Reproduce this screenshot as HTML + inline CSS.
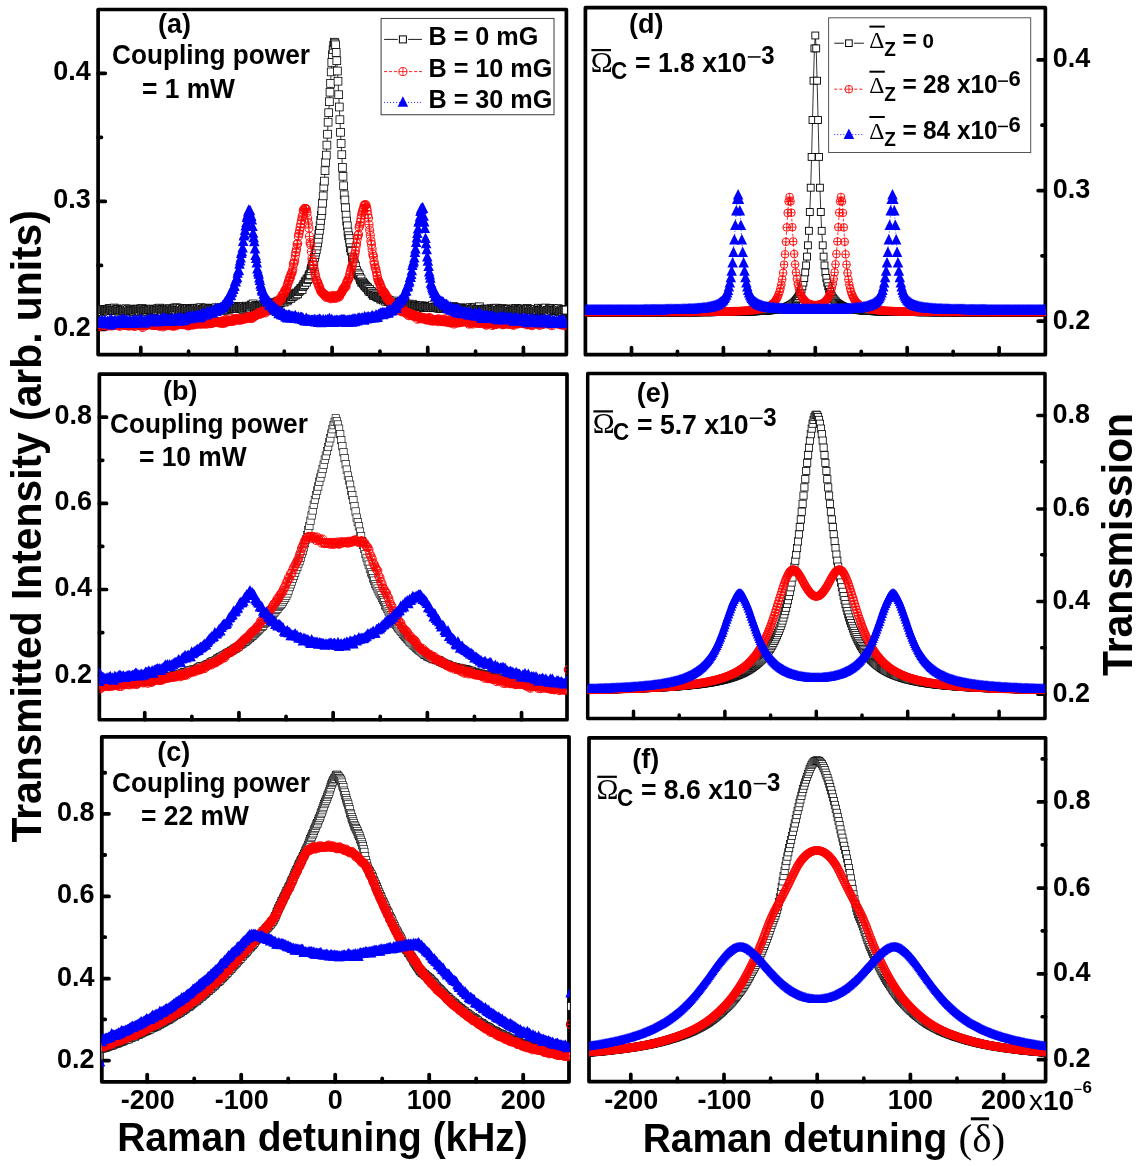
<!DOCTYPE html>
<html><head><meta charset="utf-8"><title>EIT figure</title>
<style>html,body{margin:0;padding:0;background:#fff}svg{display:block;will-change:transform}text{font-family:"Liberation Sans", sans-serif;font-weight:bold;fill:#000}.s{font-family:"Liberation Serif", serif;font-weight:normal}.n{font-weight:normal}</style></head><body>
<svg width="1136" height="1166" viewBox="0 0 1136 1166">
<rect width="1136" height="1166" fill="#fff"/>
<defs>
<marker id="ka" markerUnits="userSpaceOnUse" markerWidth="9.8" markerHeight="9.8" refX="4.40" refY="4.40" overflow="visible"><rect x="0.5" y="0.5" width="7.80" height="7.80" fill="#fff" stroke="#000" stroke-width="0.80"/></marker>
<marker id="ra" markerUnits="userSpaceOnUse" markerWidth="10.0" markerHeight="10.0" refX="4.50" refY="4.50" overflow="visible"><circle cx="4.50" cy="4.50" r="4.05" fill="none" stroke="#f00" stroke-width="0.9"/><path d="M0.45 4.50H8.55M4.50 0.45V8.55" stroke="#f00" stroke-width="0.8" fill="none"/></marker>
<marker id="ba" markerUnits="userSpaceOnUse" markerWidth="11.5" markerHeight="11.5" refX="5.25" refY="6.09" overflow="visible"><path d="M0 10.50L5.25 0L10.50 10.50Z" fill="#00f"/></marker>
<marker id="kb" markerUnits="userSpaceOnUse" markerWidth="9.4" markerHeight="9.4" refX="4.20" refY="4.20" overflow="visible"><rect x="0.5" y="0.5" width="7.40" height="7.40" fill="#fff" stroke="#000" stroke-width="0.65"/></marker>
<marker id="rb" markerUnits="userSpaceOnUse" markerWidth="10.4" markerHeight="10.4" refX="4.70" refY="4.70" overflow="visible"><circle cx="4.70" cy="4.70" r="4.25" fill="none" stroke="#f00" stroke-width="0.9"/><path d="M0.45 4.70H8.95M4.70 0.45V8.95" stroke="#f00" stroke-width="0.8" fill="none"/></marker>
<marker id="bb" markerUnits="userSpaceOnUse" markerWidth="11.5" markerHeight="11.5" refX="5.25" refY="6.09" overflow="visible"><path d="M0 10.50L5.25 0L10.50 10.50Z" fill="#00f"/></marker>
<marker id="kc" markerUnits="userSpaceOnUse" markerWidth="9.6" markerHeight="9.6" refX="4.30" refY="4.30" overflow="visible"><rect x="0.5" y="0.5" width="7.60" height="7.60" fill="#fff" stroke="#000" stroke-width="0.65"/></marker>
<marker id="rc" markerUnits="userSpaceOnUse" markerWidth="10.0" markerHeight="10.0" refX="4.50" refY="4.50" overflow="visible"><circle cx="4.50" cy="4.50" r="4.05" fill="none" stroke="#f00" stroke-width="0.9"/><path d="M0.45 4.50H8.55M4.50 0.45V8.55" stroke="#f00" stroke-width="0.8" fill="none"/></marker>
<marker id="bc" markerUnits="userSpaceOnUse" markerWidth="11.0" markerHeight="11.0" refX="5.00" refY="5.80" overflow="visible"><path d="M0 10.00L5.00 0L10.00 10.00Z" fill="#00f"/></marker>
<marker id="kd" markerUnits="userSpaceOnUse" markerWidth="8.9" markerHeight="8.9" refX="3.95" refY="3.95" overflow="visible"><rect x="0.5" y="0.5" width="6.90" height="6.90" fill="#fff" stroke="#000" stroke-width="0.90"/></marker>
<marker id="rd" markerUnits="userSpaceOnUse" markerWidth="9.6" markerHeight="9.6" refX="4.30" refY="4.30" overflow="visible"><circle cx="4.30" cy="4.30" r="3.85" fill="none" stroke="#f00" stroke-width="0.9"/><path d="M0.45 4.30H8.15M4.30 0.45V8.15" stroke="#f00" stroke-width="0.8" fill="none"/></marker>
<marker id="bd" markerUnits="userSpaceOnUse" markerWidth="11.5" markerHeight="11.5" refX="5.25" refY="6.09" overflow="visible"><path d="M0 10.50L5.25 0L10.50 10.50Z" fill="#00f"/></marker>
<marker id="ke" markerUnits="userSpaceOnUse" markerWidth="9.2" markerHeight="9.2" refX="4.10" refY="4.10" overflow="visible"><rect x="0.5" y="0.5" width="7.20" height="7.20" fill="#fff" stroke="#000" stroke-width="0.80"/></marker>
<marker id="re" markerUnits="userSpaceOnUse" markerWidth="9.8" markerHeight="9.8" refX="4.40" refY="4.40" overflow="visible"><circle cx="4.40" cy="4.40" r="3.95" fill="none" stroke="#f00" stroke-width="0.9"/><path d="M0.45 4.40H8.35M4.40 0.45V8.35" stroke="#f00" stroke-width="0.8" fill="none"/></marker>
<marker id="be" markerUnits="userSpaceOnUse" markerWidth="10.6" markerHeight="10.6" refX="4.80" refY="5.57" overflow="visible"><path d="M0 9.60L4.80 0L9.60 9.60Z" fill="#00f"/></marker>
<marker id="kf" markerUnits="userSpaceOnUse" markerWidth="9.2" markerHeight="9.2" refX="4.10" refY="4.10" overflow="visible"><rect x="0.5" y="0.5" width="7.20" height="7.20" fill="#fff" stroke="#000" stroke-width="0.75"/></marker>
<marker id="rf" markerUnits="userSpaceOnUse" markerWidth="9.8" markerHeight="9.8" refX="4.40" refY="4.40" overflow="visible"><circle cx="4.40" cy="4.40" r="3.95" fill="none" stroke="#f00" stroke-width="0.9"/><path d="M0.45 4.40H8.35M4.40 0.45V8.35" stroke="#f00" stroke-width="0.8" fill="none"/></marker>
<marker id="bf" markerUnits="userSpaceOnUse" markerWidth="10.2" markerHeight="10.0" refX="4.60" refY="5.22" overflow="visible"><path d="M0 9.00L4.60 0L9.20 9.00Z" fill="#00f"/></marker>
</defs>
<path d="M140.80 354.60v-7.20M236.45 354.60v-7.20M332.10 354.60v-7.20M427.75 354.60v-7.20M523.40 354.60v-7.20M188.63 354.60v-3.40M284.28 354.60v-3.40M379.93 354.60v-3.40M475.58 354.60v-3.40M98.10 73.30h7.20M98.10 201.40h7.20M98.10 329.50h7.20M98.10 137.35h3.40M98.10 265.45h3.40" stroke="#000" stroke-width="3.70" stroke-linecap="round" fill="none"/>
<rect x="98.10" y="9.50" width="468.30" height="345.10" fill="none" stroke="#000" stroke-width="3.70" stroke-linejoin="round"/>
<path d="M144.75 719.75v-7.20M238.95 719.75v-7.20M333.15 719.75v-7.20M427.35 719.75v-7.20M521.55 719.75v-7.20M191.85 719.75v-3.40M286.05 719.75v-3.40M380.25 719.75v-3.40M474.45 719.75v-3.40M99.35 417.20h7.20M99.35 503.40h7.20M99.35 589.50h7.20M99.35 675.70h7.20M99.35 460.28h3.40M99.35 546.45h3.40M99.35 632.62h3.40" stroke="#000" stroke-width="3.70" stroke-linecap="round" fill="none"/>
<rect x="99.35" y="374.20" width="467.65" height="345.55" fill="none" stroke="#000" stroke-width="3.70" stroke-linejoin="round"/>
<path d="M147.20 1081.80v-7.20M241.20 1081.80v-7.20M335.20 1081.80v-7.20M429.20 1081.80v-7.20M523.20 1081.80v-7.20M194.20 1081.80v-3.40M288.20 1081.80v-3.40M382.20 1081.80v-3.40M476.20 1081.80v-3.40M101.80 813.85h7.20M101.80 896.40h7.20M101.80 978.70h7.20M101.80 1060.60h7.20M101.80 772.73h3.40M101.80 854.98h3.40M101.80 937.22h3.40M101.80 1019.47h3.40" stroke="#000" stroke-width="3.80" stroke-linecap="round" fill="none"/>
<rect x="101.80" y="736.90" width="467.20" height="344.90" fill="none" stroke="#000" stroke-width="3.80" stroke-linejoin="round"/>
<path d="M631.50 354.70v-7.20M723.40 354.70v-7.20M815.30 354.70v-7.20M907.20 354.70v-7.20M999.10 354.70v-7.20M677.45 354.70v-3.40M769.35 354.70v-3.40M861.25 354.70v-3.40M953.15 354.70v-3.40M1045.35 59.90h-7.20M1045.35 190.60h-7.20M1045.35 321.10h-7.20M1045.35 125.20h-3.40M1045.35 255.80h-3.40" stroke="#000" stroke-width="3.70" stroke-linecap="round" fill="none"/>
<rect x="585.40" y="7.70" width="459.95" height="347.00" fill="none" stroke="#000" stroke-width="3.70" stroke-linejoin="round"/>
<path d="M633.50 718.50v-7.20M724.90 718.50v-7.20M816.30 718.50v-7.20M907.70 718.50v-7.20M999.10 718.50v-7.20M679.20 718.50v-3.40M770.60 718.50v-3.40M862.00 718.50v-3.40M953.40 718.50v-3.40M1045.00 415.40h-7.20M1045.00 508.90h-7.20M1045.00 601.60h-7.20M1045.00 694.20h-7.20M1045.00 461.87h-3.40M1045.00 554.80h-3.40M1045.00 647.73h-3.40" stroke="#000" stroke-width="3.50" stroke-linecap="round" fill="none"/>
<rect x="587.70" y="373.50" width="457.30" height="345.00" fill="none" stroke="#000" stroke-width="3.50" stroke-linejoin="round"/>
<path d="M630.80 1081.55v-7.20M724.00 1081.55v-7.20M817.20 1081.55v-7.20M910.40 1081.55v-7.20M1003.60 1081.55v-7.20M677.40 1081.55v-3.40M770.60 1081.55v-3.40M863.80 1081.55v-3.40M957.00 1081.55v-3.40M1045.60 801.90h-7.20M1045.60 888.10h-7.20M1045.60 973.90h-7.20M1045.60 1059.70h-7.20M1045.60 758.93h-3.40M1045.60 844.87h-3.40M1045.60 930.80h-3.40M1045.60 1016.73h-3.40" stroke="#000" stroke-width="3.70" stroke-linecap="round" fill="none"/>
<rect x="589.00" y="737.80" width="456.60" height="343.75" fill="none" stroke="#000" stroke-width="3.70" stroke-linejoin="round"/>
<clipPath id="cpa"><rect x="98.10" y="9.50" width="468.30" height="345.10"/></clipPath>
<g clip-path="url(#cpa)">
<polyline points="98.1,310.3 98.7,310.6 99.3,310.1 100.0,309.5 100.6,309.9 101.2,309.4 101.8,310.4 102.4,311.5 103.1,309.9 103.7,309.7 104.3,310.7 104.9,310.6 105.5,310.4 106.2,309.5 106.8,310.3 107.4,310.9 108.0,309.1 108.6,309.9 109.3,308.6 109.9,309.1 110.5,308.6 111.1,310.1 111.7,309.1 112.4,310.5 113.0,310.4 113.6,310.1 114.2,308.0 114.8,309.8 115.5,310.2 116.1,310.3 116.7,308.9 117.3,309.8 117.9,309.4 118.6,309.5 119.2,311.2 119.8,309.5 120.4,310.2 121.0,311.0 121.7,309.7 122.3,310.1 122.9,310.3 123.5,310.3 124.1,309.1 124.8,310.3 125.4,311.4 126.0,308.8 126.6,311.0 127.2,310.3 127.9,309.6 128.5,312.0 129.1,310.9 129.7,309.1 130.3,310.2 131.0,310.7 131.6,310.0 132.2,310.8 132.8,310.1 133.4,310.7 134.1,311.4 134.7,309.5 135.3,310.3 135.9,309.7 136.5,310.2 137.2,309.0 137.8,309.6 138.4,309.9 139.0,310.9 139.6,311.1 140.3,308.9 140.9,309.4 141.5,310.7 142.1,308.3 142.7,309.7 143.4,310.0 144.0,311.2 144.6,310.7 145.2,309.8 145.8,309.7 146.5,309.8 147.1,311.4 147.7,309.7 148.3,309.8 148.9,310.3 149.6,309.9 150.2,309.8 150.8,309.0 151.4,310.0 152.0,309.6 152.7,311.0 153.3,310.6 153.9,310.0 154.5,310.6 155.1,309.7 155.8,310.9 156.4,310.0 157.0,310.5 157.6,308.8 158.2,310.3 158.9,308.4 159.5,308.1 160.1,309.6 160.7,309.1 161.3,310.1 162.0,311.9 162.6,309.1 163.2,309.3 163.8,310.1 164.4,310.3 165.1,309.7 165.7,309.7 166.3,310.5 166.9,310.3 167.5,308.9 168.2,309.8 168.8,309.9 169.4,308.9 170.0,310.0 170.6,309.0 171.3,310.7 171.9,310.0 172.5,309.9 173.1,309.2 173.7,309.7 174.4,308.0 175.0,308.7 175.6,310.1 176.2,307.8 176.8,310.5 177.5,308.1 178.1,310.4 178.7,308.9 179.3,310.4 179.9,309.8 180.6,308.3 181.2,310.8 181.8,311.0 182.4,309.6 183.0,309.4 183.7,309.5 184.3,308.7 184.9,310.6 185.5,309.1 186.1,309.5 186.8,308.9 187.4,309.0 188.0,308.4 188.6,310.7 189.2,309.4 189.9,310.4 190.5,309.5 191.1,308.9 191.7,309.2 192.3,309.0 193.0,309.5 193.6,309.1 194.2,309.2 194.8,308.2 195.4,308.7 196.1,310.9 196.7,308.8 197.3,308.4 197.9,309.7 198.5,310.6 199.2,308.0 199.8,309.1 200.4,308.8 201.0,307.7 201.6,310.0 202.3,309.3 202.9,309.3 203.5,308.6 204.1,309.6 204.7,308.7 205.4,309.1 206.0,308.2 206.6,308.1 207.2,310.4 207.8,308.7 208.5,309.4 209.1,309.1 209.7,308.7 210.3,308.6 210.9,309.6 211.6,308.8 212.2,308.9 212.8,309.0 213.4,310.0 214.0,309.6 214.7,309.3 215.3,308.4 215.9,307.7 216.5,309.7 217.1,309.7 217.8,308.7 218.4,309.3 219.0,309.5 219.6,309.5 220.2,309.6 220.9,308.3 221.5,310.1 222.1,307.6 222.7,309.5 223.3,309.1 224.0,309.4 224.6,310.3 225.2,309.9 225.8,307.5 226.4,307.0 227.1,309.2 227.7,307.6 228.3,308.4 228.9,309.2 229.5,306.9 230.2,306.5 230.8,308.6 231.4,308.4 232.0,308.1 232.6,308.3 233.3,307.4 233.9,306.8 234.5,308.0 235.1,307.2 235.7,306.6 236.4,308.5 237.0,308.0 237.6,308.4 238.2,307.1 238.8,307.3 239.5,307.0 240.1,307.0 240.7,308.0 241.3,307.1 241.9,308.0 242.6,308.0 243.2,309.5 243.8,306.3 244.4,308.4 245.0,307.4 245.7,307.4 246.3,306.1 246.9,307.0 247.5,308.0 248.1,307.2 248.8,307.3 249.4,306.9 250.0,308.2 250.6,307.0 251.2,305.0 251.9,306.3 252.5,305.1 253.1,303.9 253.7,306.3 254.3,307.9 255.0,306.7 255.6,305.5 256.2,305.7 256.8,307.5 257.4,306.5 258.1,306.4 258.7,306.2 259.3,306.2 259.9,306.8 260.5,306.5 261.2,306.1 261.8,304.9 262.4,306.2 263.0,305.1 263.6,306.6 264.3,304.4 264.9,305.3 265.5,305.3 266.1,304.0 266.7,306.7 267.4,306.3 268.0,304.5 268.6,305.5 269.2,305.0 269.8,302.2 270.5,304.7 271.1,304.3 271.7,304.3 272.3,303.1 272.9,303.7 273.6,303.7 274.2,304.7 274.8,303.8 275.4,303.4 276.0,304.6 276.7,302.6 277.3,302.6 277.9,301.1 278.5,304.0 279.1,303.3 279.8,303.0 280.4,302.6 281.0,301.9 281.6,301.8 282.2,301.2 282.9,301.0 283.5,301.0 284.1,302.1 284.7,301.0 285.3,300.2 286.0,299.5 286.6,299.1 287.2,300.9 287.8,299.6 288.4,298.9 289.1,298.2 289.7,297.2 290.3,297.8 290.9,298.3 291.5,296.8 292.2,296.6 292.8,296.2 293.4,296.1 294.0,294.1 294.6,294.9 295.3,293.8 295.9,294.9 296.5,292.9 297.1,293.6 297.7,293.9 298.4,291.7 299.0,290.8 299.6,290.9 300.2,290.0 300.8,288.4 301.5,289.0 302.1,289.6 302.7,286.7 303.3,285.9 303.9,284.2 304.6,284.5 305.2,282.1 305.8,281.1 306.4,282.2 307.0,279.0 307.7,279.5 308.3,278.6 308.9,276.0 309.5,274.8 310.1,274.4 310.8,270.8 311.4,268.6 312.0,266.0 312.6,265.2 313.2,264.3 313.9,261.5 314.5,257.3 315.1,254.7 315.7,252.1 316.3,249.7 317.0,246.0 317.6,242.8 318.2,239.1 318.8,234.4 319.4,230.3 320.1,225.7 320.7,220.4 321.3,215.4 321.9,210.7 322.5,203.2 323.2,195.9 323.8,187.0 324.4,181.1 325.0,170.7 325.6,162.3 326.3,155.1 326.9,145.1 327.5,134.2 328.1,122.2 328.7,112.7 329.4,101.7 330.0,92.2 330.6,83.4 331.2,71.9 331.8,62.4 332.5,54.6 333.1,49.6 333.7,45.3 334.3,42.2 334.9,43.1 335.6,44.8 336.2,52.5 336.8,60.7 337.4,71.0 338.0,81.2 338.7,94.7 339.3,107.0 339.9,119.7 340.5,132.3 341.1,143.5 341.8,154.7 342.4,167.4 343.0,176.3 343.6,185.8 344.2,194.8 344.9,200.0 345.5,207.8 346.1,215.1 346.7,221.1 347.3,225.8 348.0,232.0 348.6,235.7 349.2,238.6 349.8,242.6 350.4,247.7 351.1,250.6 351.7,251.5 352.3,257.1 352.9,259.0 353.5,262.1 354.2,262.8 354.8,264.9 355.4,266.1 356.0,271.2 356.6,270.5 357.3,273.6 357.9,273.1 358.5,275.3 359.1,274.9 359.7,277.4 360.4,279.8 361.0,278.9 361.6,282.0 362.2,282.4 362.8,282.1 363.5,283.5 364.1,284.4 364.7,285.6 365.3,285.9 365.9,286.4 366.6,287.6 367.2,287.6 367.8,288.1 368.4,289.8 369.0,291.2 369.7,289.6 370.3,291.6 370.9,291.5 371.5,291.7 372.1,293.9 372.8,293.1 373.4,295.4 374.0,293.7 374.6,295.2 375.2,295.1 375.9,295.0 376.5,296.6 377.1,296.2 377.7,297.3 378.3,297.0 379.0,296.4 379.6,297.6 380.2,298.0 380.8,299.2 381.4,297.8 382.1,298.8 382.7,297.6 383.3,300.0 383.9,298.6 384.5,298.2 385.2,300.0 385.8,301.3 386.4,299.2 387.0,299.8 387.6,300.3 388.3,300.1 388.9,301.7 389.5,300.8 390.1,301.1 390.7,302.4 391.4,301.4 392.0,302.6 392.6,301.5 393.2,301.5 393.8,301.0 394.5,304.5 395.1,302.7 395.7,303.4 396.3,303.2 396.9,303.6 397.6,303.6 398.2,305.4 398.8,302.9 399.4,302.5 400.0,303.1 400.7,302.9 401.3,304.9 401.9,305.1 402.5,303.6 403.1,303.3 403.8,304.4 404.4,306.0 405.0,302.3 405.6,305.4 406.2,304.1 406.9,306.1 407.5,304.3 408.1,305.1 408.7,304.1 409.3,304.6 410.0,306.8 410.6,306.4 411.2,305.4 411.8,305.0 412.4,304.2 413.1,305.6 413.7,306.0 414.3,306.0 414.9,306.1 415.5,305.2 416.2,306.2 416.8,306.3 417.4,307.6 418.0,308.2 418.6,306.4 419.3,305.9 419.9,306.6 420.5,306.2 421.1,306.1 421.7,306.8 422.4,305.9 423.0,307.5 423.6,306.9 424.2,307.3 424.8,306.9 425.5,306.5 426.1,306.3 426.7,307.0 427.3,306.8 427.9,307.5 428.6,307.3 429.2,306.2 429.8,307.5 430.4,306.3 431.0,307.0 431.7,307.3 432.3,305.7 432.9,307.7 433.5,307.8 434.1,307.6 434.8,307.4 435.4,307.4 436.0,306.9 436.6,307.6 437.2,307.4 437.9,308.0 438.5,306.9 439.1,308.2 439.7,308.1 440.3,307.9 441.0,307.7 441.6,308.6 442.2,306.6 442.8,308.6 443.4,308.4 444.1,308.5 444.7,308.6 445.3,307.7 445.9,308.1 446.5,308.9 447.2,308.7 447.8,308.6 448.4,307.0 449.0,308.9 449.6,309.5 450.3,309.4 450.9,308.7 451.5,307.1 452.1,309.4 452.7,308.4 453.4,306.3 454.0,309.0 454.6,307.3 455.2,307.5 455.8,308.1 456.5,309.9 457.1,308.4 457.7,309.0 458.3,310.3 458.9,310.2 459.6,308.7 460.2,308.6 460.8,307.7 461.4,308.2 462.0,309.3 462.7,309.3 463.3,309.0 463.9,309.8 464.5,308.3 465.1,308.9 465.8,309.6 466.4,309.5 467.0,310.0 467.6,309.4 468.2,308.8 468.9,309.4 469.5,308.2 470.1,307.6 470.7,309.6 471.3,309.1 472.0,309.4 472.6,307.6 473.2,308.8 473.8,308.6 474.4,308.4 475.1,307.2 475.7,308.9 476.3,310.0 476.9,309.6 477.5,308.7 478.2,309.3 478.8,310.0 479.4,306.8 480.0,309.2 480.6,309.8 481.3,310.0 481.9,310.9 482.5,310.4 483.1,309.7 483.7,309.7 484.4,310.1 485.0,308.9 485.6,309.4 486.2,310.2 486.8,311.2 487.5,309.3 488.1,309.4 488.7,309.7 489.3,310.7 489.9,309.5 490.6,310.8 491.2,308.6 491.8,309.4 492.4,309.4 493.0,310.3 493.7,310.5 494.3,308.2 494.9,308.8 495.5,309.9 496.1,309.0 496.8,308.2 497.4,310.5 498.0,310.1 498.6,310.1 499.2,309.2 499.9,310.6 500.5,309.4 501.1,310.6 501.7,308.9 502.3,308.9 503.0,309.9 503.6,309.1 504.2,310.3 504.8,309.9 505.4,308.9 506.1,309.8 506.7,309.4 507.3,310.6 507.9,309.2 508.5,309.4 509.2,310.9 509.8,311.8 510.4,311.6 511.0,309.8 511.6,310.0 512.3,311.2 512.9,309.7 513.5,308.9 514.1,309.9 514.7,310.2 515.4,309.1 516.0,308.4 516.6,308.6 517.2,310.5 517.8,309.2 518.5,309.7 519.1,310.1 519.7,310.4 520.3,309.6 520.9,310.3 521.6,309.1 522.2,309.6 522.8,309.0 523.4,310.9 524.0,309.9 524.7,309.3 525.3,309.6 525.9,309.7 526.5,310.6 527.1,308.5 527.8,309.0 528.4,309.6 529.0,312.2 529.6,310.8 530.2,309.9 530.9,310.6 531.5,311.8 532.1,309.8 532.7,309.7 533.3,311.1 534.0,310.4 534.6,310.6 535.2,309.6 535.8,311.7 536.4,311.6 537.1,310.5 537.7,310.6 538.3,308.2 538.9,310.6 539.5,309.9 540.2,310.4 540.8,310.7 541.4,309.8 542.0,308.5 542.6,310.4 543.3,309.4 543.9,309.8 544.5,309.5 545.1,309.8 545.7,308.0 546.4,311.2 547.0,310.3 547.6,311.1 548.2,311.9 548.8,310.1 549.5,308.5 550.1,309.3 550.7,309.0 551.3,309.7 551.9,310.2 552.6,308.3 553.2,310.4 553.8,308.8 554.4,310.4 555.0,310.0 555.7,309.9 556.3,310.1 556.9,309.7 557.5,309.6 558.1,308.6 558.8,310.1 559.4,311.8 560.0,312.0 560.6,311.4 561.2,310.8 561.9,309.6 562.5,311.5 563.1,310.1 563.7,310.1 564.3,309.9 565.0,310.3 565.6,309.8 566.2,310.1" fill="none" stroke="#000" stroke-width="0.8" style="marker:url(#ka)"/>
<polyline points="98.1,323.5 98.7,324.2 99.3,326.6 100.0,324.5 100.6,324.3 101.2,325.0 101.8,325.2 102.4,323.6 103.1,324.4 103.7,325.4 104.3,324.8 104.9,324.7 105.5,326.0 106.2,324.0 106.8,324.7 107.4,324.2 108.0,326.0 108.6,322.9 109.3,324.1 109.9,324.2 110.5,325.3 111.1,325.2 111.7,326.0 112.4,323.3 113.0,325.4 113.6,324.5 114.2,324.1 114.8,325.2 115.5,323.9 116.1,322.9 116.7,324.5 117.3,323.5 117.9,324.2 118.6,325.2 119.2,325.1 119.8,326.3 120.4,324.7 121.0,323.5 121.7,324.2 122.3,324.1 122.9,323.8 123.5,325.3 124.1,324.3 124.8,323.2 125.4,325.6 126.0,324.9 126.6,325.3 127.2,325.1 127.9,325.6 128.5,325.0 129.1,326.1 129.7,325.4 130.3,325.4 131.0,325.4 131.6,323.7 132.2,324.9 132.8,324.8 133.4,325.2 134.1,323.8 134.7,326.5 135.3,325.2 135.9,324.0 136.5,323.5 137.2,324.8 137.8,325.0 138.4,324.4 139.0,325.2 139.6,324.5 140.3,325.6 140.9,324.4 141.5,325.0 142.1,326.0 142.7,327.4 143.4,324.2 144.0,324.7 144.6,324.3 145.2,325.8 145.8,324.0 146.5,324.6 147.1,325.0 147.7,324.1 148.3,324.2 148.9,324.6 149.6,323.1 150.2,323.7 150.8,324.6 151.4,325.1 152.0,324.8 152.7,323.3 153.3,324.5 153.9,325.6 154.5,325.4 155.1,324.8 155.8,324.1 156.4,325.4 157.0,324.3 157.6,323.8 158.2,324.1 158.9,326.1 159.5,325.0 160.1,325.8 160.7,324.3 161.3,325.6 162.0,324.2 162.6,324.6 163.2,326.9 163.8,325.4 164.4,324.2 165.1,324.6 165.7,324.9 166.3,325.7 166.9,324.1 167.5,323.0 168.2,324.3 168.8,324.5 169.4,324.6 170.0,325.7 170.6,324.8 171.3,325.2 171.9,323.4 172.5,325.2 173.1,326.3 173.7,325.1 174.4,324.6 175.0,324.5 175.6,325.9 176.2,323.5 176.8,324.2 177.5,324.7 178.1,324.9 178.7,323.8 179.3,324.5 179.9,323.9 180.6,324.2 181.2,324.0 181.8,323.1 182.4,324.0 183.0,324.8 183.7,323.1 184.3,323.8 184.9,324.6 185.5,323.0 186.1,324.1 186.8,322.9 187.4,324.9 188.0,325.9 188.6,325.6 189.2,323.6 189.9,324.4 190.5,323.8 191.1,323.8 191.7,325.1 192.3,322.5 193.0,324.6 193.6,323.5 194.2,324.8 194.8,323.7 195.4,322.9 196.1,323.7 196.7,324.1 197.3,323.4 197.9,323.8 198.5,322.9 199.2,321.4 199.8,324.1 200.4,323.8 201.0,323.3 201.6,323.2 202.3,324.0 202.9,322.7 203.5,322.4 204.1,322.8 204.7,324.0 205.4,321.7 206.0,323.9 206.6,322.3 207.2,321.8 207.8,323.9 208.5,322.6 209.1,321.5 209.7,322.3 210.3,323.4 210.9,323.6 211.6,322.1 212.2,322.8 212.8,323.0 213.4,321.8 214.0,322.6 214.7,322.2 215.3,321.7 215.9,321.7 216.5,322.1 217.1,322.1 217.8,321.5 218.4,321.5 219.0,322.9 219.6,322.0 220.2,322.5 220.9,322.8 221.5,322.2 222.1,323.6 222.7,320.8 223.3,322.2 224.0,321.1 224.6,323.0 225.2,322.8 225.8,319.4 226.4,320.2 227.1,321.6 227.7,321.7 228.3,321.5 228.9,320.7 229.5,321.1 230.2,321.2 230.8,320.5 231.4,321.4 232.0,318.4 232.6,320.9 233.3,319.3 233.9,321.0 234.5,319.8 235.1,319.2 235.7,320.2 236.4,319.0 237.0,318.9 237.6,318.2 238.2,319.5 238.8,319.8 239.5,320.2 240.1,319.0 240.7,320.0 241.3,319.0 241.9,318.7 242.6,319.2 243.2,319.5 243.8,318.2 244.4,318.1 245.0,318.1 245.7,318.2 246.3,317.1 246.9,318.7 247.5,317.3 248.1,317.9 248.8,316.6 249.4,317.5 250.0,317.4 250.6,316.5 251.2,318.6 251.9,316.9 252.5,318.0 253.1,317.1 253.7,315.5 254.3,315.5 255.0,316.1 255.6,315.5 256.2,315.3 256.8,314.8 257.4,313.2 258.1,314.4 258.7,312.4 259.3,314.5 259.9,313.3 260.5,313.1 261.2,313.3 261.8,313.4 262.4,311.6 263.0,311.1 263.6,311.4 264.3,310.2 264.9,310.9 265.5,312.9 266.1,310.2 266.7,311.4 267.4,309.2 268.0,310.4 268.6,309.5 269.2,309.3 269.8,309.5 270.5,310.1 271.1,308.3 271.7,307.8 272.3,306.3 272.9,307.2 273.6,306.0 274.2,306.4 274.8,305.1 275.4,306.1 276.0,302.2 276.7,303.1 277.3,303.5 277.9,301.7 278.5,300.6 279.1,300.3 279.8,298.5 280.4,299.1 281.0,300.3 281.6,298.2 282.2,295.2 282.9,294.4 283.5,293.7 284.1,293.9 284.7,291.0 285.3,289.9 286.0,290.0 286.6,288.5 287.2,285.9 287.8,283.7 288.4,281.6 289.1,280.6 289.7,277.3 290.3,277.9 290.9,274.5 291.5,273.3 292.2,272.1 292.8,268.9 293.4,264.1 294.0,263.1 294.6,260.3 295.3,255.5 295.9,252.0 296.5,249.3 297.1,244.4 297.7,243.5 298.4,236.3 299.0,233.7 299.6,230.7 300.2,227.1 300.8,223.9 301.5,220.6 302.1,217.1 302.7,215.6 303.3,210.3 303.9,210.4 304.6,208.4 305.2,208.5 305.8,208.6 306.4,209.2 307.0,212.6 307.7,218.3 308.3,223.2 308.9,228.1 309.5,236.5 310.1,242.6 310.8,244.8 311.4,251.6 312.0,258.5 312.6,261.3 313.2,264.8 313.9,268.0 314.5,270.9 315.1,274.1 315.7,276.4 316.3,279.9 317.0,280.9 317.6,282.7 318.2,283.7 318.8,286.3 319.4,286.9 320.1,288.8 320.7,291.0 321.3,291.4 321.9,292.4 322.5,293.1 323.2,293.5 323.8,294.0 324.4,294.5 325.0,296.0 325.6,294.8 326.3,297.4 326.9,296.6 327.5,296.2 328.1,296.7 328.7,296.7 329.4,297.6 330.0,297.0 330.6,298.8 331.2,297.1 331.8,295.7 332.5,297.1 333.1,295.9 333.7,297.5 334.3,298.4 334.9,297.8 335.6,295.8 336.2,296.0 336.8,298.0 337.4,296.3 338.0,295.6 338.7,296.0 339.3,296.8 339.9,295.1 340.5,293.5 341.1,293.0 341.8,292.4 342.4,290.5 343.0,289.2 343.6,289.2 344.2,287.3 344.9,287.0 345.5,285.9 346.1,286.6 346.7,282.4 347.3,281.5 348.0,279.9 348.6,278.7 349.2,277.4 349.8,274.1 350.4,271.7 351.1,268.7 351.7,267.0 352.3,265.8 352.9,262.7 353.5,258.9 354.2,256.6 354.8,253.8 355.4,251.0 356.0,246.7 356.6,243.5 357.3,238.6 357.9,235.5 358.5,234.4 359.1,227.3 359.7,225.3 360.4,222.3 361.0,218.5 361.6,215.0 362.2,212.8 362.8,210.4 363.5,208.3 364.1,205.2 364.7,205.7 365.3,204.6 365.9,205.1 366.6,207.4 367.2,210.6 367.8,214.7 368.4,218.1 369.0,224.5 369.7,230.1 370.3,235.4 370.9,240.9 371.5,244.5 372.1,249.2 372.8,254.4 373.4,256.5 374.0,261.6 374.6,264.3 375.2,267.6 375.9,269.2 376.5,272.6 377.1,275.7 377.7,278.7 378.3,280.9 379.0,281.8 379.6,283.4 380.2,284.5 380.8,287.1 381.4,287.9 382.1,290.0 382.7,292.3 383.3,291.8 383.9,291.6 384.5,293.3 385.2,293.7 385.8,294.9 386.4,298.0 387.0,297.9 387.6,297.2 388.3,299.9 388.9,301.2 389.5,300.5 390.1,300.9 390.7,301.8 391.4,303.0 392.0,303.9 392.6,305.0 393.2,305.6 393.8,306.1 394.5,306.8 395.1,306.7 395.7,305.2 396.3,306.9 396.9,307.8 397.6,307.6 398.2,309.2 398.8,308.5 399.4,308.3 400.0,310.9 400.7,310.5 401.3,310.5 401.9,311.5 402.5,311.9 403.1,311.6 403.8,309.4 404.4,311.3 405.0,311.8 405.6,311.6 406.2,313.0 406.9,314.2 407.5,312.9 408.1,312.6 408.7,315.7 409.3,313.7 410.0,313.2 410.6,314.8 411.2,315.2 411.8,314.3 412.4,315.9 413.1,315.0 413.7,314.8 414.3,315.9 414.9,316.7 415.5,315.6 416.2,316.6 416.8,316.4 417.4,319.2 418.0,316.2 418.6,318.2 419.3,317.1 419.9,317.2 420.5,318.1 421.1,318.4 421.7,318.8 422.4,318.1 423.0,317.4 423.6,317.6 424.2,318.7 424.8,318.9 425.5,319.7 426.1,318.9 426.7,319.6 427.3,320.1 427.9,319.0 428.6,317.7 429.2,318.0 429.8,317.9 430.4,320.7 431.0,318.6 431.7,320.6 432.3,320.1 432.9,321.2 433.5,320.6 434.1,319.7 434.8,319.7 435.4,320.0 436.0,320.2 436.6,319.6 437.2,320.2 437.9,321.7 438.5,318.8 439.1,320.6 439.7,319.6 440.3,320.7 441.0,321.3 441.6,320.6 442.2,321.4 442.8,319.3 443.4,321.8 444.1,320.3 444.7,321.5 445.3,321.1 445.9,318.7 446.5,320.4 447.2,321.3 447.8,322.6 448.4,321.5 449.0,321.5 449.6,320.0 450.3,322.6 450.9,323.0 451.5,321.5 452.1,321.3 452.7,320.1 453.4,322.4 454.0,324.0 454.6,322.3 455.2,322.8 455.8,322.2 456.5,320.9 457.1,323.0 457.7,320.7 458.3,321.7 458.9,322.1 459.6,322.7 460.2,322.3 460.8,322.3 461.4,321.3 462.0,320.9 462.7,322.1 463.3,321.5 463.9,320.9 464.5,321.0 465.1,321.7 465.8,320.5 466.4,321.0 467.0,320.8 467.6,322.4 468.2,322.7 468.9,324.1 469.5,321.0 470.1,321.8 470.7,323.2 471.3,322.2 472.0,322.2 472.6,324.0 473.2,322.2 473.8,321.5 474.4,321.3 475.1,322.9 475.7,322.8 476.3,321.4 476.9,321.7 477.5,323.1 478.2,323.2 478.8,322.1 479.4,323.2 480.0,323.2 480.6,321.1 481.3,322.4 481.9,323.1 482.5,322.2 483.1,320.9 483.7,322.5 484.4,323.5 485.0,324.2 485.6,320.9 486.2,325.2 486.8,321.8 487.5,323.7 488.1,324.0 488.7,323.8 489.3,323.0 489.9,321.9 490.6,323.5 491.2,322.3 491.8,320.7 492.4,325.5 493.0,323.6 493.7,324.6 494.3,322.2 494.9,324.3 495.5,324.4 496.1,324.4 496.8,323.0 497.4,322.0 498.0,322.9 498.6,321.1 499.2,321.5 499.9,323.2 500.5,322.2 501.1,322.9 501.7,323.0 502.3,324.8 503.0,324.3 503.6,323.1 504.2,324.2 504.8,322.4 505.4,322.8 506.1,324.0 506.7,322.0 507.3,322.9 507.9,322.0 508.5,323.3 509.2,324.6 509.8,322.5 510.4,323.4 511.0,322.4 511.6,322.2 512.3,322.1 512.9,324.5 513.5,325.3 514.1,323.6 514.7,322.6 515.4,323.8 516.0,322.9 516.6,323.9 517.2,323.5 517.8,323.5 518.5,323.8 519.1,322.7 519.7,322.9 520.3,321.7 520.9,322.8 521.6,322.0 522.2,323.1 522.8,322.4 523.4,323.3 524.0,323.7 524.7,322.0 525.3,322.5 525.9,322.4 526.5,323.9 527.1,324.8 527.8,324.0 528.4,323.0 529.0,324.6 529.6,321.9 530.2,324.6 530.9,322.7 531.5,320.8 532.1,325.7 532.7,324.7 533.3,322.3 534.0,323.4 534.6,323.1 535.2,323.4 535.8,321.9 536.4,322.7 537.1,323.7 537.7,323.5 538.3,324.4 538.9,323.3 539.5,325.4 540.2,322.6 540.8,323.5 541.4,321.6 542.0,322.1 542.6,324.5 543.3,322.4 543.9,323.8 544.5,323.2 545.1,322.3 545.7,323.0 546.4,322.8 547.0,322.8 547.6,323.9 548.2,323.9 548.8,322.8 549.5,322.5 550.1,323.5 550.7,323.2 551.3,324.2 551.9,325.7 552.6,324.0 553.2,323.2 553.8,323.1 554.4,322.5 555.0,322.4 555.7,322.4 556.3,322.9 556.9,322.9 557.5,323.9 558.1,322.9 558.8,323.1 559.4,322.2 560.0,324.7 560.6,323.7 561.2,324.9 561.9,324.0 562.5,324.6 563.1,323.0 563.7,323.9 564.3,325.7 565.0,322.1 565.6,324.3 566.2,324.8" fill="none" stroke="#f00" stroke-width="0.8" stroke-dasharray="3 2" style="marker:url(#ra)"/>
<polyline points="98.1,322.6 98.7,323.0 99.3,323.5 100.0,321.5 100.6,322.6 101.2,321.3 101.8,321.5 102.4,321.5 103.1,322.0 103.7,322.3 104.3,322.6 104.9,320.7 105.5,324.1 106.2,323.3 106.8,322.8 107.4,321.7 108.0,322.0 108.6,322.6 109.3,322.5 109.9,320.3 110.5,322.8 111.1,325.0 111.7,320.1 112.4,323.0 113.0,322.4 113.6,321.9 114.2,323.4 114.8,320.7 115.5,322.1 116.1,323.4 116.7,321.7 117.3,321.5 117.9,322.0 118.6,321.4 119.2,323.5 119.8,320.9 120.4,322.7 121.0,320.5 121.7,322.5 122.3,321.7 122.9,319.1 123.5,321.8 124.1,320.7 124.8,321.3 125.4,323.3 126.0,320.6 126.6,320.6 127.2,323.2 127.9,321.8 128.5,323.3 129.1,322.0 129.7,320.7 130.3,321.6 131.0,322.9 131.6,322.6 132.2,321.6 132.8,321.6 133.4,321.4 134.1,320.9 134.7,323.5 135.3,321.5 135.9,320.3 136.5,321.0 137.2,322.2 137.8,322.1 138.4,321.3 139.0,320.7 139.6,321.4 140.3,319.6 140.9,320.0 141.5,322.1 142.1,320.8 142.7,321.7 143.4,322.5 144.0,321.9 144.6,321.2 145.2,323.4 145.8,321.9 146.5,320.8 147.1,321.9 147.7,321.5 148.3,320.2 148.9,321.1 149.6,320.9 150.2,319.0 150.8,320.8 151.4,320.7 152.0,320.5 152.7,319.2 153.3,320.5 153.9,320.8 154.5,320.9 155.1,319.6 155.8,321.4 156.4,319.5 157.0,320.5 157.6,322.0 158.2,320.0 158.9,320.1 159.5,321.7 160.1,320.2 160.7,320.2 161.3,320.7 162.0,321.6 162.6,318.2 163.2,319.6 163.8,319.3 164.4,319.2 165.1,319.4 165.7,319.4 166.3,320.5 166.9,319.3 167.5,320.3 168.2,320.5 168.8,319.3 169.4,320.2 170.0,321.7 170.6,320.3 171.3,319.3 171.9,319.8 172.5,318.9 173.1,320.0 173.7,320.6 174.4,318.8 175.0,319.4 175.6,320.7 176.2,319.0 176.8,319.7 177.5,318.4 178.1,318.5 178.7,318.8 179.3,321.4 179.9,318.8 180.6,318.6 181.2,318.5 181.8,318.8 182.4,319.6 183.0,319.1 183.7,320.9 184.3,319.0 184.9,320.1 185.5,318.9 186.1,319.1 186.8,317.0 187.4,318.2 188.0,318.2 188.6,318.0 189.2,316.0 189.9,318.9 190.5,317.6 191.1,317.4 191.7,317.5 192.3,317.5 193.0,318.0 193.6,316.2 194.2,316.4 194.8,317.6 195.4,317.3 196.1,316.7 196.7,316.4 197.3,316.0 197.9,316.6 198.5,317.8 199.2,315.4 199.8,317.8 200.4,317.0 201.0,315.6 201.6,316.7 202.3,314.3 202.9,313.9 203.5,314.2 204.1,314.9 204.7,314.8 205.4,314.4 206.0,314.9 206.6,312.4 207.2,314.9 207.8,312.8 208.5,313.3 209.1,313.3 209.7,312.4 210.3,311.9 210.9,312.1 211.6,312.8 212.2,313.1 212.8,312.8 213.4,311.0 214.0,310.9 214.7,310.5 215.3,311.5 215.9,308.7 216.5,311.7 217.1,309.6 217.8,308.9 218.4,309.6 219.0,309.9 219.6,308.8 220.2,309.0 220.9,307.6 221.5,308.2 222.1,307.7 222.7,305.8 223.3,306.8 224.0,304.9 224.6,304.1 225.2,302.4 225.8,302.3 226.4,302.6 227.1,299.7 227.7,300.8 228.3,299.5 228.9,298.5 229.5,294.9 230.2,295.9 230.8,295.5 231.4,292.8 232.0,292.2 232.6,288.3 233.3,289.7 233.9,286.7 234.5,286.4 235.1,281.7 235.7,282.2 236.4,279.0 237.0,277.6 237.6,273.3 238.2,270.8 238.8,270.7 239.5,264.4 240.1,261.2 240.7,258.0 241.3,253.5 241.9,251.8 242.6,248.2 243.2,241.5 243.8,236.2 244.4,234.8 245.0,230.6 245.7,226.2 246.3,222.8 246.9,217.5 247.5,215.4 248.1,212.0 248.8,210.4 249.4,212.2 250.0,210.8 250.6,215.5 251.2,216.5 251.9,220.1 252.5,226.6 253.1,233.3 253.7,237.8 254.3,241.9 255.0,249.1 255.6,255.5 256.2,258.6 256.8,263.0 257.4,269.0 258.1,272.0 258.7,274.3 259.3,278.2 259.9,280.7 260.5,284.4 261.2,286.5 261.8,289.8 262.4,291.3 263.0,290.8 263.6,294.4 264.3,296.4 264.9,297.4 265.5,299.2 266.1,298.8 266.7,299.5 267.4,302.4 268.0,301.3 268.6,301.1 269.2,305.1 269.8,304.1 270.5,305.3 271.1,304.9 271.7,305.6 272.3,306.4 272.9,307.7 273.6,309.0 274.2,306.8 274.8,310.4 275.4,308.9 276.0,309.4 276.7,311.6 277.3,311.2 277.9,310.2 278.5,313.9 279.1,311.5 279.8,313.0 280.4,313.2 281.0,314.8 281.6,313.2 282.2,314.9 282.9,313.4 283.5,315.6 284.1,313.9 284.7,314.6 285.3,317.1 286.0,315.7 286.6,315.7 287.2,318.0 287.8,316.4 288.4,315.4 289.1,317.1 289.7,315.4 290.3,317.9 290.9,318.1 291.5,316.5 292.2,316.6 292.8,317.5 293.4,317.5 294.0,316.7 294.6,318.3 295.3,315.9 295.9,317.6 296.5,317.7 297.1,318.0 297.7,318.7 298.4,317.3 299.0,319.2 299.6,318.5 300.2,318.2 300.8,317.5 301.5,317.8 302.1,319.5 302.7,318.2 303.3,319.3 303.9,320.4 304.6,320.5 305.2,321.1 305.8,319.3 306.4,318.6 307.0,320.8 307.7,320.1 308.3,321.0 308.9,319.9 309.5,321.2 310.1,320.9 310.8,320.8 311.4,320.7 312.0,320.6 312.6,320.5 313.2,320.5 313.9,321.4 314.5,319.9 315.1,322.2 315.7,320.4 316.3,321.5 317.0,320.5 317.6,320.4 318.2,322.7 318.8,320.4 319.4,319.4 320.1,320.0 320.7,320.4 321.3,322.9 321.9,321.0 322.5,321.8 323.2,319.9 323.8,321.2 324.4,321.6 325.0,322.7 325.6,320.2 326.3,321.5 326.9,321.3 327.5,319.9 328.1,321.0 328.7,320.7 329.4,318.7 330.0,321.6 330.6,321.5 331.2,320.6 331.8,319.7 332.5,322.5 333.1,321.3 333.7,322.0 334.3,322.4 334.9,320.5 335.6,321.8 336.2,320.7 336.8,320.9 337.4,320.9 338.0,320.9 338.7,322.0 339.3,321.0 339.9,320.7 340.5,320.6 341.1,321.2 341.8,319.9 342.4,320.3 343.0,320.7 343.6,320.2 344.2,320.6 344.9,320.1 345.5,322.7 346.1,322.0 346.7,321.1 347.3,320.5 348.0,322.7 348.6,320.8 349.2,320.4 349.8,320.7 350.4,320.7 351.1,321.7 351.7,320.2 352.3,322.3 352.9,319.3 353.5,320.8 354.2,319.1 354.8,321.8 355.4,319.6 356.0,319.8 356.6,320.7 357.3,321.0 357.9,318.6 358.5,319.3 359.1,318.1 359.7,319.6 360.4,319.3 361.0,319.0 361.6,318.5 362.2,318.8 362.8,318.3 363.5,319.5 364.1,320.4 364.7,316.8 365.3,318.6 365.9,318.2 366.6,319.0 367.2,317.4 367.8,318.1 368.4,317.1 369.0,318.7 369.7,318.0 370.3,317.6 370.9,318.0 371.5,317.3 372.1,315.8 372.8,317.8 373.4,317.4 374.0,316.8 374.6,317.8 375.2,317.8 375.9,315.4 376.5,315.5 377.1,317.7 377.7,317.3 378.3,315.0 379.0,314.4 379.6,314.7 380.2,314.6 380.8,313.3 381.4,314.7 382.1,313.2 382.7,313.0 383.3,314.9 383.9,313.1 384.5,313.4 385.2,313.8 385.8,313.7 386.4,312.3 387.0,312.4 387.6,311.2 388.3,313.4 388.9,312.0 389.5,309.9 390.1,310.6 390.7,310.9 391.4,310.3 392.0,311.2 392.6,310.3 393.2,307.9 393.8,307.9 394.5,306.2 395.1,307.2 395.7,306.6 396.3,308.5 396.9,305.3 397.6,302.5 398.2,303.2 398.8,303.3 399.4,301.2 400.0,300.8 400.7,300.5 401.3,300.3 401.9,298.8 402.5,297.1 403.1,297.7 403.8,295.3 404.4,294.1 405.0,291.9 405.6,291.1 406.2,291.1 406.9,287.2 407.5,287.0 408.1,286.0 408.7,282.9 409.3,281.4 410.0,277.7 410.6,277.6 411.2,274.6 411.8,270.8 412.4,265.7 413.1,263.0 413.7,261.3 414.3,258.1 414.9,252.5 415.5,249.0 416.2,242.5 416.8,238.1 417.4,233.5 418.0,229.1 418.6,222.4 419.3,220.6 419.9,217.1 420.5,211.5 421.1,209.0 421.7,209.4 422.4,208.2 423.0,208.7 423.6,216.4 424.2,222.0 424.8,228.5 425.5,238.6 426.1,243.9 426.7,249.9 427.3,257.0 427.9,261.4 428.6,266.6 429.2,272.1 429.8,275.0 430.4,278.4 431.0,283.4 431.7,285.2 432.3,287.4 432.9,289.1 433.5,290.8 434.1,293.4 434.8,293.3 435.4,296.5 436.0,294.9 436.6,296.6 437.2,296.4 437.9,298.4 438.5,300.0 439.1,301.7 439.7,300.3 440.3,301.6 441.0,301.9 441.6,302.1 442.2,302.1 442.8,303.9 443.4,302.6 444.1,304.8 444.7,305.2 445.3,304.9 445.9,304.9 446.5,304.9 447.2,308.5 447.8,305.6 448.4,308.9 449.0,308.2 449.6,307.5 450.3,307.0 450.9,309.5 451.5,310.4 452.1,308.0 452.7,308.9 453.4,310.5 454.0,310.0 454.6,311.9 455.2,309.6 455.8,310.9 456.5,309.3 457.1,312.8 457.7,310.2 458.3,308.9 458.9,311.2 459.6,311.4 460.2,313.6 460.8,311.5 461.4,312.0 462.0,312.8 462.7,313.9 463.3,312.4 463.9,313.7 464.5,313.3 465.1,312.7 465.8,313.2 466.4,313.3 467.0,312.5 467.6,314.7 468.2,312.3 468.9,315.0 469.5,314.9 470.1,313.9 470.7,313.4 471.3,314.1 472.0,314.9 472.6,315.3 473.2,314.9 473.8,315.8 474.4,314.3 475.1,315.2 475.7,313.5 476.3,316.0 476.9,315.5 477.5,315.0 478.2,316.7 478.8,316.3 479.4,312.9 480.0,315.8 480.6,314.4 481.3,317.1 481.9,318.6 482.5,315.7 483.1,316.4 483.7,316.1 484.4,316.8 485.0,317.2 485.6,317.9 486.2,315.7 486.8,318.4 487.5,315.9 488.1,317.2 488.7,318.2 489.3,317.8 489.9,316.3 490.6,316.6 491.2,316.9 491.8,317.4 492.4,318.6 493.0,316.3 493.7,318.1 494.3,318.3 494.9,318.3 495.5,318.3 496.1,319.4 496.8,318.5 497.4,318.9 498.0,318.7 498.6,320.0 499.2,316.3 499.9,319.6 500.5,318.1 501.1,318.1 501.7,317.5 502.3,316.7 503.0,318.2 503.6,318.0 504.2,319.2 504.8,317.3 505.4,320.2 506.1,319.1 506.7,318.7 507.3,318.3 507.9,318.2 508.5,317.9 509.2,318.6 509.8,319.2 510.4,319.1 511.0,317.9 511.6,319.1 512.3,318.5 512.9,319.6 513.5,321.3 514.1,320.1 514.7,319.2 515.4,318.0 516.0,318.2 516.6,318.0 517.2,320.5 517.8,319.0 518.5,319.9 519.1,319.2 519.7,320.0 520.3,321.3 520.9,319.3 521.6,319.7 522.2,319.3 522.8,321.0 523.4,319.1 524.0,319.0 524.7,318.8 525.3,318.8 525.9,320.8 526.5,322.9 527.1,319.4 527.8,321.3 528.4,320.7 529.0,319.4 529.6,320.2 530.2,320.3 530.9,319.9 531.5,322.5 532.1,318.7 532.7,321.0 533.3,321.0 534.0,320.1 534.6,320.9 535.2,321.6 535.8,321.0 536.4,321.2 537.1,321.5 537.7,318.9 538.3,322.4 538.9,323.2 539.5,321.9 540.2,322.0 540.8,319.6 541.4,320.9 542.0,320.3 542.6,320.5 543.3,322.1 543.9,320.3 544.5,321.0 545.1,319.3 545.7,321.1 546.4,321.3 547.0,320.6 547.6,320.6 548.2,323.2 548.8,320.1 549.5,320.3 550.1,320.6 550.7,322.6 551.3,323.5 551.9,321.8 552.6,320.8 553.2,321.1 553.8,322.6 554.4,320.6 555.0,323.0 555.7,323.0 556.3,321.7 556.9,322.3 557.5,322.4 558.1,323.2 558.8,320.6 559.4,322.9 560.0,321.3 560.6,321.0 561.2,321.8 561.9,321.5 562.5,320.8 563.1,320.2 563.7,320.9 564.3,323.3 565.0,323.8 565.6,322.5 566.2,323.1" fill="none" stroke="#00f" stroke-width="0.8" stroke-dasharray="1 2" style="marker:url(#ba)"/>
</g>
<clipPath id="cpb"><rect x="99.35" y="374.20" width="467.65" height="345.55"/></clipPath>
<g clip-path="url(#cpb)">
<polyline points="99.3,685.1 100.4,685.1 101.5,685.1 102.6,684.6 103.7,684.5 104.8,684.7 105.9,684.5 107.0,684.2 108.1,684.5 109.2,684.2 110.3,684.5 111.4,684.1 112.5,683.9 113.6,683.9 114.7,683.7 115.8,683.4 116.9,683.4 118.0,683.6 119.1,683.5 120.2,683.6 121.3,682.6 122.4,682.8 123.5,682.7 124.6,682.8 125.7,682.5 126.8,682.4 127.9,682.7 129.0,682.4 130.1,681.9 131.2,682.5 132.3,682.3 133.4,681.8 134.5,682.1 135.6,681.5 136.7,682.0 137.8,681.4 138.9,681.1 140.0,681.1 141.1,680.9 142.2,681.1 143.3,680.9 144.4,680.7 145.5,680.4 146.6,679.4 147.7,680.3 148.8,679.6 149.9,680.1 151.0,680.2 152.1,679.8 153.2,679.4 154.3,679.3 155.4,679.1 156.5,678.8 157.6,678.6 158.7,678.4 159.8,678.8 160.9,678.2 162.0,678.3 163.1,677.8 164.2,677.7 165.3,677.4 166.4,677.3 167.5,677.2 168.6,676.8 169.7,676.3 170.8,676.0 171.9,676.4 173.0,675.6 174.1,675.3 175.2,675.5 176.3,675.1 177.4,674.7 178.5,674.1 179.6,674.6 180.7,673.7 181.8,673.4 182.9,672.9 184.0,672.2 185.1,671.9 186.2,672.1 187.3,671.8 188.4,671.2 189.5,670.6 190.6,670.2 191.7,670.2 192.8,669.5 193.9,669.8 195.0,669.5 196.1,669.6 197.2,668.6 198.3,667.8 199.4,667.3 200.5,666.1 201.6,666.5 202.7,666.2 203.8,666.1 204.9,665.6 206.0,665.1 207.1,664.5 208.2,664.1 209.3,663.8 210.4,662.5 211.5,662.1 212.6,661.2 213.7,661.5 214.8,660.8 215.9,660.1 217.0,658.8 218.1,658.6 219.2,657.8 220.3,657.3 221.4,656.6 222.5,656.1 223.6,655.2 224.7,654.9 225.8,654.1 226.9,653.3 228.0,652.8 229.1,652.0 230.2,651.8 231.3,650.8 232.4,650.4 233.5,649.5 234.6,648.5 235.7,648.6 236.8,647.3 237.9,647.1 239.0,646.3 240.1,644.9 241.2,644.4 242.3,643.7 243.4,642.8 244.5,641.9 245.6,641.6 246.7,640.5 247.8,639.8 248.9,638.7 250.0,638.0 251.1,636.7 252.2,636.0 253.3,635.2 254.4,634.0 255.5,632.8 256.6,631.6 257.7,630.9 258.8,629.8 259.9,628.5 261.0,627.2 262.1,626.5 263.2,625.9 264.3,623.9 265.4,622.9 266.5,621.7 267.6,619.6 268.7,619.2 269.8,617.7 270.9,617.0 272.0,615.2 273.1,613.7 274.2,612.6 275.3,611.3 276.4,609.7 277.5,608.6 278.6,606.8 279.7,605.8 280.8,604.6 281.9,603.5 283.0,601.5 284.1,599.6 285.2,598.0 286.3,595.8 287.4,593.4 288.5,590.5 289.6,587.1 290.7,584.3 291.8,581.5 292.9,578.8 294.0,575.9 295.1,572.8 296.2,569.5 297.3,567.0 298.4,563.5 299.5,561.1 300.6,557.8 301.7,553.9 302.8,551.0 303.9,547.3 305.0,543.1 306.1,539.5 307.2,535.3 308.3,530.0 309.4,526.0 310.5,520.8 311.6,515.4 312.7,510.4 313.8,504.8 314.9,499.9 316.0,495.1 317.1,490.6 318.2,486.5 319.3,481.7 320.4,477.5 321.5,473.6 322.6,469.0 323.7,464.7 324.8,459.6 325.9,455.6 327.0,451.2 328.1,447.0 329.2,442.4 330.3,438.3 331.4,433.5 332.5,429.2 333.6,425.2 334.7,421.8 335.8,418.4 336.9,421.3 338.0,424.5 339.1,428.7 340.2,434.1 341.3,440.1 342.4,446.2 343.5,452.2 344.6,458.2 345.7,464.2 346.8,469.6 347.9,475.5 349.0,480.4 350.1,484.7 351.2,490.6 352.3,495.2 353.4,500.1 354.5,506.1 355.6,511.5 356.7,517.6 357.8,522.1 358.9,526.3 360.0,531.6 361.1,536.0 362.2,541.3 363.3,545.0 364.4,549.0 365.5,554.0 366.6,557.9 367.7,561.6 368.8,564.6 369.9,568.8 371.0,572.4 372.1,574.4 373.2,578.3 374.3,580.6 375.4,584.2 376.5,586.2 377.6,588.6 378.7,591.3 379.8,593.5 380.9,595.4 382.0,598.1 383.1,600.0 384.2,601.9 385.3,605.3 386.4,606.8 387.5,609.0 388.6,611.4 389.7,612.9 390.8,615.1 391.9,617.4 393.0,619.4 394.1,621.5 395.2,623.5 396.3,624.7 397.4,626.6 398.5,628.2 399.6,629.1 400.7,631.0 401.8,632.0 402.9,634.0 404.0,635.2 405.1,636.4 406.2,637.2 407.3,638.9 408.4,639.9 409.5,641.5 410.6,642.3 411.7,643.2 412.8,644.8 413.9,645.8 415.0,646.4 416.1,647.9 417.2,648.4 418.3,649.4 419.4,650.4 420.5,651.1 421.6,652.1 422.7,653.0 423.8,654.3 424.9,655.0 426.0,655.1 427.1,656.3 428.2,656.4 429.3,657.1 430.4,657.8 431.5,658.1 432.6,659.2 433.7,659.0 434.8,659.0 435.9,660.1 437.0,660.0 438.1,660.4 439.2,660.0 440.3,661.6 441.4,662.0 442.5,662.5 443.6,663.1 444.7,663.9 445.8,663.9 446.9,664.7 448.0,664.6 449.1,665.2 450.2,666.0 451.3,666.2 452.4,666.1 453.5,667.0 454.6,667.1 455.7,667.3 456.8,667.9 457.9,668.0 459.0,667.8 460.1,668.2 461.2,669.3 462.3,668.5 463.4,669.2 464.5,669.5 465.6,669.7 466.7,669.4 467.8,669.9 468.9,670.4 470.0,670.9 471.1,670.8 472.2,671.0 473.3,672.0 474.4,672.4 475.5,672.5 476.6,672.6 477.7,673.2 478.8,673.4 479.9,673.9 481.0,673.6 482.1,674.3 483.2,674.4 484.3,674.4 485.4,675.1 486.5,675.3 487.6,675.5 488.7,676.0 489.8,675.7 490.9,676.4 492.0,676.8 493.1,677.1 494.2,677.6 495.3,677.2 496.4,677.4 497.5,678.1 498.6,678.5 499.7,679.2 500.8,679.0 501.9,678.8 503.0,679.5 504.1,679.2 505.2,679.2 506.3,680.6 507.4,680.2 508.5,680.5 509.6,680.7 510.7,681.3 511.8,681.1 512.9,681.6 514.0,681.1 515.1,681.3 516.2,682.3 517.3,682.6 518.4,682.5 519.5,682.6 520.6,682.8 521.7,682.8 522.8,683.6 523.9,683.6 525.0,683.7 526.1,683.8 527.2,684.2 528.3,684.2 529.4,684.5 530.5,684.1 531.6,684.7 532.7,685.4 533.8,684.8 534.9,685.0 536.0,685.5 537.1,685.7 538.2,685.8 539.3,685.2 540.4,686.0 541.5,685.7 542.6,685.9 543.7,686.5 544.8,686.4 545.9,686.9 547.0,687.7 548.1,687.2 549.2,687.3 550.3,687.0 551.4,687.2 552.5,687.2 553.6,687.5 554.7,687.5 555.8,687.8 556.9,688.0 558.0,687.9 559.1,687.9 560.2,688.1 561.3,688.8 562.4,688.8 563.5,689.2 564.6,689.3 565.7,689.0 566.8,689.5" fill="none" stroke="#000" stroke-width="0.8" style="marker:url(#kb)"/>
<polyline points="99.3,685.6 100.4,688.5 101.5,687.5 102.6,686.3 103.7,685.4 104.8,686.5 105.9,684.6 107.0,685.4 108.1,686.5 109.2,685.8 110.3,685.3 111.4,686.3 112.5,684.6 113.6,685.6 114.7,684.8 115.8,684.4 116.9,685.4 118.0,684.1 119.1,686.3 120.2,684.2 121.3,686.2 122.4,683.6 123.5,684.8 124.6,683.3 125.7,683.1 126.8,684.2 127.9,684.5 129.0,682.8 130.1,684.7 131.2,683.0 132.3,683.6 133.4,683.7 134.5,683.8 135.6,681.8 136.7,684.4 137.8,683.4 138.9,682.5 140.0,681.9 141.1,681.3 142.2,681.4 143.3,682.8 144.4,682.0 145.5,681.2 146.6,681.5 147.7,683.1 148.8,681.4 149.9,681.0 151.0,682.4 152.1,681.6 153.2,681.1 154.3,680.4 155.4,679.4 156.5,679.6 157.6,679.9 158.7,680.0 159.8,680.2 160.9,680.2 162.0,679.7 163.1,679.5 164.2,678.3 165.3,677.2 166.4,678.3 167.5,677.7 168.6,677.7 169.7,677.7 170.8,676.7 171.9,676.5 173.0,677.1 174.1,677.0 175.2,676.1 176.3,676.7 177.4,675.8 178.5,674.9 179.6,675.4 180.7,676.6 181.8,674.2 182.9,675.4 184.0,675.2 185.1,675.0 186.2,672.8 187.3,674.8 188.4,672.9 189.5,672.3 190.6,671.9 191.7,672.2 192.8,671.4 193.9,670.9 195.0,671.7 196.1,669.7 197.2,669.0 198.3,670.1 199.4,669.6 200.5,669.5 201.6,667.4 202.7,668.6 203.8,667.7 204.9,668.3 206.0,665.4 207.1,666.1 208.2,665.2 209.3,663.6 210.4,663.8 211.5,664.8 212.6,662.9 213.7,662.2 214.8,662.9 215.9,662.4 217.0,661.7 218.1,659.7 219.2,659.7 220.3,659.9 221.4,657.9 222.5,657.1 223.6,657.7 224.7,657.6 225.8,654.7 226.9,652.8 228.0,653.0 229.1,652.5 230.2,652.4 231.3,652.1 232.4,650.6 233.5,649.2 234.6,649.0 235.7,647.2 236.8,646.9 237.9,645.5 239.0,647.2 240.1,644.8 241.2,642.5 242.3,641.4 243.4,640.9 244.5,638.9 245.6,638.6 246.7,637.5 247.8,637.8 248.9,635.6 250.0,634.2 251.1,632.6 252.2,631.6 253.3,631.2 254.4,629.9 255.5,629.7 256.6,627.1 257.7,627.1 258.8,625.2 259.9,623.6 261.0,620.7 262.1,619.9 263.2,620.1 264.3,619.1 265.4,616.7 266.5,615.7 267.6,613.2 268.7,611.8 269.8,610.0 270.9,609.7 272.0,607.6 273.1,605.5 274.2,603.8 275.3,602.9 276.4,601.0 277.5,598.4 278.6,598.7 279.7,595.8 280.8,593.8 281.9,593.1 283.0,590.9 284.1,588.1 285.2,586.5 286.3,583.1 287.4,581.3 288.5,577.8 289.6,578.3 290.7,573.5 291.8,573.3 292.9,569.7 294.0,567.1 295.1,565.3 296.2,563.1 297.3,560.8 298.4,559.0 299.5,555.0 300.6,552.3 301.7,548.0 302.8,546.2 303.9,543.3 305.0,540.5 306.1,538.9 307.2,537.5 308.3,536.6 309.4,536.8 310.5,536.5 311.6,536.8 312.7,538.4 313.8,536.8 314.9,538.0 316.0,540.2 317.1,537.2 318.2,539.1 319.3,540.6 320.4,539.1 321.5,542.9 322.6,539.2 323.7,542.8 324.8,543.3 325.9,543.2 327.0,542.6 328.1,543.4 329.2,542.6 330.3,544.1 331.4,542.6 332.5,543.3 333.6,544.3 334.7,542.5 335.8,543.1 336.9,543.5 338.0,542.2 339.1,544.1 340.2,543.4 341.3,541.8 342.4,542.9 343.5,542.2 344.6,542.2 345.7,542.6 346.8,541.9 347.9,543.0 349.0,541.4 350.1,542.5 351.2,541.5 352.3,541.9 353.4,540.6 354.5,540.5 355.6,539.9 356.7,541.3 357.8,541.6 358.9,542.5 360.0,541.8 361.1,541.0 362.2,541.0 363.3,542.1 364.4,542.7 365.5,545.2 366.6,546.6 367.7,547.3 368.8,549.8 369.9,554.2 371.0,556.4 372.1,559.1 373.2,563.2 374.3,564.7 375.4,567.2 376.5,569.5 377.6,570.7 378.7,575.8 379.8,577.8 380.9,581.8 382.0,584.4 383.1,588.0 384.2,589.6 385.3,591.9 386.4,592.9 387.5,596.7 388.6,598.1 389.7,602.1 390.8,604.7 391.9,606.8 393.0,610.9 394.1,612.0 395.2,614.4 396.3,616.2 397.4,618.1 398.5,621.0 399.6,622.9 400.7,622.8 401.8,626.4 402.9,627.6 404.0,629.5 405.1,630.7 406.2,630.8 407.3,632.3 408.4,636.1 409.5,636.3 410.6,636.3 411.7,639.0 412.8,639.7 413.9,639.8 415.0,640.7 416.1,642.5 417.2,645.2 418.3,646.1 419.4,647.1 420.5,648.5 421.6,649.8 422.7,648.6 423.8,651.0 424.9,651.5 426.0,652.0 427.1,653.3 428.2,654.4 429.3,655.0 430.4,654.7 431.5,656.1 432.6,658.8 433.7,656.9 434.8,657.1 435.9,659.3 437.0,660.1 438.1,660.6 439.2,660.0 440.3,662.3 441.4,661.4 442.5,661.7 443.6,662.7 444.7,663.7 445.8,664.9 446.9,665.4 448.0,665.4 449.1,666.7 450.2,666.6 451.3,667.8 452.4,666.4 453.5,666.8 454.6,669.1 455.7,667.8 456.8,669.1 457.9,669.6 459.0,669.6 460.1,669.9 461.2,671.6 462.3,668.7 463.4,671.7 464.5,673.1 465.6,671.5 466.7,671.7 467.8,672.6 468.9,673.8 470.0,671.7 471.1,673.1 472.2,673.2 473.3,674.2 474.4,674.2 475.5,674.9 476.6,674.4 477.7,675.1 478.8,674.8 479.9,675.1 481.0,675.8 482.1,676.1 483.2,675.6 484.3,678.0 485.4,676.9 486.5,676.2 487.6,678.5 488.7,677.3 489.8,678.5 490.9,678.4 492.0,678.9 493.1,679.1 494.2,678.8 495.3,679.6 496.4,681.4 497.5,678.3 498.6,680.4 499.7,680.9 500.8,680.0 501.9,679.9 503.0,683.0 504.1,681.2 505.2,683.4 506.3,682.3 507.4,682.2 508.5,682.7 509.6,683.0 510.7,683.6 511.8,683.2 512.9,683.2 514.0,683.4 515.1,684.5 516.2,684.3 517.3,683.0 518.4,683.4 519.5,684.4 520.6,683.8 521.7,684.1 522.8,683.8 523.9,684.5 525.0,685.2 526.1,685.8 527.2,685.2 528.3,686.9 529.4,685.4 530.5,688.1 531.6,686.5 532.7,686.3 533.8,685.6 534.9,683.9 536.0,686.2 537.1,686.7 538.2,688.2 539.3,685.7 540.4,688.5 541.5,686.9 542.6,687.9 543.7,685.4 544.8,687.7 545.9,687.4 547.0,688.4 548.1,688.0 549.2,687.2 550.3,689.0 551.4,688.9 552.5,689.0 553.6,689.4 554.7,689.6 555.8,688.9 556.9,687.9 558.0,688.0 559.1,690.4 560.2,690.0 561.3,689.6 562.4,689.3 563.5,689.8 564.6,689.9 565.7,689.8 566.8,689.6" fill="none" stroke="#f00" stroke-width="0.8" stroke-dasharray="3 2" style="marker:url(#rb)"/>
<polyline points="99.3,681.7 100.4,679.5 101.5,678.5 102.6,677.6 103.7,678.1 104.8,679.6 105.9,679.5 107.0,678.3 108.1,678.4 109.2,677.9 110.3,676.9 111.4,679.4 112.5,678.3 113.6,680.4 114.7,676.8 115.8,677.3 116.9,678.3 118.0,676.9 119.1,675.5 120.2,675.9 121.3,676.9 122.4,677.0 123.5,676.4 124.6,677.5 125.7,677.3 126.8,676.5 127.9,676.0 129.0,675.6 130.1,676.3 131.2,676.6 132.3,675.5 133.4,675.8 134.5,674.8 135.6,673.5 136.7,673.8 137.8,675.6 138.9,675.1 140.0,676.1 141.1,674.3 142.2,675.0 143.3,675.3 144.4,674.7 145.5,672.7 146.6,672.9 147.7,672.9 148.8,671.4 149.9,672.7 151.0,673.0 152.1,671.0 153.2,673.4 154.3,670.5 155.4,670.3 156.5,669.9 157.6,669.0 158.7,669.8 159.8,669.0 160.9,670.4 162.0,668.9 163.1,668.4 164.2,667.1 165.3,665.4 166.4,666.4 167.5,665.2 168.6,666.7 169.7,665.1 170.8,666.5 171.9,665.0 173.0,664.6 174.1,663.4 175.2,662.9 176.3,662.8 177.4,662.6 178.5,660.2 179.6,661.0 180.7,662.7 181.8,659.2 182.9,658.4 184.0,657.3 185.1,655.8 186.2,658.1 187.3,656.2 188.4,655.8 189.5,656.8 190.6,656.9 191.7,652.4 192.8,653.9 193.9,652.6 195.0,651.6 196.1,651.0 197.2,649.6 198.3,650.6 199.4,648.8 200.5,647.6 201.6,647.8 202.7,646.6 203.8,645.3 204.9,644.3 206.0,645.0 207.1,642.7 208.2,641.1 209.3,639.3 210.4,638.9 211.5,637.2 212.6,637.4 213.7,636.6 214.8,633.0 215.9,634.2 217.0,633.8 218.1,632.1 219.2,629.7 220.3,631.0 221.4,627.7 222.5,625.9 223.6,624.8 224.7,624.7 225.8,624.5 226.9,623.4 228.0,621.0 229.1,618.1 230.2,617.3 231.3,615.5 232.4,614.9 233.5,611.6 234.6,612.2 235.7,611.3 236.8,608.9 237.9,608.1 239.0,605.1 240.1,603.1 241.2,602.5 242.3,602.9 243.4,601.3 244.5,598.1 245.6,598.4 246.7,595.2 247.8,595.6 248.9,593.1 250.0,591.1 251.1,593.6 252.2,593.2 253.3,594.6 254.4,595.7 255.5,599.2 256.6,600.5 257.7,602.1 258.8,603.4 259.9,607.1 261.0,606.5 262.1,607.7 263.2,611.4 264.3,613.0 265.4,613.2 266.5,612.3 267.6,614.9 268.7,617.4 269.8,617.9 270.9,620.7 272.0,618.5 273.1,621.8 274.2,621.4 275.3,624.5 276.4,623.9 277.5,626.0 278.6,625.0 279.7,625.1 280.8,626.3 281.9,627.7 283.0,628.1 284.1,631.3 285.2,632.3 286.3,631.9 287.4,631.2 288.5,632.9 289.6,632.9 290.7,635.8 291.8,635.2 292.9,635.9 294.0,635.4 295.1,634.2 296.2,636.0 297.3,636.1 298.4,638.1 299.5,638.2 300.6,637.7 301.7,638.5 302.8,641.0 303.9,638.6 305.0,639.0 306.1,640.2 307.2,640.0 308.3,640.6 309.4,642.0 310.5,643.6 311.6,640.0 312.7,642.2 313.8,642.5 314.9,642.6 316.0,642.7 317.1,642.7 318.2,644.4 319.3,643.0 320.4,643.5 321.5,643.9 322.6,644.1 323.7,644.0 324.8,645.4 325.9,644.4 327.0,644.7 328.1,644.5 329.2,643.6 330.3,643.8 331.4,643.6 332.5,645.1 333.6,644.1 334.7,643.7 335.8,645.2 336.9,645.4 338.0,642.9 339.1,646.6 340.2,644.6 341.3,644.4 342.4,645.6 343.5,644.3 344.6,643.4 345.7,646.2 346.8,642.4 347.9,643.1 349.0,643.8 350.1,641.4 351.2,642.1 352.3,642.2 353.4,644.1 354.5,640.0 355.6,640.6 356.7,641.0 357.8,639.9 358.9,638.1 360.0,639.4 361.1,638.7 362.2,638.6 363.3,638.8 364.4,638.2 365.5,637.0 366.6,636.4 367.7,634.3 368.8,634.8 369.9,634.6 371.0,633.3 372.1,633.2 373.2,631.5 374.3,633.4 375.4,633.4 376.5,629.8 377.6,629.9 378.7,628.4 379.8,629.2 380.9,627.5 382.0,626.2 383.1,625.0 384.2,624.5 385.3,622.4 386.4,623.3 387.5,620.8 388.6,621.2 389.7,619.7 390.8,619.7 391.9,617.5 393.0,617.5 394.1,614.3 395.2,614.8 396.3,612.8 397.4,612.1 398.5,610.9 399.6,610.8 400.7,606.6 401.8,608.1 402.9,605.2 404.0,607.2 405.1,602.7 406.2,602.8 407.3,601.2 408.4,603.9 409.5,599.8 410.6,600.5 411.7,599.0 412.8,596.8 413.9,597.7 415.0,598.0 416.1,596.5 417.2,597.2 418.3,595.3 419.4,595.4 420.5,595.3 421.6,596.9 422.7,599.6 423.8,599.2 424.9,600.7 426.0,601.8 427.1,603.5 428.2,607.8 429.3,606.8 430.4,608.9 431.5,611.5 432.6,612.9 433.7,617.2 434.8,614.0 435.9,618.6 437.0,620.4 438.1,619.9 439.2,621.9 440.3,624.5 441.4,627.2 442.5,625.9 443.6,626.5 444.7,630.7 445.8,632.7 446.9,632.0 448.0,631.2 449.1,636.6 450.2,636.1 451.3,638.8 452.4,638.8 453.5,639.7 454.6,640.8 455.7,644.0 456.8,645.0 457.9,642.1 459.0,644.4 460.1,648.3 461.2,646.9 462.3,646.6 463.4,649.0 464.5,649.7 465.6,650.5 466.7,650.9 467.8,651.8 468.9,652.5 470.0,654.1 471.1,653.5 472.2,654.8 473.3,655.7 474.4,658.0 475.5,657.6 476.6,657.8 477.7,659.1 478.8,659.6 479.9,661.0 481.0,660.9 482.1,662.9 483.2,663.0 484.3,662.1 485.4,662.2 486.5,664.2 487.6,664.3 488.7,664.1 489.8,663.1 490.9,663.2 492.0,666.0 493.1,666.9 494.2,667.4 495.3,665.5 496.4,668.5 497.5,667.2 498.6,668.6 499.7,669.0 500.8,668.1 501.9,668.7 503.0,667.5 504.1,669.1 505.2,668.5 506.3,671.3 507.4,671.3 508.5,672.6 509.6,672.3 510.7,671.6 511.8,673.0 512.9,672.5 514.0,674.0 515.1,674.0 516.2,672.9 517.3,674.3 518.4,674.7 519.5,674.6 520.6,676.2 521.7,677.4 522.8,675.4 523.9,675.7 525.0,673.8 526.1,676.4 527.2,676.4 528.3,674.7 529.4,677.6 530.5,678.2 531.6,677.0 532.7,677.6 533.8,677.2 534.9,679.3 536.0,677.0 537.1,678.6 538.2,681.3 539.3,679.4 540.4,680.1 541.5,679.6 542.6,678.6 543.7,680.1 544.8,680.7 545.9,679.3 547.0,681.0 548.1,682.2 549.2,682.2 550.3,679.4 551.4,680.3 552.5,679.7 553.6,682.9 554.7,682.6 555.8,682.9 556.9,681.3 558.0,681.2 559.1,682.7 560.2,682.9 561.3,682.1 562.4,683.3 563.5,684.1 564.6,683.8 565.7,682.5 566.8,681.5" fill="none" stroke="#00f" stroke-width="0.8" stroke-dasharray="1 2" style="marker:url(#bb)"/>
<path d="M99.4 673.0h0.01" fill="none" stroke="none" style="marker:url(#bb)"/>
<path d="M568.5 669.8h0.01" fill="none" stroke="none" style="marker:url(#rb)"/>
</g>
<clipPath id="cpc"><rect x="101.80" y="736.90" width="467.80" height="344.90"/></clipPath>
<g clip-path="url(#cpc)">
<polyline points="101.8,1048.4 102.5,1048.3 103.2,1048.0 103.9,1047.7 104.6,1047.4 105.3,1047.5 106.0,1047.1 106.7,1046.9 107.4,1046.3 108.1,1046.2 108.8,1046.2 109.5,1045.6 110.2,1045.2 110.9,1045.3 111.6,1045.5 112.3,1044.9 113.0,1045.0 113.7,1044.3 114.4,1044.0 115.1,1043.4 115.8,1043.4 116.5,1043.7 117.2,1043.1 117.9,1043.0 118.6,1042.7 119.3,1042.2 120.0,1041.9 120.7,1041.7 121.4,1041.6 122.1,1041.3 122.8,1041.0 123.5,1040.6 124.2,1040.1 124.9,1039.9 125.6,1039.4 126.3,1039.7 127.0,1038.5 127.7,1038.8 128.4,1039.3 129.1,1038.2 129.8,1037.7 130.5,1037.7 131.2,1037.8 131.9,1037.1 132.6,1037.0 133.3,1036.5 134.0,1036.1 134.7,1036.9 135.4,1035.6 136.1,1035.1 136.8,1034.9 137.5,1034.8 138.2,1034.5 138.9,1034.3 139.6,1033.8 140.3,1033.0 141.0,1033.3 141.7,1032.7 142.4,1032.4 143.1,1031.7 143.8,1031.7 144.5,1031.3 145.2,1031.2 145.9,1030.4 146.6,1030.6 147.3,1030.3 148.0,1029.6 148.7,1029.4 149.4,1029.0 150.1,1029.2 150.8,1027.8 151.5,1028.1 152.2,1027.4 152.9,1027.4 153.6,1027.4 154.3,1026.6 155.0,1026.5 155.7,1025.9 156.4,1026.3 157.1,1025.7 157.8,1025.4 158.5,1024.3 159.2,1024.0 159.9,1024.3 160.6,1023.5 161.3,1023.1 162.0,1022.9 162.7,1022.1 163.4,1022.3 164.1,1021.7 164.8,1021.5 165.5,1020.7 166.2,1020.7 166.9,1019.9 167.6,1020.0 168.3,1019.7 169.0,1019.2 169.7,1018.7 170.4,1018.3 171.1,1016.9 171.8,1017.5 172.5,1016.7 173.2,1016.4 173.9,1015.9 174.6,1015.1 175.3,1014.9 176.0,1014.8 176.7,1014.6 177.4,1013.6 178.1,1013.0 178.8,1013.3 179.5,1012.1 180.2,1012.6 180.9,1011.5 181.6,1010.8 182.3,1010.9 183.0,1010.6 183.7,1009.2 184.4,1009.6 185.1,1008.6 185.8,1008.7 186.5,1007.6 187.2,1006.8 187.9,1006.9 188.6,1006.6 189.3,1006.4 190.0,1005.8 190.7,1005.0 191.4,1004.2 192.1,1003.6 192.8,1003.1 193.5,1002.5 194.2,1002.1 194.9,1000.9 195.6,1001.2 196.3,1000.6 197.0,1000.8 197.7,999.7 198.4,998.8 199.1,998.5 199.8,997.4 200.5,997.0 201.2,996.0 201.9,996.4 202.6,995.6 203.3,994.4 204.0,994.2 204.7,993.9 205.4,993.1 206.1,992.5 206.8,991.5 207.5,990.9 208.2,990.5 208.9,990.2 209.6,989.0 210.3,988.3 211.0,988.4 211.7,987.1 212.4,987.1 213.1,986.2 213.8,985.7 214.5,985.4 215.2,984.4 215.9,983.8 216.6,982.6 217.3,982.0 218.0,981.8 218.7,981.4 219.4,980.7 220.1,980.3 220.8,979.0 221.5,978.3 222.2,977.9 222.9,976.9 223.6,976.2 224.3,975.2 225.0,975.1 225.7,973.8 226.4,973.6 227.1,972.3 227.8,972.3 228.5,970.9 229.2,970.8 229.9,969.3 230.6,968.9 231.3,968.6 232.0,967.2 232.7,966.7 233.4,965.8 234.1,964.4 234.8,964.4 235.5,963.7 236.2,962.4 236.9,962.2 237.6,961.0 238.3,960.1 239.0,959.6 239.7,958.6 240.4,958.7 241.1,956.8 241.8,956.7 242.5,956.0 243.2,954.3 243.9,953.7 244.6,953.6 245.3,952.5 246.0,952.0 246.7,951.5 247.4,950.3 248.1,949.3 248.8,948.0 249.5,948.1 250.2,947.0 250.9,946.5 251.6,945.7 252.3,944.4 253.0,944.5 253.7,943.4 254.4,942.5 255.1,941.0 255.8,940.4 256.5,939.5 257.2,938.7 257.9,937.7 258.6,937.3 259.3,936.5 260.0,935.7 260.7,934.7 261.4,934.5 262.1,933.4 262.8,931.7 263.5,931.6 264.2,931.0 264.9,930.6 265.6,929.4 266.3,928.6 267.0,927.7 267.7,927.4 268.4,926.3 269.1,925.5 269.8,924.7 270.5,924.3 271.2,923.1 271.9,921.9 272.6,921.6 273.3,920.1 274.0,919.2 274.7,917.7 275.4,916.3 276.1,914.6 276.8,912.4 277.5,910.8 278.2,908.8 278.9,908.1 279.6,906.3 280.3,905.1 281.0,903.1 281.7,901.2 282.4,900.8 283.1,899.0 283.8,897.5 284.5,896.1 285.2,894.8 285.9,893.4 286.6,891.4 287.3,890.7 288.0,888.8 288.7,887.4 289.4,886.5 290.1,884.8 290.8,882.9 291.5,880.9 292.2,880.0 292.9,878.5 293.6,876.8 294.3,874.9 295.0,873.4 295.7,871.7 296.4,870.5 297.1,869.1 297.8,867.5 298.5,865.5 299.2,864.3 299.9,862.9 300.6,861.2 301.3,860.0 302.0,859.4 302.7,857.4 303.4,856.3 304.1,854.4 304.8,853.0 305.5,850.9 306.2,849.7 306.9,848.4 307.6,846.9 308.3,845.0 309.0,843.1 309.7,841.3 310.4,839.4 311.1,837.8 311.8,836.4 312.5,834.3 313.2,833.1 313.9,830.9 314.6,829.1 315.3,827.7 316.0,825.8 316.7,824.2 317.4,823.3 318.1,821.1 318.8,819.4 319.5,817.9 320.2,816.0 320.9,813.6 321.6,812.3 322.3,810.1 323.0,808.1 323.7,806.4 324.4,804.0 325.1,802.3 325.8,800.7 326.5,799.0 327.2,796.9 327.9,795.0 328.6,793.5 329.3,791.5 330.0,789.2 330.7,787.3 331.4,784.8 332.1,783.0 332.8,781.6 333.5,780.1 334.2,778.8 334.9,778.4 335.6,776.7 336.3,775.4 337.0,774.8 337.7,775.8 338.4,776.5 339.1,777.9 339.8,778.4 340.5,779.6 341.2,780.8 341.9,782.7 342.6,785.5 343.3,787.2 344.0,790.7 344.7,792.6 345.4,795.3 346.1,798.1 346.8,800.4 347.5,802.7 348.2,804.5 348.9,807.5 349.6,809.5 350.3,813.1 351.0,814.7 351.7,817.3 352.4,819.2 353.1,821.5 353.8,823.1 354.5,825.5 355.2,826.7 355.9,828.4 356.6,829.5 357.3,831.2 358.0,833.4 358.7,834.5 359.4,836.0 360.1,838.5 360.8,839.9 361.5,842.1 362.2,844.6 362.9,846.4 363.6,849.3 364.3,852.0 365.0,856.4 365.7,860.2 366.4,863.2 367.1,866.0 367.8,867.8 368.5,869.7 369.2,871.4 369.9,871.9 370.6,873.8 371.3,874.5 372.0,876.1 372.7,877.4 373.4,880.1 374.1,881.1 374.8,882.8 375.5,884.2 376.2,886.4 376.9,887.1 377.6,889.4 378.3,891.7 379.0,892.6 379.7,894.4 380.4,896.2 381.1,897.4 381.8,899.2 382.5,901.0 383.2,902.3 383.9,903.8 384.6,905.1 385.3,906.8 386.0,908.2 386.7,910.1 387.4,911.5 388.1,912.7 388.8,913.6 389.5,916.1 390.2,917.6 390.9,918.6 391.6,919.8 392.3,921.7 393.0,923.8 393.7,924.7 394.4,926.4 395.1,928.1 395.8,929.8 396.5,930.7 397.2,931.9 397.9,933.0 398.6,934.9 399.3,935.9 400.0,936.9 400.7,937.9 401.4,939.7 402.1,941.7 402.8,943.0 403.5,945.0 404.2,946.2 404.9,947.3 405.6,948.4 406.3,949.4 407.0,949.9 407.7,951.0 408.4,952.8 409.1,952.9 409.8,954.2 410.5,955.8 411.2,956.6 411.9,957.6 412.6,958.6 413.3,960.3 414.0,961.5 414.7,962.8 415.4,963.5 416.1,965.0 416.8,965.5 417.5,967.0 418.2,967.8 418.9,969.0 419.6,970.2 420.3,971.1 421.0,971.2 421.7,972.6 422.4,972.7 423.1,973.2 423.8,974.0 424.5,974.2 425.2,975.2 425.9,975.8 426.6,976.2 427.3,977.0 428.0,977.3 428.7,978.0 429.4,978.2 430.1,979.4 430.8,979.8 431.5,980.7 432.2,981.5 432.9,982.3 433.6,982.5 434.3,983.3 435.0,984.5 435.7,985.5 436.4,986.2 437.1,987.1 437.8,988.0 438.5,988.5 439.2,989.1 439.9,989.5 440.6,990.2 441.3,991.1 442.0,992.0 442.7,992.7 443.4,993.4 444.1,994.1 444.8,995.0 445.5,995.6 446.2,996.3 446.9,996.9 447.6,997.3 448.3,997.8 449.0,998.9 449.7,999.5 450.4,1000.0 451.1,1000.6 451.8,1002.0 452.5,1001.7 453.2,1002.5 453.9,1003.2 454.6,1003.4 455.3,1004.4 456.0,1005.5 456.7,1005.8 457.4,1006.3 458.1,1006.9 458.8,1007.3 459.5,1008.1 460.2,1008.3 460.9,1008.8 461.6,1009.5 462.3,1010.3 463.0,1010.7 463.7,1011.3 464.4,1011.1 465.1,1012.6 465.8,1013.4 466.5,1013.6 467.2,1013.7 467.9,1014.0 468.6,1014.9 469.3,1015.0 470.0,1016.0 470.7,1016.1 471.4,1017.1 472.1,1017.7 472.8,1017.1 473.5,1018.3 474.2,1018.5 474.9,1018.7 475.6,1019.4 476.3,1020.0 477.0,1020.9 477.7,1020.6 478.4,1021.8 479.1,1022.5 479.8,1022.6 480.5,1023.0 481.2,1023.3 481.9,1023.4 482.6,1024.3 483.3,1024.7 484.0,1025.3 484.7,1026.3 485.4,1026.1 486.1,1026.5 486.8,1027.3 487.5,1026.8 488.2,1027.3 488.9,1027.9 489.6,1028.3 490.3,1029.1 491.0,1029.2 491.7,1030.2 492.4,1030.5 493.1,1030.7 493.8,1030.7 494.5,1031.4 495.2,1031.8 495.9,1031.6 496.6,1032.4 497.3,1032.8 498.0,1033.0 498.7,1033.8 499.4,1034.0 500.1,1033.7 500.8,1034.3 501.5,1034.4 502.2,1035.1 502.9,1035.0 503.6,1035.9 504.3,1036.0 505.0,1036.5 505.7,1036.5 506.4,1036.4 507.1,1037.7 507.8,1037.4 508.5,1038.2 509.2,1038.2 509.9,1038.6 510.6,1039.2 511.3,1039.1 512.0,1039.7 512.7,1039.2 513.4,1040.2 514.1,1040.2 514.8,1040.5 515.5,1040.9 516.2,1041.3 516.9,1042.0 517.6,1041.2 518.3,1042.1 519.0,1042.2 519.7,1043.1 520.4,1042.9 521.1,1043.5 521.8,1043.5 522.5,1044.1 523.2,1044.5 523.9,1044.3 524.6,1044.7 525.3,1044.5 526.0,1045.3 526.7,1045.7 527.4,1045.5 528.1,1046.3 528.8,1045.5 529.5,1045.8 530.2,1046.2 530.9,1046.7 531.6,1047.0 532.3,1047.2 533.0,1047.4 533.7,1047.8 534.4,1047.7 535.1,1047.6 535.8,1047.8 536.5,1049.0 537.2,1047.9 537.9,1048.7 538.6,1049.4 539.3,1049.3 540.0,1049.1 540.7,1049.5 541.4,1049.9 542.1,1050.2 542.8,1049.8 543.5,1050.5 544.2,1050.5 544.9,1050.9 545.6,1051.2 546.3,1050.9 547.0,1050.7 547.7,1051.5 548.4,1052.1 549.1,1051.9 549.8,1052.0 550.5,1052.8 551.2,1051.9 551.9,1052.7 552.6,1052.4 553.3,1052.8 554.0,1053.0 554.7,1053.6 555.4,1053.0 556.1,1053.3 556.8,1053.1 557.5,1053.9 558.2,1053.8 558.9,1054.2 559.6,1053.9 560.3,1054.3 561.0,1054.9 561.7,1054.7 562.4,1055.1 563.1,1055.2 563.8,1055.1 564.5,1054.9 565.2,1055.8 565.9,1055.7 566.6,1056.0 567.3,1055.3 568.0,1055.5 568.7,1055.5" fill="none" stroke="#000" stroke-width="0.8" style="marker:url(#kc)"/>
<polyline points="101.8,1046.5 102.5,1047.4 103.2,1046.9 103.9,1046.3 104.6,1046.1 105.3,1046.3 106.0,1045.4 106.7,1045.6 107.4,1045.2 108.1,1043.5 108.8,1044.4 109.5,1045.2 110.2,1043.9 110.9,1043.8 111.6,1043.2 112.3,1043.1 113.0,1043.8 113.7,1042.7 114.4,1042.0 115.1,1040.4 115.8,1041.7 116.5,1040.6 117.2,1040.4 117.9,1041.7 118.6,1041.4 119.3,1039.6 120.0,1041.0 120.7,1040.4 121.4,1039.4 122.1,1040.1 122.8,1038.4 123.5,1038.3 124.2,1037.9 124.9,1037.8 125.6,1038.8 126.3,1037.1 127.0,1037.0 127.7,1036.8 128.4,1037.2 129.1,1036.6 129.8,1037.0 130.5,1035.8 131.2,1035.1 131.9,1035.3 132.6,1035.3 133.3,1034.5 134.0,1034.9 134.7,1035.5 135.4,1033.8 136.1,1033.8 136.8,1034.3 137.5,1032.8 138.2,1032.4 138.9,1031.9 139.6,1032.5 140.3,1032.3 141.0,1031.5 141.7,1031.3 142.4,1031.8 143.1,1031.2 143.8,1029.5 144.5,1030.0 145.2,1029.8 145.9,1029.8 146.6,1028.9 147.3,1028.3 148.0,1028.1 148.7,1027.0 149.4,1027.7 150.1,1027.0 150.8,1027.3 151.5,1026.1 152.2,1026.1 152.9,1025.4 153.6,1025.0 154.3,1025.7 155.0,1024.7 155.7,1024.9 156.4,1023.6 157.1,1023.9 157.8,1022.5 158.5,1022.9 159.2,1022.5 159.9,1022.8 160.6,1022.2 161.3,1021.6 162.0,1021.8 162.7,1021.1 163.4,1020.9 164.1,1020.7 164.8,1019.8 165.5,1019.2 166.2,1019.2 166.9,1018.4 167.6,1018.5 168.3,1018.5 169.0,1017.9 169.7,1016.8 170.4,1015.8 171.1,1016.1 171.8,1015.7 172.5,1016.0 173.2,1014.6 173.9,1014.3 174.6,1014.4 175.3,1013.3 176.0,1013.0 176.7,1013.7 177.4,1013.1 178.1,1012.2 178.8,1011.5 179.5,1010.3 180.2,1010.8 180.9,1010.0 181.6,1009.6 182.3,1008.7 183.0,1008.6 183.7,1008.0 184.4,1007.8 185.1,1008.0 185.8,1006.9 186.5,1005.2 187.2,1005.1 187.9,1004.3 188.6,1004.3 189.3,1004.6 190.0,1004.0 190.7,1002.9 191.4,1002.9 192.1,1001.8 192.8,1000.9 193.5,1000.3 194.2,1000.1 194.9,1001.0 195.6,998.8 196.3,999.8 197.0,999.3 197.7,997.8 198.4,997.3 199.1,996.4 199.8,996.2 200.5,996.0 201.2,995.1 201.9,995.1 202.6,994.6 203.3,993.5 204.0,992.9 204.7,992.0 205.4,991.7 206.1,990.2 206.8,990.5 207.5,989.7 208.2,988.5 208.9,989.6 209.6,987.1 210.3,986.6 211.0,986.6 211.7,984.7 212.4,984.7 213.1,983.7 213.8,983.4 214.5,983.2 215.2,982.9 215.9,982.7 216.6,981.9 217.3,981.4 218.0,980.4 218.7,979.1 219.4,979.4 220.1,977.8 220.8,977.0 221.5,977.6 222.2,976.5 222.9,975.5 223.6,975.1 224.3,974.5 225.0,972.5 225.7,972.5 226.4,971.2 227.1,971.2 227.8,970.0 228.5,970.5 229.2,969.3 229.9,967.7 230.6,967.4 231.3,966.0 232.0,966.0 232.7,965.5 233.4,964.5 234.1,962.4 234.8,962.6 235.5,962.3 236.2,961.4 236.9,961.1 237.6,958.9 238.3,959.2 239.0,957.7 239.7,957.4 240.4,956.8 241.1,956.1 241.8,954.6 242.5,954.3 243.2,952.7 243.9,951.8 244.6,952.2 245.3,951.1 246.0,949.4 246.7,949.1 247.4,948.8 248.1,949.0 248.8,947.9 249.5,947.0 250.2,944.6 250.9,944.8 251.6,944.4 252.3,943.5 253.0,942.6 253.7,941.4 254.4,941.7 255.1,940.7 255.8,938.9 256.5,937.5 257.2,938.5 257.9,936.1 258.6,936.4 259.3,936.0 260.0,933.5 260.7,933.5 261.4,932.3 262.1,932.1 262.8,931.2 263.5,931.4 264.2,929.8 264.9,928.7 265.6,928.6 266.3,927.0 267.0,926.2 267.7,927.0 268.4,924.5 269.1,924.0 269.8,923.6 270.5,922.1 271.2,920.7 271.9,921.8 272.6,919.8 273.3,919.0 274.0,918.0 274.7,916.4 275.4,915.1 276.1,914.4 276.8,914.4 277.5,911.9 278.2,910.5 278.9,907.8 279.6,907.3 280.3,905.2 281.0,905.0 281.7,903.0 282.4,901.7 283.1,900.2 283.8,898.5 284.5,896.6 285.2,896.4 285.9,893.9 286.6,892.6 287.3,891.7 288.0,890.1 288.7,889.3 289.4,888.3 290.1,886.4 290.8,884.9 291.5,883.3 292.2,882.3 292.9,879.1 293.6,878.9 294.3,876.6 295.0,874.9 295.7,874.1 296.4,872.3 297.1,871.3 297.8,870.0 298.5,866.4 299.2,866.2 299.9,866.0 300.6,863.8 301.3,862.7 302.0,860.4 302.7,858.0 303.4,856.7 304.1,856.5 304.8,855.4 305.5,853.3 306.2,852.5 306.9,851.9 307.6,849.8 308.3,849.9 309.0,850.5 309.7,850.4 310.4,848.6 311.1,849.6 311.8,848.0 312.5,847.6 313.2,846.6 313.9,848.4 314.6,847.5 315.3,849.1 316.0,847.8 316.7,847.6 317.4,846.3 318.1,848.2 318.8,847.0 319.5,847.1 320.2,845.8 320.9,847.5 321.6,847.5 322.3,846.4 323.0,846.8 323.7,846.9 324.4,847.1 325.1,846.6 325.8,847.5 326.5,846.3 327.2,846.1 327.9,846.2 328.6,845.0 329.3,846.1 330.0,847.3 330.7,846.9 331.4,846.3 332.1,847.1 332.8,845.8 333.5,846.9 334.2,847.5 334.9,847.7 335.6,847.0 336.3,848.1 337.0,848.8 337.7,847.5 338.4,848.3 339.1,847.1 339.8,847.0 340.5,848.7 341.2,848.6 341.9,848.9 342.6,848.6 343.3,849.0 344.0,849.9 344.7,850.6 345.4,849.7 346.1,849.1 346.8,851.1 347.5,851.0 348.2,851.3 348.9,851.3 349.6,852.9 350.3,851.9 351.0,852.5 351.7,851.5 352.4,852.7 353.1,853.1 353.8,854.0 354.5,854.8 355.2,854.7 355.9,856.9 356.6,855.8 357.3,856.8 358.0,857.9 358.7,857.7 359.4,859.4 360.1,860.1 360.8,860.3 361.5,862.3 362.2,861.9 362.9,862.8 363.6,862.9 364.3,863.3 365.0,864.9 365.7,866.0 366.4,867.0 367.1,869.0 367.8,868.5 368.5,870.7 369.2,871.7 369.9,875.2 370.6,875.5 371.3,877.1 372.0,878.3 372.7,881.1 373.4,882.0 374.1,884.0 374.8,884.3 375.5,887.9 376.2,889.1 376.9,890.9 377.6,893.0 378.3,893.8 379.0,895.4 379.7,897.6 380.4,899.0 381.1,900.1 381.8,901.8 382.5,903.0 383.2,905.2 383.9,906.8 384.6,907.7 385.3,910.4 386.0,909.8 386.7,912.2 387.4,914.9 388.1,915.1 388.8,916.0 389.5,919.3 390.2,920.3 390.9,920.8 391.6,923.5 392.3,924.0 393.0,925.3 393.7,927.5 394.4,928.7 395.1,929.7 395.8,931.5 396.5,932.4 397.2,934.3 397.9,935.5 398.6,937.2 399.3,937.7 400.0,938.5 400.7,939.7 401.4,941.5 402.1,943.8 402.8,944.5 403.5,944.7 404.2,946.7 404.9,946.4 405.6,948.6 406.3,948.6 407.0,950.2 407.7,950.9 408.4,951.3 409.1,952.6 409.8,952.8 410.5,954.4 411.2,956.1 411.9,959.0 412.6,958.0 413.3,958.7 414.0,959.1 414.7,961.4 415.4,960.8 416.1,962.4 416.8,964.2 417.5,964.3 418.2,967.0 418.9,967.8 419.6,967.9 420.3,968.9 421.0,969.5 421.7,970.4 422.4,972.5 423.1,973.5 423.8,974.2 424.5,975.1 425.2,975.4 425.9,976.8 426.6,976.6 427.3,978.3 428.0,980.0 428.7,980.7 429.4,980.5 430.1,981.3 430.8,983.1 431.5,984.1 432.2,982.9 432.9,984.3 433.6,985.4 434.3,986.8 435.0,986.3 435.7,987.9 436.4,988.0 437.1,990.3 437.8,989.9 438.5,990.3 439.2,990.9 439.9,992.4 440.6,992.9 441.3,992.6 442.0,994.1 442.7,993.9 443.4,994.9 444.1,995.3 444.8,996.0 445.5,997.1 446.2,997.6 446.9,999.1 447.6,999.9 448.3,1000.0 449.0,1000.1 449.7,1001.9 450.4,1000.8 451.1,1001.5 451.8,1003.7 452.5,1004.3 453.2,1005.1 453.9,1005.0 454.6,1005.0 455.3,1006.0 456.0,1007.2 456.7,1007.0 457.4,1007.7 458.1,1007.8 458.8,1008.5 459.5,1010.3 460.2,1010.6 460.9,1010.2 461.6,1010.8 462.3,1011.7 463.0,1012.9 463.7,1012.4 464.4,1013.5 465.1,1012.9 465.8,1013.9 466.5,1015.5 467.2,1016.3 467.9,1015.5 468.6,1016.3 469.3,1017.7 470.0,1017.5 470.7,1017.9 471.4,1019.0 472.1,1019.3 472.8,1020.4 473.5,1020.7 474.2,1020.3 474.9,1021.1 475.6,1021.6 476.3,1021.3 477.0,1022.0 477.7,1023.6 478.4,1022.5 479.1,1024.5 479.8,1024.5 480.5,1024.7 481.2,1025.6 481.9,1026.0 482.6,1026.9 483.3,1026.4 484.0,1026.9 484.7,1027.3 485.4,1029.0 486.1,1028.9 486.8,1028.2 487.5,1029.0 488.2,1029.2 488.9,1030.0 489.6,1030.6 490.3,1032.2 491.0,1030.2 491.7,1032.3 492.4,1032.3 493.1,1032.0 493.8,1032.7 494.5,1032.9 495.2,1033.6 495.9,1034.5 496.6,1033.3 497.3,1035.4 498.0,1034.7 498.7,1036.2 499.4,1035.8 500.1,1036.6 500.8,1036.6 501.5,1037.2 502.2,1036.9 502.9,1036.7 503.6,1037.9 504.3,1038.2 505.0,1039.3 505.7,1037.2 506.4,1038.6 507.1,1039.6 507.8,1038.5 508.5,1039.4 509.2,1041.1 509.9,1041.0 510.6,1039.9 511.3,1041.6 512.0,1041.8 512.7,1041.8 513.4,1041.9 514.1,1042.1 514.8,1041.7 515.5,1042.3 516.2,1043.3 516.9,1043.3 517.6,1044.6 518.3,1043.6 519.0,1042.6 519.7,1044.2 520.4,1044.8 521.1,1045.2 521.8,1045.3 522.5,1045.0 523.2,1046.7 523.9,1045.6 524.6,1046.7 525.3,1046.3 526.0,1046.0 526.7,1047.8 527.4,1045.7 528.1,1046.9 528.8,1047.8 529.5,1047.6 530.2,1048.4 530.9,1048.1 531.6,1048.0 532.3,1049.8 533.0,1048.5 533.7,1048.7 534.4,1048.4 535.1,1048.7 535.8,1049.7 536.5,1049.8 537.2,1049.7 537.9,1049.4 538.6,1050.4 539.3,1049.1 540.0,1050.1 540.7,1050.3 541.4,1050.1 542.1,1050.9 542.8,1050.5 543.5,1050.6 544.2,1052.3 544.9,1051.9 545.6,1052.3 546.3,1051.8 547.0,1052.5 547.7,1052.5 548.4,1053.0 549.1,1053.8 549.8,1052.4 550.5,1052.9 551.2,1052.8 551.9,1050.9 552.6,1052.3 553.3,1053.3 554.0,1053.9 554.7,1053.3 555.4,1054.4 556.1,1054.7 556.8,1053.8 557.5,1055.1 558.2,1055.4 558.9,1054.8 559.6,1054.0 560.3,1055.6 561.0,1054.8 561.7,1054.8 562.4,1055.2 563.1,1054.9 563.8,1056.0 564.5,1056.0 565.2,1056.3 565.9,1056.1 566.6,1055.4 567.3,1055.9 568.0,1056.6 568.7,1056.0" fill="none" stroke="#f00" stroke-width="0.8" stroke-dasharray="3 2" style="marker:url(#rc)"/>
<polyline points="101.8,1042.1 102.5,1039.4 103.2,1038.9 103.9,1040.0 104.6,1039.4 105.3,1038.6 106.0,1038.2 106.7,1038.4 107.4,1038.5 108.1,1038.1 108.8,1037.1 109.5,1037.4 110.2,1037.4 110.9,1037.1 111.6,1033.9 112.3,1035.3 113.0,1035.1 113.7,1035.2 114.4,1035.2 115.1,1035.5 115.8,1035.0 116.5,1034.2 117.2,1034.0 117.9,1035.0 118.6,1032.9 119.3,1033.3 120.0,1034.0 120.7,1032.8 121.4,1030.7 122.1,1032.2 122.8,1031.4 123.5,1031.3 124.2,1031.8 124.9,1031.1 125.6,1030.2 126.3,1030.8 127.0,1030.1 127.7,1029.6 128.4,1029.4 129.1,1029.1 129.8,1028.3 130.5,1027.9 131.2,1027.9 131.9,1026.9 132.6,1026.3 133.3,1027.9 134.0,1026.5 134.7,1026.3 135.4,1025.9 136.1,1025.7 136.8,1025.3 137.5,1025.0 138.2,1024.0 138.9,1025.0 139.6,1023.4 140.3,1024.4 141.0,1021.8 141.7,1022.1 142.4,1023.3 143.1,1022.1 143.8,1021.3 144.5,1021.8 145.2,1020.3 145.9,1020.8 146.6,1018.7 147.3,1019.7 148.0,1019.2 148.7,1019.7 149.4,1019.6 150.1,1017.9 150.8,1019.4 151.5,1017.4 152.2,1015.9 152.9,1015.3 153.6,1017.8 154.3,1016.2 155.0,1015.4 155.7,1014.9 156.4,1014.3 157.1,1015.7 157.8,1014.3 158.5,1015.3 159.2,1013.4 159.9,1011.4 160.6,1013.4 161.3,1012.0 162.0,1011.7 162.7,1012.7 163.4,1010.9 164.1,1011.6 164.8,1010.3 165.5,1009.3 166.2,1009.8 166.9,1008.5 167.6,1009.5 168.3,1008.8 169.0,1007.7 169.7,1007.7 170.4,1007.2 171.1,1006.1 171.8,1006.5 172.5,1005.2 173.2,1005.4 173.9,1003.7 174.6,1004.0 175.3,1003.8 176.0,1002.4 176.7,1002.2 177.4,1001.7 178.1,1002.1 178.8,1000.5 179.5,1000.9 180.2,1001.2 180.9,999.9 181.6,997.9 182.3,998.7 183.0,998.9 183.7,997.4 184.4,997.9 185.1,997.1 185.8,996.4 186.5,995.4 187.2,994.7 187.9,994.3 188.6,994.1 189.3,993.9 190.0,993.3 190.7,992.2 191.4,991.9 192.1,991.6 192.8,989.5 193.5,989.6 194.2,989.0 194.9,988.9 195.6,988.3 196.3,987.7 197.0,986.7 197.7,987.2 198.4,986.3 199.1,984.3 199.8,984.9 200.5,983.5 201.2,985.0 201.9,982.7 202.6,982.1 203.3,981.9 204.0,981.0 204.7,980.5 205.4,981.0 206.1,979.4 206.8,979.2 207.5,978.8 208.2,976.5 208.9,977.9 209.6,976.5 210.3,976.0 211.0,974.0 211.7,974.6 212.4,973.6 213.1,972.2 213.8,973.6 214.5,971.7 215.2,970.4 215.9,970.0 216.6,969.8 217.3,969.3 218.0,968.2 218.7,967.9 219.4,967.4 220.1,964.7 220.8,964.5 221.5,963.5 222.2,963.5 222.9,963.8 223.6,962.5 224.3,960.5 225.0,960.4 225.7,960.7 226.4,958.8 227.1,958.4 227.8,958.0 228.5,955.7 229.2,957.0 229.9,955.9 230.6,955.4 231.3,953.5 232.0,953.0 232.7,952.4 233.4,952.3 234.1,951.5 234.8,950.8 235.5,951.3 236.2,950.3 236.9,948.1 237.6,947.4 238.3,948.5 239.0,946.3 239.7,946.9 240.4,946.3 241.1,944.0 241.8,943.6 242.5,943.2 243.2,941.8 243.9,941.0 244.6,940.7 245.3,940.9 246.0,939.2 246.7,938.7 247.4,937.9 248.1,936.6 248.8,938.1 249.5,934.7 250.2,935.5 250.9,936.0 251.6,934.2 252.3,935.4 253.0,935.8 253.7,934.2 254.4,935.1 255.1,934.3 255.8,935.7 256.5,935.5 257.2,935.7 257.9,936.7 258.6,936.2 259.3,937.1 260.0,936.7 260.7,935.6 261.4,937.0 262.1,937.5 262.8,936.3 263.5,938.7 264.2,938.1 264.9,938.6 265.6,938.0 266.3,939.0 267.0,939.5 267.7,939.3 268.4,939.9 269.1,938.5 269.8,941.4 270.5,939.9 271.2,939.4 271.9,940.6 272.6,940.9 273.3,942.2 274.0,941.4 274.7,942.6 275.4,941.9 276.1,944.5 276.8,943.5 277.5,944.8 278.2,942.8 278.9,944.2 279.6,943.3 280.3,944.6 281.0,945.0 281.7,943.5 282.4,944.1 283.1,944.3 283.8,944.3 284.5,945.1 285.2,945.2 285.9,945.1 286.6,946.5 287.3,947.0 288.0,945.9 288.7,946.7 289.4,947.3 290.1,947.3 290.8,947.2 291.5,948.5 292.2,948.8 292.9,948.8 293.6,948.4 294.3,950.2 295.0,950.2 295.7,948.8 296.4,949.2 297.1,950.4 297.8,949.1 298.5,950.2 299.2,950.1 299.9,949.7 300.6,950.2 301.3,949.4 302.0,950.3 302.7,949.4 303.4,952.7 304.1,952.3 304.8,952.2 305.5,951.7 306.2,952.4 306.9,952.7 307.6,952.7 308.3,952.7 309.0,951.5 309.7,952.6 310.4,952.0 311.1,951.7 311.8,951.8 312.5,953.1 313.2,953.7 313.9,952.0 314.6,954.5 315.3,954.4 316.0,953.1 316.7,953.2 317.4,953.6 318.1,954.5 318.8,953.6 319.5,953.2 320.2,954.3 320.9,952.6 321.6,954.4 322.3,955.2 323.0,954.7 323.7,955.1 324.4,955.0 325.1,955.2 325.8,954.9 326.5,954.2 327.2,954.8 327.9,955.0 328.6,956.0 329.3,956.4 330.0,955.5 330.7,954.7 331.4,954.8 332.1,955.2 332.8,956.5 333.5,955.7 334.2,955.5 334.9,955.0 335.6,956.3 336.3,955.9 337.0,955.7 337.7,955.8 338.4,957.0 339.1,955.7 339.8,957.1 340.5,956.7 341.2,955.8 341.9,956.5 342.6,955.7 343.3,955.2 344.0,955.6 344.7,955.1 345.4,956.2 346.1,955.8 346.8,956.2 347.5,956.4 348.2,953.5 348.9,956.0 349.6,954.4 350.3,955.9 351.0,955.1 351.7,955.8 352.4,956.7 353.1,954.3 353.8,955.6 354.5,955.3 355.2,953.8 355.9,955.6 356.6,955.0 357.3,954.4 358.0,954.1 358.7,956.9 359.4,954.0 360.1,952.8 360.8,953.3 361.5,953.5 362.2,953.3 362.9,953.4 363.6,952.5 364.3,953.5 365.0,952.6 365.7,951.8 366.4,952.1 367.1,952.3 367.8,953.0 368.5,952.6 369.2,951.9 369.9,952.0 370.6,952.0 371.3,953.2 372.0,951.1 372.7,951.7 373.4,951.8 374.1,950.4 374.8,951.1 375.5,950.9 376.2,950.3 376.9,951.0 377.6,951.2 378.3,951.1 379.0,950.0 379.7,950.1 380.4,951.6 381.1,948.9 381.8,949.7 382.5,950.1 383.2,949.4 383.9,949.7 384.6,949.2 385.3,949.5 386.0,949.8 386.7,948.5 387.4,948.7 388.1,948.4 388.8,948.0 389.5,948.2 390.2,947.2 390.9,948.5 391.6,949.1 392.3,949.0 393.0,948.6 393.7,946.8 394.4,948.5 395.1,946.7 395.8,947.1 396.5,948.4 397.2,946.1 397.9,947.5 398.6,946.9 399.3,946.5 400.0,945.9 400.7,946.7 401.4,946.0 402.1,947.0 402.8,947.0 403.5,945.0 404.2,945.5 404.9,945.6 405.6,944.8 406.3,944.8 407.0,945.6 407.7,945.3 408.4,944.1 409.1,944.9 409.8,945.6 410.5,944.2 411.2,944.4 411.9,946.2 412.6,945.9 413.3,943.6 414.0,943.7 414.7,945.0 415.4,943.7 416.1,944.4 416.8,944.3 417.5,945.1 418.2,942.9 418.9,943.3 419.6,944.4 420.3,946.6 421.0,946.1 421.7,945.4 422.4,947.5 423.1,948.2 423.8,948.1 424.5,948.6 425.2,949.9 425.9,951.2 426.6,951.1 427.3,952.1 428.0,952.5 428.7,953.1 429.4,953.5 430.1,955.2 430.8,955.7 431.5,956.5 432.2,958.2 432.9,958.7 433.6,959.8 434.3,958.8 435.0,961.2 435.7,961.1 436.4,961.8 437.1,962.5 437.8,964.9 438.5,965.4 439.2,965.0 439.9,965.4 440.6,967.0 441.3,967.4 442.0,969.8 442.7,968.2 443.4,968.6 444.1,970.5 444.8,971.5 445.5,972.3 446.2,973.5 446.9,975.2 447.6,974.0 448.3,974.5 449.0,974.3 449.7,976.4 450.4,977.6 451.1,977.4 451.8,979.2 452.5,979.0 453.2,980.8 453.9,980.7 454.6,980.5 455.3,981.6 456.0,981.7 456.7,982.4 457.4,984.8 458.1,986.1 458.8,987.8 459.5,987.1 460.2,987.8 460.9,988.0 461.6,990.3 462.3,990.7 463.0,990.7 463.7,992.3 464.4,992.9 465.1,991.8 465.8,994.4 466.5,994.6 467.2,994.8 467.9,995.4 468.6,997.7 469.3,998.1 470.0,999.0 470.7,997.3 471.4,998.3 472.1,1000.0 472.8,999.0 473.5,1000.0 474.2,999.7 474.9,1003.0 475.6,1003.0 476.3,1003.1 477.0,1003.5 477.7,1003.5 478.4,1004.1 479.1,1005.4 479.8,1004.9 480.5,1006.9 481.2,1006.1 481.9,1006.4 482.6,1008.5 483.3,1008.0 484.0,1009.0 484.7,1008.8 485.4,1007.9 486.1,1010.5 486.8,1009.5 487.5,1011.8 488.2,1010.4 488.9,1010.6 489.6,1012.7 490.3,1013.3 491.0,1013.5 491.7,1013.0 492.4,1015.0 493.1,1013.7 493.8,1014.9 494.5,1015.1 495.2,1015.9 495.9,1017.3 496.6,1016.6 497.3,1017.9 498.0,1018.5 498.7,1017.1 499.4,1018.0 500.1,1019.0 500.8,1019.3 501.5,1020.4 502.2,1019.1 502.9,1021.5 503.6,1022.0 504.3,1021.7 505.0,1021.2 505.7,1022.7 506.4,1022.7 507.1,1023.9 507.8,1023.8 508.5,1024.8 509.2,1024.3 509.9,1026.1 510.6,1023.7 511.3,1025.1 512.0,1026.6 512.7,1025.4 513.4,1027.5 514.1,1026.4 514.8,1027.8 515.5,1027.4 516.2,1028.1 516.9,1028.9 517.6,1029.0 518.3,1029.2 519.0,1031.4 519.7,1030.2 520.4,1029.8 521.1,1031.6 521.8,1031.8 522.5,1032.4 523.2,1033.2 523.9,1031.5 524.6,1033.3 525.3,1033.7 526.0,1033.1 526.7,1033.6 527.4,1031.5 528.1,1033.6 528.8,1035.7 529.5,1033.3 530.2,1034.6 530.9,1035.5 531.6,1036.0 532.3,1037.1 533.0,1034.8 533.7,1036.5 534.4,1037.4 535.1,1036.0 535.8,1037.3 536.5,1039.0 537.2,1038.8 537.9,1038.5 538.6,1036.4 539.3,1038.5 540.0,1039.2 540.7,1038.9 541.4,1039.3 542.1,1041.9 542.8,1039.7 543.5,1039.4 544.2,1040.5 544.9,1040.3 545.6,1040.6 546.3,1041.0 547.0,1041.8 547.7,1041.6 548.4,1040.8 549.1,1041.8 549.8,1042.5 550.5,1042.0 551.2,1043.4 551.9,1043.3 552.6,1042.2 553.3,1043.4 554.0,1044.8 554.7,1044.7 555.4,1043.7 556.1,1044.6 556.8,1043.6 557.5,1043.2 558.2,1044.9 558.9,1044.9 559.6,1045.3 560.3,1045.1 561.0,1045.5 561.7,1045.1 562.4,1046.0 563.1,1046.4 563.8,1045.9 564.5,1046.7 565.2,1045.0 565.9,1045.9 566.6,1047.7 567.3,1048.1 568.0,1047.2 568.7,1047.1" fill="none" stroke="#00f" stroke-width="0.8" stroke-dasharray="1 2" style="marker:url(#bc)"/>
<path d="M570.4 1024.4h0.01" fill="none" stroke="none" style="marker:url(#rc)"/>
<path d="M571.4 1006.4h0.01" fill="none" stroke="none" style="marker:url(#kc)"/>
<path d="M570.5 993.0h0.01" fill="none" stroke="none" style="marker:url(#bc)"/>
<path d="M99.0 1056.0h0.01" fill="none" stroke="none" style="marker:url(#kc)"/>
<path d="M100.0 1062.0h0.01" fill="none" stroke="none" style="marker:url(#bc)"/>
</g>
<clipPath id="cpd"><rect x="585.40" y="7.70" width="459.95" height="347.00"/></clipPath>
<g clip-path="url(#cpd)">
<polyline points="585.5,312.5 586.5,312.5 587.4,312.5 588.3,312.5 589.2,312.5 590.1,312.5 591.1,312.5 592.0,312.5 592.9,312.5 593.8,312.5 594.7,312.5 595.7,312.5 596.6,312.5 597.5,312.5 598.4,312.5 599.3,312.5 600.3,312.5 601.2,312.5 602.1,312.5 603.0,312.5 603.9,312.5 604.8,312.5 605.8,312.5 606.7,312.5 607.6,312.5 608.5,312.5 609.4,312.5 610.4,312.5 611.3,312.5 612.2,312.5 613.1,312.5 614.0,312.5 615.0,312.5 615.9,312.5 616.8,312.5 617.7,312.5 618.6,312.5 619.6,312.5 620.5,312.5 621.4,312.5 622.3,312.5 623.2,312.5 624.1,312.5 625.1,312.5 626.0,312.5 626.9,312.5 627.8,312.5 628.7,312.5 629.7,312.5 630.6,312.5 631.5,312.5 632.4,312.5 633.3,312.5 634.3,312.5 635.2,312.5 636.1,312.5 637.0,312.5 637.9,312.5 638.9,312.5 639.8,312.5 640.7,312.5 641.6,312.5 642.5,312.5 643.4,312.4 644.4,312.4 645.3,312.4 646.2,312.4 647.1,312.4 648.0,312.4 649.0,312.4 649.9,312.4 650.8,312.4 651.7,312.4 652.6,312.4 653.6,312.4 654.5,312.4 655.4,312.4 656.3,312.4 657.2,312.4 658.2,312.4 659.1,312.4 660.0,312.4 660.9,312.4 661.8,312.4 662.7,312.4 663.7,312.4 664.6,312.4 665.5,312.4 666.4,312.4 667.3,312.4 668.3,312.4 669.2,312.4 670.1,312.4 671.0,312.4 671.9,312.4 672.9,312.4 673.8,312.4 674.7,312.4 675.6,312.4 676.5,312.4 677.4,312.4 678.4,312.4 679.3,312.4 680.2,312.3 681.1,312.3 682.0,312.3 683.0,312.3 683.9,312.3 684.8,312.3 685.7,312.3 686.6,312.3 687.6,312.3 688.5,312.3 689.4,312.3 690.3,312.3 691.2,312.3 692.2,312.3 693.1,312.3 694.0,312.3 694.9,312.3 695.8,312.3 696.7,312.3 697.7,312.3 698.6,312.3 699.5,312.3 700.4,312.2 701.3,312.2 702.3,312.2 703.2,312.2 704.1,312.2 705.0,312.2 705.9,312.2 706.9,312.2 707.8,312.2 708.7,312.2 709.6,312.2 710.5,312.2 711.5,312.2 712.4,312.2 713.3,312.2 714.2,312.1 715.1,312.1 716.0,312.1 717.0,312.1 717.9,312.1 718.8,312.1 719.7,312.1 720.6,312.1 721.6,312.1 722.5,312.1 723.4,312.0 724.3,312.0 725.2,312.0 726.2,312.0 727.1,312.0 728.0,312.0 728.9,312.0 729.8,312.0 730.8,311.9 731.7,311.9 732.6,311.9 733.5,311.9 734.4,311.9 735.3,311.9 736.3,311.8 737.2,311.8 738.1,311.8 739.0,311.8 739.9,311.8 740.9,311.7 741.8,311.7 742.7,311.7 743.6,311.7 744.5,311.7 745.5,311.6 746.4,311.6 747.3,311.6 748.2,311.5 749.1,311.5 750.1,311.5 751.0,311.5 751.9,311.4 752.8,311.4 753.7,311.3 754.6,311.3 755.6,311.3 756.5,311.2 757.4,311.2 758.3,311.1 759.2,311.1 760.2,311.0 761.1,311.0 762.0,310.9 762.9,310.9 763.8,310.8 764.8,310.7 765.7,310.7 766.6,310.6 767.5,310.5 768.4,310.4 769.3,310.4 770.3,310.3 771.2,310.2 772.1,310.1 773.0,309.9 773.9,309.8 774.9,309.7 775.8,309.6 776.7,309.4 777.6,309.3 778.5,309.1 779.5,308.9 780.4,308.7 781.3,308.5 782.2,308.3 783.1,308.0 784.1,307.8 785.0,307.5 785.9,307.2 786.8,306.8 787.7,306.4 788.6,306.0 789.6,305.5 790.5,305.0 791.4,304.4 792.3,303.8 793.2,303.1 794.2,302.3 795.1,301.3 796.0,300.3 796.9,299.1 797.8,297.7 798.8,296.1 799.7,294.2 800.6,292.0 801.5,289.4 802.4,286.3 803.4,282.6 804.3,278.0 805.2,272.4 806.1,265.4 807.0,256.6 807.9,245.3 808.9,230.8 809.8,212.0 810.7,187.7 811.6,156.9 812.5,120.0 813.5,80.7 814.4,48.4 815.3,35.5 816.2,48.4 817.1,80.7 818.1,120.0 819.0,156.9 819.9,187.7 820.8,212.0 821.7,230.8 822.7,245.3 823.6,256.6 824.5,265.4 825.4,272.4 826.3,278.0 827.2,282.6 828.2,286.3 829.1,289.4 830.0,292.0 830.9,294.2 831.8,296.1 832.8,297.7 833.7,299.1 834.6,300.3 835.5,301.3 836.4,302.3 837.4,303.1 838.3,303.8 839.2,304.4 840.1,305.0 841.0,305.5 842.0,306.0 842.9,306.4 843.8,306.8 844.7,307.2 845.6,307.5 846.5,307.8 847.5,308.0 848.4,308.3 849.3,308.5 850.2,308.7 851.1,308.9 852.1,309.1 853.0,309.3 853.9,309.4 854.8,309.6 855.7,309.7 856.7,309.8 857.6,309.9 858.5,310.1 859.4,310.2 860.3,310.3 861.2,310.4 862.2,310.4 863.1,310.5 864.0,310.6 864.9,310.7 865.8,310.7 866.8,310.8 867.7,310.9 868.6,310.9 869.5,311.0 870.4,311.0 871.4,311.1 872.3,311.1 873.2,311.2 874.1,311.2 875.0,311.3 876.0,311.3 876.9,311.3 877.8,311.4 878.7,311.4 879.6,311.5 880.5,311.5 881.5,311.5 882.4,311.5 883.3,311.6 884.2,311.6 885.1,311.6 886.1,311.7 887.0,311.7 887.9,311.7 888.8,311.7 889.7,311.7 890.7,311.8 891.6,311.8 892.5,311.8 893.4,311.8 894.3,311.8 895.3,311.9 896.2,311.9 897.1,311.9 898.0,311.9 898.9,311.9 899.8,311.9 900.8,312.0 901.7,312.0 902.6,312.0 903.5,312.0 904.4,312.0 905.4,312.0 906.3,312.0 907.2,312.0 908.1,312.1 909.0,312.1 910.0,312.1 910.9,312.1 911.8,312.1 912.7,312.1 913.6,312.1 914.6,312.1 915.5,312.1 916.4,312.1 917.3,312.2 918.2,312.2 919.1,312.2 920.1,312.2 921.0,312.2 921.9,312.2 922.8,312.2 923.7,312.2 924.7,312.2 925.6,312.2 926.5,312.2 927.4,312.2 928.3,312.2 929.3,312.2 930.2,312.2 931.1,312.3 932.0,312.3 932.9,312.3 933.9,312.3 934.8,312.3 935.7,312.3 936.6,312.3 937.5,312.3 938.4,312.3 939.4,312.3 940.3,312.3 941.2,312.3 942.1,312.3 943.0,312.3 944.0,312.3 944.9,312.3 945.8,312.3 946.7,312.3 947.6,312.3 948.6,312.3 949.5,312.3 950.4,312.3 951.3,312.4 952.2,312.4 953.1,312.4 954.1,312.4 955.0,312.4 955.9,312.4 956.8,312.4 957.7,312.4 958.7,312.4 959.6,312.4 960.5,312.4 961.4,312.4 962.3,312.4 963.3,312.4 964.2,312.4 965.1,312.4 966.0,312.4 966.9,312.4 967.9,312.4 968.8,312.4 969.7,312.4 970.6,312.4 971.5,312.4 972.4,312.4 973.4,312.4 974.3,312.4 975.2,312.4 976.1,312.4 977.0,312.4 978.0,312.4 978.9,312.4 979.8,312.4 980.7,312.4 981.6,312.4 982.6,312.4 983.5,312.4 984.4,312.4 985.3,312.4 986.2,312.4 987.2,312.4 988.1,312.5 989.0,312.5 989.9,312.5 990.8,312.5 991.7,312.5 992.7,312.5 993.6,312.5 994.5,312.5 995.4,312.5 996.3,312.5 997.3,312.5 998.2,312.5 999.1,312.5 1000.0,312.5 1000.9,312.5 1001.9,312.5 1002.8,312.5 1003.7,312.5 1004.6,312.5 1005.5,312.5 1006.5,312.5 1007.4,312.5 1008.3,312.5 1009.2,312.5 1010.1,312.5 1011.0,312.5 1012.0,312.5 1012.9,312.5 1013.8,312.5 1014.7,312.5 1015.6,312.5 1016.6,312.5 1017.5,312.5 1018.4,312.5 1019.3,312.5 1020.2,312.5 1021.2,312.5 1022.1,312.5 1023.0,312.5 1023.9,312.5 1024.8,312.5 1025.8,312.5 1026.7,312.5 1027.6,312.5 1028.5,312.5 1029.4,312.5 1030.3,312.5 1031.3,312.5 1032.2,312.5 1033.1,312.5 1034.0,312.5 1034.9,312.5 1035.9,312.5 1036.8,312.5 1037.7,312.5 1038.6,312.5 1039.5,312.5 1040.5,312.5 1041.4,312.5 1042.3,312.5 1043.2,312.5 1044.1,312.5 1045.0,312.5" fill="none" stroke="#000" stroke-width="0.8" style="marker:url(#kd)"/>
<polyline points="585.5,312.1 586.5,312.1 587.4,312.1 588.3,312.1 589.2,312.1 590.1,312.1 591.1,312.1 592.0,312.1 592.9,312.1 593.8,312.1 594.7,312.1 595.7,312.1 596.6,312.1 597.5,312.1 598.4,312.1 599.3,312.1 600.3,312.1 601.2,312.1 602.1,312.1 603.0,312.1 603.9,312.1 604.8,312.1 605.8,312.1 606.7,312.1 607.6,312.1 608.5,312.1 609.4,312.1 610.4,312.1 611.3,312.1 612.2,312.1 613.1,312.1 614.0,312.1 615.0,312.1 615.9,312.1 616.8,312.1 617.7,312.1 618.6,312.1 619.6,312.1 620.5,312.1 621.4,312.1 622.3,312.1 623.2,312.1 624.1,312.1 625.1,312.1 626.0,312.1 626.9,312.1 627.8,312.1 628.7,312.1 629.7,312.1 630.6,312.1 631.5,312.1 632.4,312.1 633.3,312.1 634.3,312.1 635.2,312.1 636.1,312.1 637.0,312.1 637.9,312.1 638.9,312.1 639.8,312.1 640.7,312.1 641.6,312.0 642.5,312.0 643.4,312.0 644.4,312.0 645.3,312.0 646.2,312.0 647.1,312.0 648.0,312.0 649.0,312.0 649.9,312.0 650.8,312.0 651.7,312.0 652.6,312.0 653.6,312.0 654.5,312.0 655.4,312.0 656.3,312.0 657.2,312.0 658.2,312.0 659.1,312.0 660.0,312.0 660.9,312.0 661.8,312.0 662.7,312.0 663.7,312.0 664.6,312.0 665.5,312.0 666.4,312.0 667.3,312.0 668.3,312.0 669.2,312.0 670.1,312.0 671.0,312.0 671.9,312.0 672.9,312.0 673.8,312.0 674.7,311.9 675.6,311.9 676.5,311.9 677.4,311.9 678.4,311.9 679.3,311.9 680.2,311.9 681.1,311.9 682.0,311.9 683.0,311.9 683.9,311.9 684.8,311.9 685.7,311.9 686.6,311.9 687.6,311.9 688.5,311.9 689.4,311.9 690.3,311.9 691.2,311.9 692.2,311.9 693.1,311.9 694.0,311.8 694.9,311.8 695.8,311.8 696.7,311.8 697.7,311.8 698.6,311.8 699.5,311.8 700.4,311.8 701.3,311.8 702.3,311.8 703.2,311.8 704.1,311.8 705.0,311.8 705.9,311.7 706.9,311.7 707.8,311.7 708.7,311.7 709.6,311.7 710.5,311.7 711.5,311.7 712.4,311.7 713.3,311.7 714.2,311.6 715.1,311.6 716.0,311.6 717.0,311.6 717.9,311.6 718.8,311.6 719.7,311.6 720.6,311.5 721.6,311.5 722.5,311.5 723.4,311.5 724.3,311.5 725.2,311.5 726.2,311.4 727.1,311.4 728.0,311.4 728.9,311.4 729.8,311.4 730.8,311.3 731.7,311.3 732.6,311.3 733.5,311.2 734.4,311.2 735.3,311.2 736.3,311.2 737.2,311.1 738.1,311.1 739.0,311.1 739.9,311.0 740.9,311.0 741.8,310.9 742.7,310.9 743.6,310.8 744.5,310.8 745.5,310.7 746.4,310.7 747.3,310.6 748.2,310.5 749.1,310.5 750.1,310.4 751.0,310.3 751.9,310.2 752.8,310.2 753.7,310.1 754.6,310.0 755.6,309.8 756.5,309.7 757.4,309.6 758.3,309.4 759.2,309.3 760.2,309.1 761.1,308.9 762.0,308.7 762.9,308.5 763.8,308.3 764.8,308.0 765.7,307.7 766.6,307.4 767.5,307.0 768.4,306.6 769.3,306.1 770.3,305.6 771.2,305.0 772.1,304.3 773.0,303.5 773.9,302.6 774.9,301.5 775.8,300.2 776.7,298.7 777.6,296.9 778.5,294.7 779.5,292.0 780.4,288.7 781.3,284.6 782.2,279.4 783.1,272.9 784.1,264.6 785.0,254.3 785.9,241.8 786.8,227.4 787.7,212.9 788.6,201.5 789.6,197.0 790.5,201.4 791.4,212.7 792.3,227.2 793.2,241.5 794.2,254.0 795.1,264.3 796.0,272.4 796.9,278.9 797.8,284.0 798.8,288.0 799.7,291.3 800.6,293.9 801.5,296.0 802.4,297.7 803.4,299.1 804.3,300.3 805.2,301.3 806.1,302.1 807.0,302.8 807.9,303.3 808.9,303.8 809.8,304.2 810.7,304.5 811.6,304.7 812.5,304.9 813.5,305.1 814.4,305.1 815.3,305.2 816.2,305.1 817.1,305.1 818.1,304.9 819.0,304.7 819.9,304.5 820.8,304.2 821.7,303.8 822.7,303.3 823.6,302.8 824.5,302.1 825.4,301.3 826.3,300.3 827.2,299.1 828.2,297.7 829.1,296.0 830.0,293.9 830.9,291.3 831.8,288.0 832.8,284.0 833.7,278.9 834.6,272.4 835.5,264.3 836.4,254.0 837.4,241.5 838.3,227.2 839.2,212.7 840.1,201.4 841.0,197.0 842.0,201.5 842.9,212.9 843.8,227.4 844.7,241.8 845.6,254.3 846.5,264.6 847.5,272.9 848.4,279.4 849.3,284.6 850.2,288.7 851.1,292.0 852.1,294.7 853.0,296.9 853.9,298.7 854.8,300.2 855.7,301.5 856.7,302.6 857.6,303.5 858.5,304.3 859.4,305.0 860.3,305.6 861.2,306.1 862.2,306.6 863.1,307.0 864.0,307.4 864.9,307.7 865.8,308.0 866.8,308.3 867.7,308.5 868.6,308.7 869.5,308.9 870.4,309.1 871.4,309.3 872.3,309.4 873.2,309.6 874.1,309.7 875.0,309.8 876.0,310.0 876.9,310.1 877.8,310.2 878.7,310.2 879.6,310.3 880.5,310.4 881.5,310.5 882.4,310.5 883.3,310.6 884.2,310.7 885.1,310.7 886.1,310.8 887.0,310.8 887.9,310.9 888.8,310.9 889.7,311.0 890.7,311.0 891.6,311.1 892.5,311.1 893.4,311.1 894.3,311.2 895.3,311.2 896.2,311.2 897.1,311.2 898.0,311.3 898.9,311.3 899.8,311.3 900.8,311.4 901.7,311.4 902.6,311.4 903.5,311.4 904.4,311.4 905.4,311.5 906.3,311.5 907.2,311.5 908.1,311.5 909.0,311.5 910.0,311.5 910.9,311.6 911.8,311.6 912.7,311.6 913.6,311.6 914.6,311.6 915.5,311.6 916.4,311.6 917.3,311.7 918.2,311.7 919.1,311.7 920.1,311.7 921.0,311.7 921.9,311.7 922.8,311.7 923.7,311.7 924.7,311.7 925.6,311.8 926.5,311.8 927.4,311.8 928.3,311.8 929.3,311.8 930.2,311.8 931.1,311.8 932.0,311.8 932.9,311.8 933.9,311.8 934.8,311.8 935.7,311.8 936.6,311.8 937.5,311.9 938.4,311.9 939.4,311.9 940.3,311.9 941.2,311.9 942.1,311.9 943.0,311.9 944.0,311.9 944.9,311.9 945.8,311.9 946.7,311.9 947.6,311.9 948.6,311.9 949.5,311.9 950.4,311.9 951.3,311.9 952.2,311.9 953.1,311.9 954.1,311.9 955.0,311.9 955.9,311.9 956.8,312.0 957.7,312.0 958.7,312.0 959.6,312.0 960.5,312.0 961.4,312.0 962.3,312.0 963.3,312.0 964.2,312.0 965.1,312.0 966.0,312.0 966.9,312.0 967.9,312.0 968.8,312.0 969.7,312.0 970.6,312.0 971.5,312.0 972.4,312.0 973.4,312.0 974.3,312.0 975.2,312.0 976.1,312.0 977.0,312.0 978.0,312.0 978.9,312.0 979.8,312.0 980.7,312.0 981.6,312.0 982.6,312.0 983.5,312.0 984.4,312.0 985.3,312.0 986.2,312.0 987.2,312.0 988.1,312.0 989.0,312.0 989.9,312.1 990.8,312.1 991.7,312.1 992.7,312.1 993.6,312.1 994.5,312.1 995.4,312.1 996.3,312.1 997.3,312.1 998.2,312.1 999.1,312.1 1000.0,312.1 1000.9,312.1 1001.9,312.1 1002.8,312.1 1003.7,312.1 1004.6,312.1 1005.5,312.1 1006.5,312.1 1007.4,312.1 1008.3,312.1 1009.2,312.1 1010.1,312.1 1011.0,312.1 1012.0,312.1 1012.9,312.1 1013.8,312.1 1014.7,312.1 1015.6,312.1 1016.6,312.1 1017.5,312.1 1018.4,312.1 1019.3,312.1 1020.2,312.1 1021.2,312.1 1022.1,312.1 1023.0,312.1 1023.9,312.1 1024.8,312.1 1025.8,312.1 1026.7,312.1 1027.6,312.1 1028.5,312.1 1029.4,312.1 1030.3,312.1 1031.3,312.1 1032.2,312.1 1033.1,312.1 1034.0,312.1 1034.9,312.1 1035.9,312.1 1036.8,312.1 1037.7,312.1 1038.6,312.1 1039.5,312.1 1040.5,312.1 1041.4,312.1 1042.3,312.1 1043.2,312.1 1044.1,312.1 1045.0,312.1" fill="none" stroke="#f00" stroke-width="0.8" stroke-dasharray="3 2" style="marker:url(#rd)"/>
<polyline points="585.5,310.1 586.5,310.1 587.4,310.1 588.3,310.1 589.2,310.1 590.1,310.1 591.1,310.1 592.0,310.1 592.9,310.1 593.8,310.1 594.7,310.1 595.7,310.1 596.6,310.1 597.5,310.1 598.4,310.1 599.3,310.1 600.3,310.1 601.2,310.1 602.1,310.1 603.0,310.1 603.9,310.1 604.8,310.1 605.8,310.1 606.7,310.1 607.6,310.1 608.5,310.1 609.4,310.1 610.4,310.1 611.3,310.1 612.2,310.1 613.1,310.1 614.0,310.1 615.0,310.1 615.9,310.1 616.8,310.1 617.7,310.1 618.6,310.1 619.6,310.1 620.5,310.1 621.4,310.0 622.3,310.0 623.2,310.0 624.1,310.0 625.1,310.0 626.0,310.0 626.9,310.0 627.8,310.0 628.7,310.0 629.7,310.0 630.6,310.0 631.5,310.0 632.4,310.0 633.3,310.0 634.3,310.0 635.2,310.0 636.1,310.0 637.0,310.0 637.9,310.0 638.9,310.0 639.8,310.0 640.7,310.0 641.6,310.0 642.5,310.0 643.4,310.0 644.4,309.9 645.3,309.9 646.2,309.9 647.1,309.9 648.0,309.9 649.0,309.9 649.9,309.9 650.8,309.9 651.7,309.9 652.6,309.9 653.6,309.9 654.5,309.9 655.4,309.9 656.3,309.9 657.2,309.8 658.2,309.8 659.1,309.8 660.0,309.8 660.9,309.8 661.8,309.8 662.7,309.8 663.7,309.8 664.6,309.8 665.5,309.8 666.4,309.7 667.3,309.7 668.3,309.7 669.2,309.7 670.1,309.7 671.0,309.7 671.9,309.7 672.9,309.6 673.8,309.6 674.7,309.6 675.6,309.6 676.5,309.6 677.4,309.6 678.4,309.5 679.3,309.5 680.2,309.5 681.1,309.5 682.0,309.4 683.0,309.4 683.9,309.4 684.8,309.4 685.7,309.3 686.6,309.3 687.6,309.3 688.5,309.2 689.4,309.2 690.3,309.1 691.2,309.1 692.2,309.1 693.1,309.0 694.0,309.0 694.9,308.9 695.8,308.9 696.7,308.8 697.7,308.7 698.6,308.7 699.5,308.6 700.4,308.5 701.3,308.4 702.3,308.3 703.2,308.2 704.1,308.1 705.0,308.0 705.9,307.9 706.9,307.8 707.8,307.6 708.7,307.4 709.6,307.3 710.5,307.1 711.5,306.9 712.4,306.6 713.3,306.4 714.2,306.1 715.1,305.8 716.0,305.4 717.0,305.0 717.9,304.5 718.8,304.0 719.7,303.4 720.6,302.7 721.6,301.9 722.5,301.0 723.4,300.0 724.3,298.7 725.2,297.2 726.2,295.4 727.1,293.2 728.0,290.5 728.9,287.2 729.8,283.1 730.8,277.9 731.7,271.3 732.6,263.1 733.5,252.7 734.4,240.1 735.3,225.7 736.3,211.1 737.2,199.7 738.1,195.2 739.0,199.6 739.9,211.1 740.9,225.6 741.8,240.1 742.7,252.7 743.6,263.0 744.5,271.3 745.5,277.9 746.4,283.0 747.3,287.2 748.2,290.5 749.1,293.1 750.1,295.3 751.0,297.1 751.9,298.6 752.8,299.9 753.7,301.0 754.6,301.9 755.6,302.7 756.5,303.4 757.4,304.0 758.3,304.5 759.2,304.9 760.2,305.3 761.1,305.7 762.0,306.0 762.9,306.3 763.8,306.6 764.8,306.8 765.7,307.0 766.6,307.2 767.5,307.4 768.4,307.5 769.3,307.7 770.3,307.8 771.2,307.9 772.1,308.0 773.0,308.1 773.9,308.2 774.9,308.3 775.8,308.4 776.7,308.5 777.6,308.5 778.5,308.6 779.5,308.7 780.4,308.7 781.3,308.8 782.2,308.8 783.1,308.9 784.1,308.9 785.0,309.0 785.9,309.0 786.8,309.0 787.7,309.1 788.6,309.1 789.6,309.1 790.5,309.1 791.4,309.2 792.3,309.2 793.2,309.2 794.2,309.2 795.1,309.3 796.0,309.3 796.9,309.3 797.8,309.3 798.8,309.3 799.7,309.3 800.6,309.4 801.5,309.4 802.4,309.4 803.4,309.4 804.3,309.4 805.2,309.4 806.1,309.4 807.0,309.4 807.9,309.4 808.9,309.4 809.8,309.4 810.7,309.4 811.6,309.4 812.5,309.4 813.5,309.4 814.4,309.4 815.3,309.4 816.2,309.4 817.1,309.4 818.1,309.4 819.0,309.4 819.9,309.4 820.8,309.4 821.7,309.4 822.7,309.4 823.6,309.4 824.5,309.4 825.4,309.4 826.3,309.4 827.2,309.4 828.2,309.4 829.1,309.4 830.0,309.4 830.9,309.3 831.8,309.3 832.8,309.3 833.7,309.3 834.6,309.3 835.5,309.3 836.4,309.2 837.4,309.2 838.3,309.2 839.2,309.2 840.1,309.1 841.0,309.1 842.0,309.1 842.9,309.1 843.8,309.0 844.7,309.0 845.6,309.0 846.5,308.9 847.5,308.9 848.4,308.8 849.3,308.8 850.2,308.7 851.1,308.7 852.1,308.6 853.0,308.5 853.9,308.5 854.8,308.4 855.7,308.3 856.7,308.2 857.6,308.1 858.5,308.0 859.4,307.9 860.3,307.8 861.2,307.7 862.2,307.5 863.1,307.4 864.0,307.2 864.9,307.0 865.8,306.8 866.8,306.6 867.7,306.3 868.6,306.0 869.5,305.7 870.4,305.3 871.4,304.9 872.3,304.5 873.2,304.0 874.1,303.4 875.0,302.7 876.0,301.9 876.9,301.0 877.8,299.9 878.7,298.6 879.6,297.1 880.5,295.3 881.5,293.1 882.4,290.5 883.3,287.2 884.2,283.0 885.1,277.9 886.1,271.3 887.0,263.0 887.9,252.7 888.8,240.1 889.7,225.6 890.7,211.1 891.6,199.6 892.5,195.2 893.4,199.7 894.3,211.1 895.3,225.7 896.2,240.1 897.1,252.7 898.0,263.1 898.9,271.3 899.8,277.9 900.8,283.1 901.7,287.2 902.6,290.5 903.5,293.2 904.4,295.4 905.4,297.2 906.3,298.7 907.2,300.0 908.1,301.0 909.0,301.9 910.0,302.7 910.9,303.4 911.8,304.0 912.7,304.5 913.6,305.0 914.6,305.4 915.5,305.8 916.4,306.1 917.3,306.4 918.2,306.6 919.1,306.9 920.1,307.1 921.0,307.3 921.9,307.4 922.8,307.6 923.7,307.8 924.7,307.9 925.6,308.0 926.5,308.1 927.4,308.2 928.3,308.3 929.3,308.4 930.2,308.5 931.1,308.6 932.0,308.7 932.9,308.7 933.9,308.8 934.8,308.9 935.7,308.9 936.6,309.0 937.5,309.0 938.4,309.1 939.4,309.1 940.3,309.1 941.2,309.2 942.1,309.2 943.0,309.3 944.0,309.3 944.9,309.3 945.8,309.4 946.7,309.4 947.6,309.4 948.6,309.4 949.5,309.5 950.4,309.5 951.3,309.5 952.2,309.5 953.1,309.6 954.1,309.6 955.0,309.6 955.9,309.6 956.8,309.6 957.7,309.6 958.7,309.7 959.6,309.7 960.5,309.7 961.4,309.7 962.3,309.7 963.3,309.7 964.2,309.7 965.1,309.8 966.0,309.8 966.9,309.8 967.9,309.8 968.8,309.8 969.7,309.8 970.6,309.8 971.5,309.8 972.4,309.8 973.4,309.8 974.3,309.9 975.2,309.9 976.1,309.9 977.0,309.9 978.0,309.9 978.9,309.9 979.8,309.9 980.7,309.9 981.6,309.9 982.6,309.9 983.5,309.9 984.4,309.9 985.3,309.9 986.2,309.9 987.2,310.0 988.1,310.0 989.0,310.0 989.9,310.0 990.8,310.0 991.7,310.0 992.7,310.0 993.6,310.0 994.5,310.0 995.4,310.0 996.3,310.0 997.3,310.0 998.2,310.0 999.1,310.0 1000.0,310.0 1000.9,310.0 1001.9,310.0 1002.8,310.0 1003.7,310.0 1004.6,310.0 1005.5,310.0 1006.5,310.0 1007.4,310.0 1008.3,310.0 1009.2,310.0 1010.1,310.1 1011.0,310.1 1012.0,310.1 1012.9,310.1 1013.8,310.1 1014.7,310.1 1015.6,310.1 1016.6,310.1 1017.5,310.1 1018.4,310.1 1019.3,310.1 1020.2,310.1 1021.2,310.1 1022.1,310.1 1023.0,310.1 1023.9,310.1 1024.8,310.1 1025.8,310.1 1026.7,310.1 1027.6,310.1 1028.5,310.1 1029.4,310.1 1030.3,310.1 1031.3,310.1 1032.2,310.1 1033.1,310.1 1034.0,310.1 1034.9,310.1 1035.9,310.1 1036.8,310.1 1037.7,310.1 1038.6,310.1 1039.5,310.1 1040.5,310.1 1041.4,310.1 1042.3,310.1 1043.2,310.1 1044.1,310.1 1045.0,310.1" fill="none" stroke="#00f" stroke-width="0.8" stroke-dasharray="1 2" style="marker:url(#bd)"/>
</g>
<clipPath id="cpe"><rect x="587.70" y="373.50" width="457.30" height="345.00"/></clipPath>
<g clip-path="url(#cpe)">
<polyline points="587.8,689.8 588.7,689.8 589.6,689.8 590.5,689.7 591.5,689.7 592.4,689.7 593.3,689.7 594.2,689.7 595.1,689.6 596.0,689.6 596.9,689.6 597.9,689.6 598.8,689.6 599.7,689.6 600.6,689.5 601.5,689.5 602.4,689.5 603.3,689.5 604.3,689.5 605.2,689.4 606.1,689.4 607.0,689.4 607.9,689.4 608.8,689.3 609.7,689.3 610.6,689.3 611.6,689.3 612.5,689.3 613.4,689.2 614.3,689.2 615.2,689.2 616.1,689.2 617.0,689.1 618.0,689.1 618.9,689.1 619.8,689.1 620.7,689.0 621.6,689.0 622.5,689.0 623.4,688.9 624.4,688.9 625.3,688.9 626.2,688.9 627.1,688.8 628.0,688.8 628.9,688.8 629.8,688.7 630.8,688.7 631.7,688.7 632.6,688.7 633.5,688.6 634.4,688.6 635.3,688.6 636.2,688.5 637.2,688.5 638.1,688.5 639.0,688.4 639.9,688.4 640.8,688.3 641.7,688.3 642.6,688.3 643.6,688.2 644.5,688.2 645.4,688.2 646.3,688.1 647.2,688.1 648.1,688.0 649.0,688.0 650.0,688.0 650.9,687.9 651.8,687.9 652.7,687.8 653.6,687.8 654.5,687.7 655.4,687.7 656.3,687.6 657.3,687.6 658.2,687.5 659.1,687.5 660.0,687.4 660.9,687.4 661.8,687.3 662.7,687.3 663.7,687.2 664.6,687.2 665.5,687.1 666.4,687.1 667.3,687.0 668.2,686.9 669.1,686.9 670.1,686.8 671.0,686.8 671.9,686.7 672.8,686.6 673.7,686.6 674.6,686.5 675.5,686.4 676.5,686.4 677.4,686.3 678.3,686.2 679.2,686.1 680.1,686.1 681.0,686.0 681.9,685.9 682.9,685.8 683.8,685.8 684.7,685.7 685.6,685.6 686.5,685.5 687.4,685.4 688.3,685.3 689.3,685.2 690.2,685.1 691.1,685.0 692.0,684.9 692.9,684.8 693.8,684.7 694.7,684.6 695.7,684.5 696.6,684.4 697.5,684.3 698.4,684.2 699.3,684.1 700.2,683.9 701.1,683.8 702.0,683.7 703.0,683.6 703.9,683.4 704.8,683.3 705.7,683.2 706.6,683.0 707.5,682.9 708.4,682.7 709.4,682.6 710.3,682.4 711.2,682.3 712.1,682.1 713.0,681.9 713.9,681.8 714.8,681.6 715.8,681.4 716.7,681.2 717.6,681.0 718.5,680.8 719.4,680.6 720.3,680.4 721.2,680.2 722.2,680.0 723.1,679.8 724.0,679.5 724.9,679.3 725.8,679.1 726.7,678.8 727.6,678.5 728.6,678.3 729.5,678.0 730.4,677.7 731.3,677.4 732.2,677.1 733.1,676.8 734.0,676.5 735.0,676.2 735.9,675.9 736.8,675.5 737.7,675.1 738.6,674.8 739.5,674.4 740.4,674.0 741.4,673.6 742.3,673.2 743.2,672.7 744.1,672.3 745.0,671.8 745.9,671.3 746.8,670.8 747.8,670.3 748.7,669.7 749.6,669.2 750.5,668.6 751.4,668.0 752.3,667.4 753.2,666.7 754.1,666.0 755.1,665.3 756.0,664.6 756.9,663.9 757.8,663.1 758.7,662.2 759.6,661.4 760.5,660.5 761.5,659.6 762.4,658.6 763.3,657.6 764.2,656.5 765.1,655.4 766.0,654.2 766.9,653.0 767.9,651.8 768.8,650.4 769.7,649.1 770.6,647.6 771.5,646.1 772.4,644.5 773.3,642.8 774.3,641.0 775.2,639.2 776.1,637.2 777.0,635.2 777.9,633.1 778.8,630.8 779.7,628.4 780.7,625.9 781.6,623.2 782.5,620.5 783.4,617.5 784.3,614.4 785.2,611.1 786.1,607.7 787.1,604.0 788.0,600.2 788.9,596.1 789.8,591.8 790.7,587.3 791.6,582.5 792.5,577.5 793.4,572.2 794.4,566.6 795.3,560.7 796.2,554.6 797.1,548.1 798.0,541.4 798.9,534.4 799.8,527.1 800.8,519.5 801.7,511.7 802.6,503.8 803.5,495.6 804.4,487.4 805.3,479.2 806.2,471.0 807.2,462.9 808.1,455.1 809.0,447.6 809.9,440.6 810.8,434.2 811.7,428.6 812.6,423.7 813.6,419.9 814.5,417.0 815.4,415.3 816.3,414.7 817.2,415.3 818.1,417.0 819.0,419.9 820.0,423.7 820.9,428.6 821.8,434.2 822.7,440.6 823.6,447.6 824.5,455.1 825.4,462.9 826.4,471.0 827.3,479.2 828.2,487.4 829.1,495.6 830.0,503.8 830.9,511.7 831.8,519.5 832.8,527.1 833.7,534.4 834.6,541.4 835.5,548.1 836.4,554.6 837.3,560.7 838.2,566.6 839.1,572.2 840.1,577.5 841.0,582.5 841.9,587.3 842.8,591.8 843.7,596.1 844.6,600.2 845.5,604.0 846.5,607.7 847.4,611.1 848.3,614.4 849.2,617.5 850.1,620.5 851.0,623.2 851.9,625.9 852.9,628.4 853.8,630.8 854.7,633.1 855.6,635.2 856.5,637.2 857.4,639.2 858.3,641.0 859.3,642.8 860.2,644.5 861.1,646.1 862.0,647.6 862.9,649.1 863.8,650.4 864.7,651.8 865.7,653.0 866.6,654.2 867.5,655.4 868.4,656.5 869.3,657.6 870.2,658.6 871.1,659.6 872.1,660.5 873.0,661.4 873.9,662.2 874.8,663.1 875.7,663.9 876.6,664.6 877.5,665.3 878.5,666.0 879.4,666.7 880.3,667.4 881.2,668.0 882.1,668.6 883.0,669.2 883.9,669.7 884.8,670.3 885.8,670.8 886.7,671.3 887.6,671.8 888.5,672.3 889.4,672.7 890.3,673.2 891.2,673.6 892.2,674.0 893.1,674.4 894.0,674.8 894.9,675.1 895.8,675.5 896.7,675.9 897.6,676.2 898.6,676.5 899.5,676.8 900.4,677.1 901.3,677.4 902.2,677.7 903.1,678.0 904.0,678.3 905.0,678.5 905.9,678.8 906.8,679.1 907.7,679.3 908.6,679.5 909.5,679.8 910.4,680.0 911.4,680.2 912.3,680.4 913.2,680.6 914.1,680.8 915.0,681.0 915.9,681.2 916.8,681.4 917.8,681.6 918.7,681.8 919.6,681.9 920.5,682.1 921.4,682.3 922.3,682.4 923.2,682.6 924.2,682.7 925.1,682.9 926.0,683.0 926.9,683.2 927.8,683.3 928.7,683.4 929.6,683.6 930.5,683.7 931.5,683.8 932.4,683.9 933.3,684.1 934.2,684.2 935.1,684.3 936.0,684.4 936.9,684.5 937.9,684.6 938.8,684.7 939.7,684.8 940.6,684.9 941.5,685.0 942.4,685.1 943.3,685.2 944.3,685.3 945.2,685.4 946.1,685.5 947.0,685.6 947.9,685.7 948.8,685.8 949.7,685.8 950.7,685.9 951.6,686.0 952.5,686.1 953.4,686.1 954.3,686.2 955.2,686.3 956.1,686.4 957.1,686.4 958.0,686.5 958.9,686.6 959.8,686.6 960.7,686.7 961.6,686.8 962.5,686.8 963.5,686.9 964.4,686.9 965.3,687.0 966.2,687.1 967.1,687.1 968.0,687.2 968.9,687.2 969.9,687.3 970.8,687.3 971.7,687.4 972.6,687.4 973.5,687.5 974.4,687.5 975.3,687.6 976.2,687.6 977.2,687.7 978.1,687.7 979.0,687.8 979.9,687.8 980.8,687.9 981.7,687.9 982.6,688.0 983.6,688.0 984.5,688.0 985.4,688.1 986.3,688.1 987.2,688.2 988.1,688.2 989.0,688.2 990.0,688.3 990.9,688.3 991.8,688.3 992.7,688.4 993.6,688.4 994.5,688.5 995.4,688.5 996.4,688.5 997.3,688.6 998.2,688.6 999.1,688.6 1000.0,688.7 1000.9,688.7 1001.8,688.7 1002.8,688.7 1003.7,688.8 1004.6,688.8 1005.5,688.8 1006.4,688.9 1007.3,688.9 1008.2,688.9 1009.2,688.9 1010.1,689.0 1011.0,689.0 1011.9,689.0 1012.8,689.1 1013.7,689.1 1014.6,689.1 1015.6,689.1 1016.5,689.2 1017.4,689.2 1018.3,689.2 1019.2,689.2 1020.1,689.3 1021.0,689.3 1021.9,689.3 1022.9,689.3 1023.8,689.3 1024.7,689.4 1025.6,689.4 1026.5,689.4 1027.4,689.4 1028.3,689.5 1029.3,689.5 1030.2,689.5 1031.1,689.5 1032.0,689.5 1032.9,689.6 1033.8,689.6 1034.7,689.6 1035.7,689.6 1036.6,689.6 1037.5,689.6 1038.4,689.7 1039.3,689.7 1040.2,689.7 1041.1,689.7 1042.1,689.7 1043.0,689.8 1043.9,689.8 1044.8,689.8" fill="none" stroke="#000" stroke-width="0.8" style="marker:url(#ke)"/>
<polyline points="587.8,689.8 588.7,689.7 589.6,689.7 590.5,689.7 591.5,689.7 592.4,689.7 593.3,689.6 594.2,689.6 595.1,689.6 596.0,689.6 596.9,689.6 597.9,689.6 598.8,689.5 599.7,689.5 600.6,689.5 601.5,689.5 602.4,689.4 603.3,689.4 604.3,689.4 605.2,689.4 606.1,689.4 607.0,689.3 607.9,689.3 608.8,689.3 609.7,689.3 610.6,689.2 611.6,689.2 612.5,689.2 613.4,689.2 614.3,689.1 615.2,689.1 616.1,689.1 617.0,689.1 618.0,689.0 618.9,689.0 619.8,689.0 620.7,689.0 621.6,688.9 622.5,688.9 623.4,688.9 624.4,688.8 625.3,688.8 626.2,688.8 627.1,688.8 628.0,688.7 628.9,688.7 629.8,688.7 630.8,688.6 631.7,688.6 632.6,688.6 633.5,688.5 634.4,688.5 635.3,688.5 636.2,688.4 637.2,688.4 638.1,688.3 639.0,688.3 639.9,688.3 640.8,688.2 641.7,688.2 642.6,688.1 643.6,688.1 644.5,688.1 645.4,688.0 646.3,688.0 647.2,687.9 648.1,687.9 649.0,687.8 650.0,687.8 650.9,687.7 651.8,687.7 652.7,687.7 653.6,687.6 654.5,687.6 655.4,687.5 656.3,687.4 657.3,687.4 658.2,687.3 659.1,687.3 660.0,687.2 660.9,687.2 661.8,687.1 662.7,687.1 663.7,687.0 664.6,686.9 665.5,686.9 666.4,686.8 667.3,686.7 668.2,686.7 669.1,686.6 670.1,686.5 671.0,686.5 671.9,686.4 672.8,686.3 673.7,686.2 674.6,686.2 675.5,686.1 676.5,686.0 677.4,685.9 678.3,685.8 679.2,685.8 680.1,685.7 681.0,685.6 681.9,685.5 682.9,685.4 683.8,685.3 684.7,685.2 685.6,685.1 686.5,685.0 687.4,684.9 688.3,684.8 689.3,684.7 690.2,684.6 691.1,684.4 692.0,684.3 692.9,684.2 693.8,684.1 694.7,684.0 695.7,683.8 696.6,683.7 697.5,683.6 698.4,683.4 699.3,683.3 700.2,683.1 701.1,683.0 702.0,682.8 703.0,682.7 703.9,682.5 704.8,682.3 705.7,682.2 706.6,682.0 707.5,681.8 708.4,681.6 709.4,681.4 710.3,681.2 711.2,681.0 712.1,680.8 713.0,680.6 713.9,680.4 714.8,680.2 715.8,679.9 716.7,679.7 717.6,679.5 718.5,679.2 719.4,678.9 720.3,678.7 721.2,678.4 722.2,678.1 723.1,677.8 724.0,677.5 724.9,677.2 725.8,676.8 726.7,676.5 727.6,676.1 728.6,675.8 729.5,675.4 730.4,675.0 731.3,674.6 732.2,674.2 733.1,673.7 734.0,673.3 735.0,672.8 735.9,672.3 736.8,671.8 737.7,671.3 738.6,670.8 739.5,670.2 740.4,669.6 741.4,669.0 742.3,668.4 743.2,667.7 744.1,667.0 745.0,666.3 745.9,665.5 746.8,664.8 747.8,663.9 748.7,663.1 749.6,662.2 750.5,661.3 751.4,660.3 752.3,659.3 753.2,658.2 754.1,657.1 755.1,656.0 756.0,654.8 756.9,653.5 757.8,652.2 758.7,650.8 759.6,649.4 760.5,647.9 761.5,646.3 762.4,644.6 763.3,642.9 764.2,641.1 765.1,639.2 766.0,637.2 766.9,635.1 767.9,633.0 768.8,630.7 769.7,628.4 770.6,626.0 771.5,623.5 772.4,620.9 773.3,618.2 774.3,615.5 775.2,612.6 776.1,609.7 777.0,606.8 777.9,603.8 778.8,600.8 779.7,597.8 780.7,594.8 781.6,591.9 782.5,589.0 783.4,586.2 784.3,583.6 785.2,581.1 786.1,578.8 787.1,576.7 788.0,574.8 788.9,573.2 789.8,571.9 790.7,570.9 791.6,570.2 792.5,569.8 793.4,569.7 794.4,569.9 795.3,570.3 796.2,571.1 797.1,572.0 798.0,573.2 798.9,574.5 799.8,575.9 800.8,577.5 801.7,579.1 802.6,580.8 803.5,582.4 804.4,584.1 805.3,585.7 806.2,587.3 807.2,588.7 808.1,590.1 809.0,591.4 809.9,592.5 810.8,593.5 811.7,594.4 812.6,595.1 813.6,595.7 814.5,596.1 815.4,596.3 816.3,596.4 817.2,596.3 818.1,596.1 819.0,595.7 820.0,595.1 820.9,594.4 821.8,593.5 822.7,592.5 823.6,591.4 824.5,590.1 825.4,588.7 826.4,587.3 827.3,585.7 828.2,584.1 829.1,582.4 830.0,580.8 830.9,579.1 831.8,577.5 832.8,575.9 833.7,574.5 834.6,573.2 835.5,572.0 836.4,571.1 837.3,570.3 838.2,569.9 839.1,569.7 840.1,569.8 841.0,570.2 841.9,570.9 842.8,571.9 843.7,573.2 844.6,574.8 845.5,576.7 846.5,578.8 847.4,581.1 848.3,583.6 849.2,586.2 850.1,589.0 851.0,591.9 851.9,594.8 852.9,597.8 853.8,600.8 854.7,603.8 855.6,606.8 856.5,609.7 857.4,612.6 858.3,615.5 859.3,618.2 860.2,620.9 861.1,623.5 862.0,626.0 862.9,628.4 863.8,630.7 864.7,633.0 865.7,635.1 866.6,637.2 867.5,639.2 868.4,641.1 869.3,642.9 870.2,644.6 871.1,646.3 872.1,647.9 873.0,649.4 873.9,650.8 874.8,652.2 875.7,653.5 876.6,654.8 877.5,656.0 878.5,657.1 879.4,658.2 880.3,659.3 881.2,660.3 882.1,661.3 883.0,662.2 883.9,663.1 884.8,663.9 885.8,664.8 886.7,665.5 887.6,666.3 888.5,667.0 889.4,667.7 890.3,668.4 891.2,669.0 892.2,669.6 893.1,670.2 894.0,670.8 894.9,671.3 895.8,671.8 896.7,672.3 897.6,672.8 898.6,673.3 899.5,673.7 900.4,674.2 901.3,674.6 902.2,675.0 903.1,675.4 904.0,675.8 905.0,676.1 905.9,676.5 906.8,676.8 907.7,677.2 908.6,677.5 909.5,677.8 910.4,678.1 911.4,678.4 912.3,678.7 913.2,678.9 914.1,679.2 915.0,679.5 915.9,679.7 916.8,679.9 917.8,680.2 918.7,680.4 919.6,680.6 920.5,680.8 921.4,681.0 922.3,681.2 923.2,681.4 924.2,681.6 925.1,681.8 926.0,682.0 926.9,682.2 927.8,682.3 928.7,682.5 929.6,682.7 930.5,682.8 931.5,683.0 932.4,683.1 933.3,683.3 934.2,683.4 935.1,683.6 936.0,683.7 936.9,683.8 937.9,684.0 938.8,684.1 939.7,684.2 940.6,684.3 941.5,684.4 942.4,684.6 943.3,684.7 944.3,684.8 945.2,684.9 946.1,685.0 947.0,685.1 947.9,685.2 948.8,685.3 949.7,685.4 950.7,685.5 951.6,685.6 952.5,685.7 953.4,685.8 954.3,685.8 955.2,685.9 956.1,686.0 957.1,686.1 958.0,686.2 958.9,686.2 959.8,686.3 960.7,686.4 961.6,686.5 962.5,686.5 963.5,686.6 964.4,686.7 965.3,686.7 966.2,686.8 967.1,686.9 968.0,686.9 968.9,687.0 969.9,687.1 970.8,687.1 971.7,687.2 972.6,687.2 973.5,687.3 974.4,687.3 975.3,687.4 976.2,687.4 977.2,687.5 978.1,687.6 979.0,687.6 979.9,687.7 980.8,687.7 981.7,687.7 982.6,687.8 983.6,687.8 984.5,687.9 985.4,687.9 986.3,688.0 987.2,688.0 988.1,688.1 989.0,688.1 990.0,688.1 990.9,688.2 991.8,688.2 992.7,688.3 993.6,688.3 994.5,688.3 995.4,688.4 996.4,688.4 997.3,688.5 998.2,688.5 999.1,688.5 1000.0,688.6 1000.9,688.6 1001.8,688.6 1002.8,688.7 1003.7,688.7 1004.6,688.7 1005.5,688.8 1006.4,688.8 1007.3,688.8 1008.2,688.8 1009.2,688.9 1010.1,688.9 1011.0,688.9 1011.9,689.0 1012.8,689.0 1013.7,689.0 1014.6,689.0 1015.6,689.1 1016.5,689.1 1017.4,689.1 1018.3,689.1 1019.2,689.2 1020.1,689.2 1021.0,689.2 1021.9,689.2 1022.9,689.3 1023.8,689.3 1024.7,689.3 1025.6,689.3 1026.5,689.4 1027.4,689.4 1028.3,689.4 1029.3,689.4 1030.2,689.4 1031.1,689.5 1032.0,689.5 1032.9,689.5 1033.8,689.5 1034.7,689.6 1035.7,689.6 1036.6,689.6 1037.5,689.6 1038.4,689.6 1039.3,689.6 1040.2,689.7 1041.1,689.7 1042.1,689.7 1043.0,689.7 1043.9,689.7 1044.8,689.8" fill="none" stroke="#f00" stroke-width="0.8" stroke-dasharray="3 2" style="marker:url(#re)"/>
<polyline points="587.8,688.9 588.7,688.9 589.6,688.9 590.5,688.9 591.5,688.8 592.4,688.8 593.3,688.8 594.2,688.7 595.1,688.7 596.0,688.7 596.9,688.7 597.9,688.6 598.8,688.6 599.7,688.6 600.6,688.5 601.5,688.5 602.4,688.5 603.3,688.5 604.3,688.4 605.2,688.4 606.1,688.4 607.0,688.3 607.9,688.3 608.8,688.2 609.7,688.2 610.6,688.2 611.6,688.1 612.5,688.1 613.4,688.1 614.3,688.0 615.2,688.0 616.1,687.9 617.0,687.9 618.0,687.8 618.9,687.8 619.8,687.8 620.7,687.7 621.6,687.7 622.5,687.6 623.4,687.6 624.4,687.5 625.3,687.5 626.2,687.4 627.1,687.4 628.0,687.3 628.9,687.2 629.8,687.2 630.8,687.1 631.7,687.1 632.6,687.0 633.5,686.9 634.4,686.9 635.3,686.8 636.2,686.7 637.2,686.7 638.1,686.6 639.0,686.5 639.9,686.4 640.8,686.4 641.7,686.3 642.6,686.2 643.6,686.1 644.5,686.0 645.4,685.9 646.3,685.9 647.2,685.8 648.1,685.7 649.0,685.6 650.0,685.5 650.9,685.4 651.8,685.3 652.7,685.2 653.6,685.0 654.5,684.9 655.4,684.8 656.3,684.7 657.3,684.6 658.2,684.4 659.1,684.3 660.0,684.2 660.9,684.0 661.8,683.9 662.7,683.7 663.7,683.6 664.6,683.4 665.5,683.2 666.4,683.1 667.3,682.9 668.2,682.7 669.1,682.5 670.1,682.3 671.0,682.1 671.9,681.9 672.8,681.7 673.7,681.4 674.6,681.2 675.5,681.0 676.5,680.7 677.4,680.5 678.3,680.2 679.2,679.9 680.1,679.6 681.0,679.3 681.9,679.0 682.9,678.7 683.8,678.3 684.7,678.0 685.6,677.6 686.5,677.2 687.4,676.8 688.3,676.4 689.3,675.9 690.2,675.5 691.1,675.0 692.0,674.5 692.9,674.0 693.8,673.4 694.7,672.8 695.7,672.2 696.6,671.6 697.5,670.9 698.4,670.3 699.3,669.5 700.2,668.8 701.1,668.0 702.0,667.1 703.0,666.2 703.9,665.3 704.8,664.3 705.7,663.3 706.6,662.2 707.5,661.1 708.4,659.9 709.4,658.6 710.3,657.3 711.2,655.9 712.1,654.5 713.0,652.9 713.9,651.3 714.8,649.6 715.8,647.8 716.7,646.0 717.6,644.0 718.5,642.0 719.4,639.8 720.3,637.6 721.2,635.3 722.2,632.9 723.1,630.4 724.0,627.8 724.9,625.2 725.8,622.5 726.7,619.8 727.6,617.1 728.6,614.4 729.5,611.7 730.4,609.1 731.3,606.6 732.2,604.2 733.1,601.9 734.0,599.9 735.0,598.1 735.9,596.6 736.8,595.4 737.7,594.5 738.6,593.9 739.5,593.7 740.4,593.9 741.4,594.4 742.3,595.2 743.2,596.4 744.1,597.9 745.0,599.7 745.9,601.7 746.8,603.9 747.8,606.2 748.7,608.7 749.6,611.3 750.5,613.9 751.4,616.6 752.3,619.2 753.2,621.9 754.1,624.5 755.1,627.1 756.0,629.6 756.9,632.1 757.8,634.4 758.7,636.7 759.6,638.9 760.5,641.0 761.5,643.0 762.4,644.9 763.3,646.7 764.2,648.4 765.1,650.1 766.0,651.7 766.9,653.2 767.9,654.6 768.8,655.9 769.7,657.2 770.6,658.4 771.5,659.5 772.4,660.6 773.3,661.6 774.3,662.6 775.2,663.5 776.1,664.4 777.0,665.2 777.9,666.0 778.8,666.8 779.7,667.5 780.7,668.1 781.6,668.8 782.5,669.3 783.4,669.9 784.3,670.5 785.2,671.0 786.1,671.4 787.1,671.9 788.0,672.3 788.9,672.7 789.8,673.1 790.7,673.5 791.6,673.8 792.5,674.2 793.4,674.5 794.4,674.8 795.3,675.0 796.2,675.3 797.1,675.5 798.0,675.8 798.9,676.0 799.8,676.2 800.8,676.4 801.7,676.5 802.6,676.7 803.5,676.9 804.4,677.0 805.3,677.1 806.2,677.2 807.2,677.3 808.1,677.4 809.0,677.5 809.9,677.6 810.8,677.7 811.7,677.7 812.6,677.8 813.6,677.8 814.5,677.8 815.4,677.8 816.3,677.8 817.2,677.8 818.1,677.8 819.0,677.8 820.0,677.8 820.9,677.7 821.8,677.7 822.7,677.6 823.6,677.5 824.5,677.4 825.4,677.3 826.4,677.2 827.3,677.1 828.2,677.0 829.1,676.9 830.0,676.7 830.9,676.5 831.8,676.4 832.8,676.2 833.7,676.0 834.6,675.8 835.5,675.5 836.4,675.3 837.3,675.0 838.2,674.8 839.1,674.5 840.1,674.2 841.0,673.8 841.9,673.5 842.8,673.1 843.7,672.7 844.6,672.3 845.5,671.9 846.5,671.4 847.4,671.0 848.3,670.5 849.2,669.9 850.1,669.3 851.0,668.8 851.9,668.1 852.9,667.5 853.8,666.8 854.7,666.0 855.6,665.2 856.5,664.4 857.4,663.5 858.3,662.6 859.3,661.6 860.2,660.6 861.1,659.5 862.0,658.4 862.9,657.2 863.8,655.9 864.7,654.6 865.7,653.2 866.6,651.7 867.5,650.1 868.4,648.4 869.3,646.7 870.2,644.9 871.1,643.0 872.1,641.0 873.0,638.9 873.9,636.7 874.8,634.4 875.7,632.1 876.6,629.6 877.5,627.1 878.5,624.5 879.4,621.9 880.3,619.2 881.2,616.6 882.1,613.9 883.0,611.3 883.9,608.7 884.8,606.2 885.8,603.9 886.7,601.7 887.6,599.7 888.5,597.9 889.4,596.4 890.3,595.2 891.2,594.4 892.2,593.9 893.1,593.7 894.0,593.9 894.9,594.5 895.8,595.4 896.7,596.6 897.6,598.1 898.6,599.9 899.5,601.9 900.4,604.2 901.3,606.6 902.2,609.1 903.1,611.7 904.0,614.4 905.0,617.1 905.9,619.8 906.8,622.5 907.7,625.2 908.6,627.8 909.5,630.4 910.4,632.9 911.4,635.3 912.3,637.6 913.2,639.8 914.1,642.0 915.0,644.0 915.9,646.0 916.8,647.8 917.8,649.6 918.7,651.3 919.6,652.9 920.5,654.5 921.4,655.9 922.3,657.3 923.2,658.6 924.2,659.9 925.1,661.1 926.0,662.2 926.9,663.3 927.8,664.3 928.7,665.3 929.6,666.2 930.5,667.1 931.5,668.0 932.4,668.8 933.3,669.5 934.2,670.3 935.1,670.9 936.0,671.6 936.9,672.2 937.9,672.8 938.8,673.4 939.7,674.0 940.6,674.5 941.5,675.0 942.4,675.5 943.3,675.9 944.3,676.4 945.2,676.8 946.1,677.2 947.0,677.6 947.9,678.0 948.8,678.3 949.7,678.7 950.7,679.0 951.6,679.3 952.5,679.6 953.4,679.9 954.3,680.2 955.2,680.5 956.1,680.7 957.1,681.0 958.0,681.2 958.9,681.4 959.8,681.7 960.7,681.9 961.6,682.1 962.5,682.3 963.5,682.5 964.4,682.7 965.3,682.9 966.2,683.1 967.1,683.2 968.0,683.4 968.9,683.6 969.9,683.7 970.8,683.9 971.7,684.0 972.6,684.2 973.5,684.3 974.4,684.4 975.3,684.6 976.2,684.7 977.2,684.8 978.1,684.9 979.0,685.0 979.9,685.2 980.8,685.3 981.7,685.4 982.6,685.5 983.6,685.6 984.5,685.7 985.4,685.8 986.3,685.9 987.2,685.9 988.1,686.0 989.0,686.1 990.0,686.2 990.9,686.3 991.8,686.4 992.7,686.4 993.6,686.5 994.5,686.6 995.4,686.7 996.4,686.7 997.3,686.8 998.2,686.9 999.1,686.9 1000.0,687.0 1000.9,687.1 1001.8,687.1 1002.8,687.2 1003.7,687.2 1004.6,687.3 1005.5,687.4 1006.4,687.4 1007.3,687.5 1008.2,687.5 1009.2,687.6 1010.1,687.6 1011.0,687.7 1011.9,687.7 1012.8,687.8 1013.7,687.8 1014.6,687.8 1015.6,687.9 1016.5,687.9 1017.4,688.0 1018.3,688.0 1019.2,688.1 1020.1,688.1 1021.0,688.1 1021.9,688.2 1022.9,688.2 1023.8,688.2 1024.7,688.3 1025.6,688.3 1026.5,688.4 1027.4,688.4 1028.3,688.4 1029.3,688.5 1030.2,688.5 1031.1,688.5 1032.0,688.5 1032.9,688.6 1033.8,688.6 1034.7,688.6 1035.7,688.7 1036.6,688.7 1037.5,688.7 1038.4,688.7 1039.3,688.8 1040.2,688.8 1041.1,688.8 1042.1,688.9 1043.0,688.9 1043.9,688.9 1044.8,688.9" fill="none" stroke="#00f" stroke-width="0.8" stroke-dasharray="1 2" style="marker:url(#be)"/>
</g>
<clipPath id="cpf"><rect x="589.00" y="737.80" width="456.60" height="343.75"/></clipPath>
<g clip-path="url(#cpf)">
<polyline points="584.2,1052.9 585.1,1052.8 586.1,1052.8 587.0,1052.7 587.9,1052.6 588.9,1052.6 589.8,1052.5 590.7,1052.4 591.7,1052.3 592.6,1052.2 593.5,1052.2 594.5,1052.1 595.4,1052.0 596.3,1051.9 597.2,1051.8 598.2,1051.7 599.1,1051.6 600.0,1051.5 601.0,1051.4 601.9,1051.4 602.8,1051.3 603.8,1051.2 604.7,1051.1 605.6,1051.0 606.6,1050.9 607.5,1050.8 608.4,1050.6 609.4,1050.5 610.3,1050.4 611.2,1050.3 612.2,1050.2 613.1,1050.1 614.0,1050.0 615.0,1049.9 615.9,1049.8 616.8,1049.6 617.8,1049.5 618.7,1049.4 619.6,1049.3 620.5,1049.2 621.5,1049.0 622.4,1048.9 623.3,1048.8 624.3,1048.7 625.2,1048.5 626.1,1048.4 627.1,1048.3 628.0,1048.2 628.9,1048.0 629.9,1047.9 630.8,1047.7 631.7,1047.6 632.7,1047.5 633.6,1047.3 634.5,1047.2 635.5,1047.0 636.4,1046.9 637.3,1046.7 638.3,1046.6 639.2,1046.4 640.1,1046.2 641.1,1046.1 642.0,1045.9 642.9,1045.8 643.8,1045.6 644.8,1045.4 645.7,1045.2 646.6,1045.1 647.6,1044.9 648.5,1044.7 649.4,1044.5 650.4,1044.3 651.3,1044.1 652.2,1043.9 653.2,1043.7 654.1,1043.5 655.0,1043.3 656.0,1043.1 656.9,1042.9 657.8,1042.6 658.8,1042.4 659.7,1042.2 660.6,1041.9 661.6,1041.7 662.5,1041.4 663.4,1041.2 664.4,1040.9 665.3,1040.7 666.2,1040.4 667.1,1040.2 668.1,1039.9 669.0,1039.6 669.9,1039.3 670.9,1039.1 671.8,1038.8 672.7,1038.5 673.7,1038.2 674.6,1037.9 675.5,1037.6 676.5,1037.3 677.4,1037.0 678.3,1036.7 679.3,1036.3 680.2,1036.0 681.1,1035.7 682.1,1035.4 683.0,1035.0 683.9,1034.7 684.9,1034.4 685.8,1034.0 686.7,1033.6 687.7,1033.3 688.6,1032.9 689.5,1032.5 690.4,1032.1 691.4,1031.7 692.3,1031.3 693.2,1030.9 694.2,1030.5 695.1,1030.0 696.0,1029.6 697.0,1029.1 697.9,1028.6 698.8,1028.1 699.8,1027.6 700.7,1027.1 701.6,1026.6 702.6,1026.1 703.5,1025.6 704.4,1025.0 705.4,1024.5 706.3,1023.9 707.2,1023.3 708.2,1022.7 709.1,1022.1 710.0,1021.4 711.0,1020.8 711.9,1020.1 712.8,1019.4 713.7,1018.7 714.7,1018.0 715.6,1017.3 716.5,1016.5 717.5,1015.7 718.4,1014.9 719.3,1014.1 720.3,1013.3 721.2,1012.5 722.1,1011.6 723.1,1010.8 724.0,1009.9 724.9,1009.0 725.9,1008.1 726.8,1007.2 727.7,1006.2 728.7,1005.3 729.6,1004.3 730.5,1003.3 731.5,1002.3 732.4,1001.3 733.3,1000.2 734.3,999.1 735.2,998.0 736.1,996.8 737.0,995.6 738.0,994.4 738.9,993.1 739.8,991.8 740.8,990.5 741.7,989.2 742.6,987.8 743.6,986.4 744.5,985.0 745.4,983.5 746.4,982.0 747.3,980.5 748.2,978.9 749.2,977.3 750.1,975.6 751.0,973.9 752.0,972.1 752.9,970.3 753.8,968.5 754.8,966.6 755.7,964.8 756.6,962.8 757.6,960.9 758.5,958.9 759.4,956.9 760.3,954.8 761.3,952.7 762.2,950.6 763.1,948.4 764.1,946.1 765.0,943.8 765.9,941.3 766.9,938.7 767.8,936.1 768.7,933.3 769.7,930.5 770.6,927.8 771.5,925.1 772.5,922.6 773.4,920.2 774.3,917.9 775.3,915.5 776.2,913.0 777.1,910.0 778.1,906.4 779.0,902.1 779.9,897.3 780.9,892.2 781.8,886.8 782.7,881.4 783.6,876.1 784.6,870.9 785.5,865.9 786.4,861.1 787.4,856.6 788.3,852.3 789.2,848.1 790.2,844.1 791.1,840.0 792.0,835.9 793.0,831.8 793.9,827.6 794.8,823.4 795.8,819.2 796.7,815.1 797.6,811.0 798.6,807.1 799.5,803.2 800.4,799.5 801.4,795.8 802.3,792.3 803.2,788.9 804.2,785.6 805.1,782.5 806.0,779.6 806.9,776.8 807.9,774.1 808.8,771.6 809.7,769.2 810.7,767.0 811.6,765.1 812.5,763.6 813.5,762.4 814.4,761.5 815.3,760.9 816.3,760.6 817.2,760.6 818.1,760.7 819.1,761.2 820.0,761.8 820.9,762.9 821.9,764.2 822.8,765.9 823.7,767.9 824.7,770.2 825.6,772.7 826.5,775.3 827.5,778.0 828.4,780.8 829.3,783.8 830.2,787.0 831.2,790.3 832.1,793.8 833.0,797.4 834.0,801.1 834.9,804.9 835.8,808.8 836.8,812.8 837.7,816.9 838.6,821.0 839.6,825.2 840.5,829.4 841.4,833.6 842.4,837.7 843.3,841.7 844.2,845.8 845.2,849.9 846.1,854.1 847.0,858.5 848.0,863.1 848.9,868.0 849.8,873.1 850.8,878.4 851.7,883.7 852.6,889.1 853.5,894.4 854.5,899.4 855.4,904.0 856.3,908.0 857.3,911.3 858.2,914.1 859.1,916.5 860.1,918.8 861.0,921.2 861.9,923.6 862.9,926.2 863.8,929.0 864.7,931.7 865.7,934.5 866.6,937.2 867.5,939.9 868.5,942.4 869.4,944.8 870.3,947.1 871.3,949.3 872.2,951.5 873.1,953.7 874.1,955.7 875.0,957.8 875.9,959.8 876.8,961.7 877.8,963.7 878.7,965.6 879.6,967.4 880.6,969.3 881.5,971.1 882.4,972.9 883.4,974.6 884.3,976.3 885.2,978.0 886.2,979.6 887.1,981.2 888.0,982.7 889.0,984.1 889.9,985.6 890.8,987.0 891.8,988.4 892.7,989.7 893.6,991.1 894.6,992.4 895.5,993.6 896.4,994.9 897.4,996.1 898.3,997.3 899.2,998.5 900.1,999.6 901.1,1000.7 902.0,1001.7 902.9,1002.8 903.9,1003.8 904.8,1004.7 905.7,1005.7 906.7,1006.6 907.6,1007.6 908.5,1008.5 909.5,1009.4 910.4,1010.3 911.3,1011.1 912.3,1012.0 913.2,1012.8 914.1,1013.7 915.1,1014.5 916.0,1015.3 916.9,1016.1 917.9,1016.8 918.8,1017.6 919.7,1018.3 920.7,1019.0 921.6,1019.7 922.5,1020.4 923.4,1021.1 924.4,1021.7 925.3,1022.3 926.2,1023.0 927.2,1023.6 928.1,1024.1 929.0,1024.7 930.0,1025.3 930.9,1025.8 931.8,1026.3 932.8,1026.9 933.7,1027.4 934.6,1027.9 935.6,1028.3 936.5,1028.8 937.4,1029.3 938.4,1029.8 939.3,1030.2 940.2,1030.6 941.2,1031.1 942.1,1031.5 943.0,1031.9 944.0,1032.3 944.9,1032.7 945.8,1033.1 946.7,1033.4 947.7,1033.8 948.6,1034.2 949.5,1034.5 950.5,1034.8 951.4,1035.2 952.3,1035.5 953.3,1035.8 954.2,1036.2 955.1,1036.5 956.1,1036.8 957.0,1037.1 957.9,1037.4 958.9,1037.7 959.8,1038.0 960.7,1038.3 961.7,1038.6 962.6,1038.9 963.5,1039.2 964.5,1039.5 965.4,1039.7 966.3,1040.0 967.3,1040.3 968.2,1040.5 969.1,1040.8 970.0,1041.0 971.0,1041.3 971.9,1041.5 972.8,1041.8 973.8,1042.0 974.7,1042.3 975.6,1042.5 976.6,1042.7 977.5,1042.9 978.4,1043.2 979.4,1043.4 980.3,1043.6 981.2,1043.8 982.2,1044.0 983.1,1044.2 984.0,1044.4 985.0,1044.6 985.9,1044.8 986.8,1045.0 987.8,1045.1 988.7,1045.3 989.6,1045.5 990.6,1045.7 991.5,1045.8 992.4,1046.0 993.3,1046.2 994.3,1046.3 995.2,1046.5 996.1,1046.6 997.1,1046.8 998.0,1046.9 998.9,1047.1 999.9,1047.2 1000.8,1047.4 1001.7,1047.5 1002.7,1047.7 1003.6,1047.8 1004.5,1047.9 1005.5,1048.1 1006.4,1048.2 1007.3,1048.3 1008.3,1048.5 1009.2,1048.6 1010.1,1048.7 1011.1,1048.9 1012.0,1049.0 1012.9,1049.1 1013.9,1049.2 1014.8,1049.3 1015.7,1049.5 1016.6,1049.6 1017.6,1049.7 1018.5,1049.8 1019.4,1049.9 1020.4,1050.0 1021.3,1050.2 1022.2,1050.3 1023.2,1050.4 1024.1,1050.5 1025.0,1050.6 1026.0,1050.7 1026.9,1050.8 1027.8,1050.9 1028.8,1051.0 1029.7,1051.1 1030.6,1051.2 1031.6,1051.3 1032.5,1051.4 1033.4,1051.5 1034.4,1051.6 1035.3,1051.7 1036.2,1051.8 1037.2,1051.8 1038.1,1051.9 1039.0,1052.0 1039.9,1052.1 1040.9,1052.2 1041.8,1052.3 1042.7,1052.4 1043.7,1052.4 1044.6,1052.5 1045.5,1052.6 1046.5,1052.7 1047.4,1052.7 1048.3,1052.8 1049.3,1052.9 1050.2,1052.9" fill="none" stroke="#000" stroke-width="0.8" style="marker:url(#kf)"/>
<polyline points="584.2,1052.3 585.1,1052.3 586.1,1052.2 587.0,1052.2 587.9,1052.1 588.9,1052.0 589.8,1052.0 590.7,1051.9 591.7,1051.8 592.6,1051.8 593.5,1051.7 594.5,1051.6 595.4,1051.6 596.3,1051.5 597.2,1051.4 598.2,1051.3 599.1,1051.2 600.0,1051.2 601.0,1051.1 601.9,1051.0 602.8,1050.9 603.8,1050.8 604.7,1050.8 605.6,1050.7 606.6,1050.6 607.5,1050.5 608.4,1050.4 609.4,1050.3 610.3,1050.2 611.2,1050.1 612.2,1050.0 613.1,1049.9 614.0,1049.8 615.0,1049.7 615.9,1049.6 616.8,1049.5 617.8,1049.4 618.7,1049.3 619.6,1049.1 620.5,1049.0 621.5,1048.9 622.4,1048.8 623.3,1048.7 624.3,1048.6 625.2,1048.4 626.1,1048.3 627.1,1048.2 628.0,1048.0 628.9,1047.9 629.9,1047.8 630.8,1047.6 631.7,1047.5 632.7,1047.4 633.6,1047.2 634.5,1047.1 635.5,1046.9 636.4,1046.8 637.3,1046.6 638.3,1046.5 639.2,1046.3 640.1,1046.1 641.1,1046.0 642.0,1045.8 642.9,1045.6 643.8,1045.5 644.8,1045.3 645.7,1045.1 646.6,1044.9 647.6,1044.8 648.5,1044.6 649.4,1044.4 650.4,1044.2 651.3,1044.0 652.2,1043.8 653.2,1043.6 654.1,1043.3 655.0,1043.1 656.0,1042.9 656.9,1042.7 657.8,1042.4 658.8,1042.2 659.7,1041.9 660.6,1041.7 661.6,1041.4 662.5,1041.2 663.4,1040.9 664.4,1040.6 665.3,1040.4 666.2,1040.1 667.1,1039.8 668.1,1039.5 669.0,1039.2 669.9,1038.9 670.9,1038.6 671.8,1038.3 672.7,1038.0 673.7,1037.7 674.6,1037.4 675.5,1037.1 676.5,1036.7 677.4,1036.4 678.3,1036.1 679.3,1035.7 680.2,1035.4 681.1,1035.1 682.1,1034.7 683.0,1034.3 683.9,1034.0 684.9,1033.6 685.8,1033.2 686.7,1032.8 687.7,1032.4 688.6,1032.0 689.5,1031.6 690.4,1031.2 691.4,1030.7 692.3,1030.3 693.2,1029.8 694.2,1029.3 695.1,1028.8 696.0,1028.3 697.0,1027.8 697.9,1027.3 698.8,1026.8 699.8,1026.2 700.7,1025.7 701.6,1025.1 702.6,1024.5 703.5,1023.9 704.4,1023.3 705.4,1022.7 706.3,1022.1 707.2,1021.4 708.2,1020.7 709.1,1020.0 710.0,1019.3 711.0,1018.6 711.9,1017.9 712.8,1017.1 713.7,1016.3 714.7,1015.5 715.6,1014.7 716.5,1013.9 717.5,1013.0 718.4,1012.2 719.3,1011.3 720.3,1010.4 721.2,1009.5 722.1,1008.6 723.1,1007.6 724.0,1006.7 724.9,1005.7 725.9,1004.7 726.8,1003.7 727.7,1002.6 728.7,1001.6 729.6,1000.5 730.5,999.3 731.5,998.2 732.4,997.0 733.3,995.7 734.3,994.5 735.2,993.2 736.1,991.9 737.0,990.5 738.0,989.1 738.9,987.7 739.8,986.3 740.8,984.8 741.7,983.3 742.6,981.7 743.6,980.1 744.5,978.5 745.4,976.8 746.4,975.1 747.3,973.4 748.2,971.6 749.2,969.7 750.1,967.9 751.0,966.0 752.0,964.1 752.9,962.2 753.8,960.3 754.8,958.3 755.7,956.3 756.6,954.3 757.6,952.2 758.5,950.1 759.4,947.9 760.3,945.7 761.3,943.4 762.2,941.0 763.1,938.6 764.1,936.1 765.0,933.6 765.9,931.0 766.9,928.5 767.8,926.1 768.7,923.7 769.7,921.4 770.6,919.2 771.5,917.1 772.5,915.1 773.4,913.2 774.3,911.4 775.3,909.6 776.2,907.8 777.1,906.0 778.1,904.3 779.0,902.6 779.9,900.8 780.9,899.1 781.8,897.3 782.7,895.6 783.6,893.8 784.6,892.0 785.5,890.2 786.4,888.3 787.4,886.5 788.3,884.6 789.2,882.7 790.2,880.7 791.1,878.8 792.0,876.9 793.0,875.0 793.9,873.0 794.8,871.2 795.8,869.4 796.7,867.6 797.6,865.9 798.6,864.4 799.5,862.9 800.4,861.6 801.4,860.3 802.3,859.2 803.2,858.1 804.2,857.1 805.1,856.2 806.0,855.3 806.9,854.5 807.9,853.8 808.8,853.1 809.7,852.5 810.7,852.0 811.6,851.6 812.5,851.2 813.5,850.9 814.4,850.7 815.3,850.6 816.3,850.5 817.2,850.5 818.1,850.5 819.1,850.6 820.0,850.8 820.9,851.1 821.9,851.4 822.8,851.8 823.7,852.2 824.7,852.8 825.6,853.4 826.5,854.1 827.5,854.8 828.4,855.7 829.3,856.6 830.2,857.5 831.2,858.6 832.1,859.7 833.0,860.9 834.0,862.2 834.9,863.5 835.8,865.0 836.8,866.6 837.7,868.3 838.6,870.1 839.6,872.0 840.5,873.9 841.4,875.8 842.4,877.7 843.3,879.6 844.2,881.6 845.2,883.5 846.1,885.4 847.0,887.3 848.0,889.1 848.9,891.0 849.8,892.8 850.8,894.6 851.7,896.3 852.6,898.1 853.5,899.8 854.5,901.6 855.4,903.3 856.3,905.1 857.3,906.8 858.2,908.6 859.1,910.3 860.1,912.2 861.0,914.0 861.9,916.0 862.9,918.0 863.8,920.2 864.7,922.4 865.7,924.7 866.6,927.1 867.5,929.6 868.5,932.1 869.4,934.7 870.3,937.2 871.3,939.6 872.2,942.0 873.1,944.4 874.1,946.7 875.0,948.9 875.9,951.0 876.8,953.1 877.8,955.2 878.7,957.2 879.6,959.2 880.6,961.1 881.5,963.0 882.4,965.0 883.4,966.8 884.3,968.7 885.2,970.5 886.2,972.3 887.1,974.1 888.0,975.8 889.0,977.5 889.9,979.2 890.8,980.8 891.8,982.4 892.7,983.9 893.6,985.4 894.6,986.9 895.5,988.3 896.4,989.7 897.4,991.1 898.3,992.4 899.2,993.7 900.1,995.0 901.1,996.3 902.0,997.5 902.9,998.7 903.9,999.8 904.8,1000.9 905.7,1002.0 906.7,1003.1 907.6,1004.1 908.5,1005.1 909.5,1006.1 910.4,1007.1 911.3,1008.1 912.3,1009.0 913.2,1009.9 914.1,1010.8 915.1,1011.7 916.0,1012.6 916.9,1013.4 917.9,1014.3 918.8,1015.1 919.7,1015.9 920.7,1016.7 921.6,1017.4 922.5,1018.2 923.4,1018.9 924.4,1019.6 925.3,1020.3 926.2,1021.0 927.2,1021.7 928.1,1022.3 929.0,1023.0 930.0,1023.6 930.9,1024.2 931.8,1024.8 932.8,1025.4 933.7,1025.9 934.6,1026.5 935.6,1027.0 936.5,1027.5 937.4,1028.1 938.4,1028.6 939.3,1029.0 940.2,1029.5 941.2,1030.0 942.1,1030.5 943.0,1030.9 944.0,1031.3 944.9,1031.8 945.8,1032.2 946.7,1032.6 947.7,1033.0 948.6,1033.4 949.5,1033.8 950.5,1034.1 951.4,1034.5 952.3,1034.9 953.3,1035.2 954.2,1035.6 955.1,1035.9 956.1,1036.2 957.0,1036.6 957.9,1036.9 958.9,1037.2 959.8,1037.5 960.7,1037.8 961.7,1038.2 962.6,1038.5 963.5,1038.8 964.5,1039.1 965.4,1039.4 966.3,1039.6 967.3,1039.9 968.2,1040.2 969.1,1040.5 970.0,1040.8 971.0,1041.0 971.9,1041.3 972.8,1041.5 973.8,1041.8 974.7,1042.0 975.6,1042.3 976.6,1042.5 977.5,1042.8 978.4,1043.0 979.4,1043.2 980.3,1043.4 981.2,1043.7 982.2,1043.9 983.1,1044.1 984.0,1044.3 985.0,1044.5 985.9,1044.7 986.8,1044.8 987.8,1045.0 988.7,1045.2 989.6,1045.4 990.6,1045.6 991.5,1045.7 992.4,1045.9 993.3,1046.1 994.3,1046.2 995.2,1046.4 996.1,1046.5 997.1,1046.7 998.0,1046.8 998.9,1047.0 999.9,1047.1 1000.8,1047.3 1001.7,1047.4 1002.7,1047.6 1003.6,1047.7 1004.5,1047.8 1005.5,1048.0 1006.4,1048.1 1007.3,1048.2 1008.3,1048.4 1009.2,1048.5 1010.1,1048.6 1011.1,1048.7 1012.0,1048.8 1012.9,1049.0 1013.9,1049.1 1014.8,1049.2 1015.7,1049.3 1016.6,1049.4 1017.6,1049.5 1018.5,1049.6 1019.4,1049.7 1020.4,1049.8 1021.3,1049.9 1022.2,1050.0 1023.2,1050.1 1024.1,1050.2 1025.0,1050.3 1026.0,1050.4 1026.9,1050.5 1027.8,1050.6 1028.8,1050.7 1029.7,1050.8 1030.6,1050.9 1031.6,1051.0 1032.5,1051.0 1033.4,1051.1 1034.4,1051.2 1035.3,1051.3 1036.2,1051.4 1037.2,1051.4 1038.1,1051.5 1039.0,1051.6 1039.9,1051.7 1040.9,1051.7 1041.8,1051.8 1042.7,1051.9 1043.7,1051.9 1044.6,1052.0 1045.5,1052.1 1046.5,1052.1 1047.4,1052.2 1048.3,1052.2 1049.3,1052.3 1050.2,1052.3" fill="none" stroke="#f00" stroke-width="0.8" stroke-dasharray="3 2" style="marker:url(#rf)"/>
<polyline points="584.2,1046.8 585.1,1046.7 586.1,1046.6 587.0,1046.5 587.9,1046.3 588.9,1046.2 589.8,1046.1 590.7,1045.9 591.7,1045.8 592.6,1045.6 593.5,1045.5 594.5,1045.4 595.4,1045.2 596.3,1045.1 597.2,1044.9 598.2,1044.8 599.1,1044.6 600.0,1044.5 601.0,1044.3 601.9,1044.1 602.8,1044.0 603.8,1043.8 604.7,1043.6 605.6,1043.4 606.6,1043.3 607.5,1043.1 608.4,1042.9 609.4,1042.7 610.3,1042.5 611.2,1042.3 612.2,1042.1 613.1,1041.9 614.0,1041.7 615.0,1041.5 615.9,1041.3 616.8,1041.1 617.8,1040.9 618.7,1040.7 619.6,1040.4 620.5,1040.2 621.5,1040.0 622.4,1039.7 623.3,1039.5 624.3,1039.3 625.2,1039.0 626.1,1038.8 627.1,1038.5 628.0,1038.2 628.9,1038.0 629.9,1037.7 630.8,1037.4 631.7,1037.1 632.7,1036.8 633.6,1036.5 634.5,1036.2 635.5,1035.9 636.4,1035.6 637.3,1035.3 638.3,1034.9 639.2,1034.6 640.1,1034.3 641.1,1033.9 642.0,1033.6 642.9,1033.2 643.8,1032.8 644.8,1032.5 645.7,1032.1 646.6,1031.7 647.6,1031.3 648.5,1030.9 649.4,1030.5 650.4,1030.0 651.3,1029.6 652.2,1029.2 653.2,1028.7 654.1,1028.2 655.0,1027.8 656.0,1027.3 656.9,1026.8 657.8,1026.3 658.8,1025.8 659.7,1025.3 660.6,1024.7 661.6,1024.2 662.5,1023.6 663.4,1023.1 664.4,1022.5 665.3,1021.9 666.2,1021.3 667.1,1020.7 668.1,1020.0 669.0,1019.4 669.9,1018.7 670.9,1018.0 671.8,1017.4 672.7,1016.6 673.7,1015.9 674.6,1015.2 675.5,1014.4 676.5,1013.7 677.4,1012.9 678.3,1012.1 679.3,1011.3 680.2,1010.5 681.1,1009.6 682.1,1008.7 683.0,1007.9 683.9,1007.0 684.9,1006.0 685.8,1005.1 686.7,1004.2 687.7,1003.2 688.6,1002.2 689.5,1001.2 690.4,1000.2 691.4,999.1 692.3,998.0 693.2,997.0 694.2,995.9 695.1,994.7 696.0,993.6 697.0,992.5 697.9,991.3 698.8,990.1 699.8,988.9 700.7,987.7 701.6,986.5 702.6,985.2 703.5,984.0 704.4,982.7 705.4,981.5 706.3,980.2 707.2,978.9 708.2,977.6 709.1,976.3 710.0,975.0 711.0,973.7 711.9,972.4 712.8,971.1 713.7,969.8 714.7,968.5 715.6,967.2 716.5,966.0 717.5,964.7 718.4,963.5 719.3,962.3 720.3,961.1 721.2,960.0 722.1,958.9 723.1,957.8 724.0,956.7 724.9,955.7 725.9,954.7 726.8,953.8 727.7,952.9 728.7,952.1 729.6,951.3 730.5,950.6 731.5,950.0 732.4,949.3 733.3,948.8 734.3,948.3 735.2,947.9 736.1,947.6 737.0,947.3 738.0,947.1 738.9,947.0 739.8,946.9 740.8,946.9 741.7,947.0 742.6,947.1 743.6,947.3 744.5,947.6 745.4,947.9 746.4,948.3 747.3,948.7 748.2,949.2 749.2,949.8 750.1,950.4 751.0,951.1 752.0,951.8 752.9,952.6 753.8,953.4 754.8,954.2 755.7,955.1 756.6,956.0 757.6,956.9 758.5,957.9 759.4,958.8 760.3,959.8 761.3,960.9 762.2,961.9 763.1,962.9 764.1,964.0 765.0,965.0 765.9,966.1 766.9,967.2 767.8,968.2 768.7,969.3 769.7,970.3 770.6,971.4 771.5,972.4 772.5,973.5 773.4,974.5 774.3,975.5 775.3,976.5 776.2,977.4 777.1,978.4 778.1,979.4 779.0,980.3 779.9,981.2 780.9,982.1 781.8,982.9 782.7,983.8 783.6,984.6 784.6,985.4 785.5,986.2 786.4,987.0 787.4,987.7 788.3,988.4 789.2,989.1 790.2,989.8 791.1,990.4 792.0,991.0 793.0,991.6 793.9,992.2 794.8,992.8 795.8,993.3 796.7,993.8 797.6,994.3 798.6,994.8 799.5,995.2 800.4,995.6 801.4,996.0 802.3,996.4 803.2,996.7 804.2,997.0 805.1,997.3 806.0,997.6 806.9,997.9 807.9,998.1 808.8,998.3 809.7,998.5 810.7,998.7 811.6,998.8 812.5,998.9 813.5,999.0 814.4,999.1 815.3,999.2 816.3,999.2 817.2,999.2 818.1,999.2 819.1,999.2 820.0,999.1 820.9,999.0 821.9,998.9 822.8,998.8 823.7,998.7 824.7,998.5 825.6,998.3 826.5,998.1 827.5,997.9 828.4,997.6 829.3,997.3 830.2,997.0 831.2,996.7 832.1,996.4 833.0,996.0 834.0,995.6 834.9,995.2 835.8,994.8 836.8,994.3 837.7,993.8 838.6,993.3 839.6,992.8 840.5,992.2 841.4,991.6 842.4,991.0 843.3,990.4 844.2,989.8 845.2,989.1 846.1,988.4 847.0,987.7 848.0,987.0 848.9,986.2 849.8,985.4 850.8,984.6 851.7,983.8 852.6,982.9 853.5,982.1 854.5,981.2 855.4,980.3 856.3,979.4 857.3,978.4 858.2,977.4 859.1,976.5 860.1,975.5 861.0,974.5 861.9,973.5 862.9,972.4 863.8,971.4 864.7,970.3 865.7,969.3 866.6,968.2 867.5,967.2 868.5,966.1 869.4,965.0 870.3,964.0 871.3,962.9 872.2,961.9 873.1,960.9 874.1,959.8 875.0,958.8 875.9,957.9 876.8,956.9 877.8,956.0 878.7,955.1 879.6,954.2 880.6,953.4 881.5,952.6 882.4,951.8 883.4,951.1 884.3,950.4 885.2,949.8 886.2,949.2 887.1,948.7 888.0,948.3 889.0,947.9 889.9,947.6 890.8,947.3 891.8,947.1 892.7,947.0 893.6,946.9 894.6,946.9 895.5,947.0 896.4,947.1 897.4,947.3 898.3,947.6 899.2,947.9 900.1,948.3 901.1,948.8 902.0,949.3 902.9,950.0 903.9,950.6 904.8,951.3 905.7,952.1 906.7,952.9 907.6,953.8 908.5,954.7 909.5,955.7 910.4,956.7 911.3,957.8 912.3,958.9 913.2,960.0 914.1,961.1 915.1,962.3 916.0,963.5 916.9,964.7 917.9,966.0 918.8,967.2 919.7,968.5 920.7,969.8 921.6,971.1 922.5,972.4 923.4,973.7 924.4,975.0 925.3,976.3 926.2,977.6 927.2,978.9 928.1,980.2 929.0,981.5 930.0,982.7 930.9,984.0 931.8,985.2 932.8,986.5 933.7,987.7 934.6,988.9 935.6,990.1 936.5,991.3 937.4,992.5 938.4,993.6 939.3,994.7 940.2,995.9 941.2,997.0 942.1,998.0 943.0,999.1 944.0,1000.2 944.9,1001.2 945.8,1002.2 946.7,1003.2 947.7,1004.2 948.6,1005.1 949.5,1006.0 950.5,1007.0 951.4,1007.9 952.3,1008.7 953.3,1009.6 954.2,1010.5 955.1,1011.3 956.1,1012.1 957.0,1012.9 957.9,1013.7 958.9,1014.4 959.8,1015.2 960.7,1015.9 961.7,1016.6 962.6,1017.4 963.5,1018.0 964.5,1018.7 965.4,1019.4 966.3,1020.0 967.3,1020.7 968.2,1021.3 969.1,1021.9 970.0,1022.5 971.0,1023.1 971.9,1023.6 972.8,1024.2 973.8,1024.7 974.7,1025.3 975.6,1025.8 976.6,1026.3 977.5,1026.8 978.4,1027.3 979.4,1027.8 980.3,1028.2 981.2,1028.7 982.2,1029.2 983.1,1029.6 984.0,1030.0 985.0,1030.5 985.9,1030.9 986.8,1031.3 987.8,1031.7 988.7,1032.1 989.6,1032.5 990.6,1032.8 991.5,1033.2 992.4,1033.6 993.3,1033.9 994.3,1034.3 995.2,1034.6 996.1,1034.9 997.1,1035.3 998.0,1035.6 998.9,1035.9 999.9,1036.2 1000.8,1036.5 1001.7,1036.8 1002.7,1037.1 1003.6,1037.4 1004.5,1037.7 1005.5,1038.0 1006.4,1038.2 1007.3,1038.5 1008.3,1038.8 1009.2,1039.0 1010.1,1039.3 1011.1,1039.5 1012.0,1039.7 1012.9,1040.0 1013.9,1040.2 1014.8,1040.4 1015.7,1040.7 1016.6,1040.9 1017.6,1041.1 1018.5,1041.3 1019.4,1041.5 1020.4,1041.7 1021.3,1041.9 1022.2,1042.1 1023.2,1042.3 1024.1,1042.5 1025.0,1042.7 1026.0,1042.9 1026.9,1043.1 1027.8,1043.3 1028.8,1043.4 1029.7,1043.6 1030.6,1043.8 1031.6,1044.0 1032.5,1044.1 1033.4,1044.3 1034.4,1044.5 1035.3,1044.6 1036.2,1044.8 1037.2,1044.9 1038.1,1045.1 1039.0,1045.2 1039.9,1045.4 1040.9,1045.5 1041.8,1045.6 1042.7,1045.8 1043.7,1045.9 1044.6,1046.1 1045.5,1046.2 1046.5,1046.3 1047.4,1046.5 1048.3,1046.6 1049.3,1046.7 1050.2,1046.8" fill="none" stroke="#00f" stroke-width="0.8" stroke-dasharray="1 2" style="marker:url(#bf)"/>
</g>
<text x="90.8" y="80.2" font-size="27" text-anchor="end">0.4</text>
<text x="90.8" y="208.3" font-size="27" text-anchor="end">0.3</text>
<text x="90.8" y="336.4" font-size="27" text-anchor="end">0.2</text>
<text x="92.0" y="424.1" font-size="27" text-anchor="end">0.8</text>
<text x="92.0" y="510.3" font-size="27" text-anchor="end">0.6</text>
<text x="92.0" y="596.4" font-size="27" text-anchor="end">0.4</text>
<text x="92.0" y="682.6" font-size="27" text-anchor="end">0.2</text>
<text x="94.5" y="820.8" font-size="27" text-anchor="end">0.8</text>
<text x="94.5" y="903.3" font-size="27" text-anchor="end">0.6</text>
<text x="94.5" y="985.6" font-size="27" text-anchor="end">0.4</text>
<text x="94.5" y="1067.5" font-size="27" text-anchor="end">0.2</text>
<text x="1052.8" y="67.3" font-size="27">0.4</text>
<text x="1052.8" y="198.0" font-size="27">0.3</text>
<text x="1052.8" y="328.5" font-size="27">0.2</text>
<text x="1052.5" y="422.8" font-size="27">0.8</text>
<text x="1052.5" y="516.3" font-size="27">0.6</text>
<text x="1052.5" y="609.0" font-size="27">0.4</text>
<text x="1052.5" y="701.6" font-size="27">0.2</text>
<text x="1053.1" y="809.3" font-size="27">0.8</text>
<text x="1053.1" y="895.5" font-size="27">0.6</text>
<text x="1053.1" y="981.3" font-size="27">0.4</text>
<text x="1053.1" y="1067.1" font-size="27">0.2</text>
<text x="147.7" y="1109.3" font-size="27" text-anchor="middle">-200</text>
<text x="241.7" y="1109.3" font-size="27" text-anchor="middle">-100</text>
<text x="335.2" y="1109.3" font-size="27" text-anchor="middle">0</text>
<text x="429.2" y="1109.3" font-size="27" text-anchor="middle">100</text>
<text x="523.2" y="1109.3" font-size="27" text-anchor="middle">200</text>
<text x="631.3" y="1109.3" font-size="27" text-anchor="middle">-200</text>
<text x="724.5" y="1109.3" font-size="27" text-anchor="middle">-100</text>
<text x="817.2" y="1109.3" font-size="27" text-anchor="middle">0</text>
<text x="910.4" y="1109.3" font-size="27" text-anchor="middle">100</text>
<text x="1003.6" y="1109.3" font-size="27" text-anchor="middle">200</text>
<text x="1029" y="1109.6" font-size="28"><tspan class="n">x</tspan>10</text>
<rect x="1074.3" y="1088.8" width="7.3" height="1.2" fill="#000"/>
<text x="1082.6" y="1093.2" font-size="17">6</text>
<text transform="translate(117.2 1151) scale(1 1.05)" font-size="38.9">Raman detuning (kHz)</text>
<text transform="translate(642.7 1151.9) scale(1 1.05)" font-size="38.9">Raman detuning</text>
<text x="958.5" y="1151.5" font-size="41" class="s">(δ)</text>
<rect x="970.8" y="1117.3" width="18.3" height="3" fill="#000"/>
<text transform="translate(40.8 842.5) rotate(-90) scale(1 1.03)" font-size="40.8">Transmitted Intensity (arb. units)</text>
<text transform="translate(1131.8 676) rotate(-90) scale(1 1.03)" font-size="40.8">Transmission</text>
<text transform="translate(158.01 32.50) scale(1 1.040)" font-size="27.00" text-anchor="start">(a)</text>
<text transform="translate(112.12 63.70) scale(1 1.040)" font-size="26.20" text-anchor="start">Coupling power</text>
<text transform="translate(141.91 97.50) scale(1 1.040)" font-size="26.40" text-anchor="start">= 1 mW</text>
<text transform="translate(163.01 400.20) scale(1 1.040)" font-size="27.00" text-anchor="start">(b)</text>
<text transform="translate(110.02 432.70) scale(1 1.040)" font-size="26.20" text-anchor="start">Coupling power</text>
<text transform="translate(138.91 466.00) scale(1 1.040)" font-size="26.40" text-anchor="start">= 10 mW</text>
<text transform="translate(157.21 761.20) scale(1 1.040)" font-size="27.00" text-anchor="start">(c)</text>
<text transform="translate(112.02 791.80) scale(1 1.040)" font-size="26.20" text-anchor="start">Coupling power</text>
<text transform="translate(141.01 825.10) scale(1 1.040)" font-size="26.40" text-anchor="start">= 22 mW</text>
<text transform="translate(629.01 33.20) scale(1 1.040)" font-size="27.00" text-anchor="start">(d)</text>
<rect x="591.4" y="49.0" width="19.6" height="2.2" fill="#000"/>
<text transform="translate(590.72 72.00) scale(1 1.000)" font-size="29.50" text-anchor="start" class="s">Ω</text>
<text transform="translate(611.09 78.80) scale(1 1.040)" font-size="22.50" text-anchor="start">C</text>
<text transform="translate(635.00 72.40) scale(1 1.040)" font-size="26.60" text-anchor="start">= 1.8 x10</text>
<rect x="747.8" y="56.2" width="12.8" height="1.5" fill="#000"/>
<text transform="translate(761.22 64.30) scale(1 1.040)" font-size="24.00" text-anchor="start">3</text>
<text transform="translate(636.81 402.10) scale(1 1.040)" font-size="27.00" text-anchor="start">(e)</text>
<rect x="593.4" y="410.3" width="19.6" height="2.2" fill="#000"/>
<text transform="translate(592.72 433.30) scale(1 1.000)" font-size="29.50" text-anchor="start" class="s">Ω</text>
<text transform="translate(613.09 440.10) scale(1 1.040)" font-size="22.50" text-anchor="start">C</text>
<text transform="translate(637.00 433.70) scale(1 1.040)" font-size="26.60" text-anchor="start">= 5.7 x10</text>
<rect x="749.8" y="417.5" width="12.8" height="1.5" fill="#000"/>
<text transform="translate(763.22 425.60) scale(1 1.040)" font-size="24.00" text-anchor="start">3</text>
<text transform="translate(632.21 767.50) scale(1 1.040)" font-size="27.00" text-anchor="start">(f)</text>
<rect x="597.3" y="775.7" width="19.6" height="2.2" fill="#000"/>
<text transform="translate(596.62 798.70) scale(1 1.000)" font-size="29.50" text-anchor="start" class="s">Ω</text>
<text transform="translate(616.99 805.50) scale(1 1.040)" font-size="22.50" text-anchor="start">C</text>
<text transform="translate(640.90 799.10) scale(1 1.040)" font-size="26.60" text-anchor="start">= 8.6 x10</text>
<rect x="753.7" y="782.9" width="12.8" height="1.5" fill="#000"/>
<text transform="translate(767.12 791.00) scale(1 1.040)" font-size="24.00" text-anchor="start">3</text>
<rect x="381.10" y="18.45" width="172.90" height="96.30" fill="#fff" stroke="#3a3a3a" stroke-width="1"/>
<path d="M384.1 39.4H421.9" stroke="#000" stroke-width="0.9" fill="none"/>
<rect x="399.40" y="35.90" width="7.00" height="7.00" fill="#fff" stroke="#fff" stroke-width="3.4"/>
<rect x="399.40" y="35.90" width="7.00" height="7.00" fill="#fff" stroke="#000" stroke-width="1"/>
<text transform="translate(428.44 44.70) scale(1 1.000)" font-size="25.20" text-anchor="start">B = 0 mG</text>
<path d="M384.1 71.6H421.9" stroke="#f00" stroke-width="0.9" stroke-dasharray="3 2" fill="none"/>
<circle cx="402.90" cy="71.60" r="4.05" fill="#fff" stroke="#f00" stroke-width="0.9"/>
<path d="M398.85 71.60H406.95M402.90 67.55V75.65" stroke="#f00" stroke-width="0.8"/>
<text transform="translate(428.44 77.40) scale(1 1.000)" font-size="25.20" text-anchor="start">B = 10 mG</text>
<path d="M384.1 102.4H421.9" stroke="#00f" stroke-width="0.9" stroke-dasharray="1 2" fill="none"/>
<path d="M397.65 106.81L402.90 96.31L408.15 106.81Z" fill="#00f"/>
<text transform="translate(428.44 108.00) scale(1 1.000)" font-size="25.20" text-anchor="start">B = 30 mG</text>
<rect x="828.60" y="17.80" width="202.10" height="134.70" fill="#fff" stroke="#555" stroke-width="1"/>
<path d="M834.3 43.2H863.9" stroke="#000" stroke-width="0.9" fill="none"/>
<rect x="845.60" y="39.90" width="6.60" height="6.60" fill="#fff" stroke="#fff" stroke-width="3.4"/>
<rect x="845.60" y="39.90" width="6.60" height="6.60" fill="#fff" stroke="#000" stroke-width="1"/>
<rect x="869.4" y="25.6" width="15.4" height="2.0" fill="#000"/>
<text transform="translate(869.33 48.20) scale(1 1.000)" font-size="23.60" text-anchor="start" class="s">Δ</text>
<text transform="translate(884.23 55.60) scale(1 1.040)" font-size="19.00" text-anchor="start">Z</text>
<text transform="translate(902.62 48.20) scale(1 1.040)" font-size="24.40" text-anchor="start">=</text>
<text transform="translate(922.58 48.20) scale(1 1.000)" font-size="20.50" text-anchor="start">0</text>
<path d="M834.3 89.2H863.9" stroke="#f00" stroke-width="0.9" stroke-dasharray="3 2" fill="none"/>
<circle cx="848.90" cy="89.20" r="3.85" fill="#fff" stroke="#f00" stroke-width="0.9"/>
<path d="M845.05 89.20H852.75M848.90 85.35V93.05" stroke="#f00" stroke-width="0.8"/>
<rect x="869.4" y="70.7" width="15.4" height="2.0" fill="#000"/>
<text transform="translate(869.33 93.30) scale(1 1.000)" font-size="23.60" text-anchor="start" class="s">Δ</text>
<text transform="translate(884.23 100.70) scale(1 1.040)" font-size="19.00" text-anchor="start">Z</text>
<text transform="translate(902.62 93.30) scale(1 1.040)" font-size="24.40" text-anchor="start">=</text>
<text transform="translate(923.02 93.30) scale(1 1.040)" font-size="24.40" text-anchor="start">28 x10</text>
<rect x="997.9" y="80.4" width="10.1" height="1.5" fill="#000"/>
<text transform="translate(1008.52 86.30) scale(1 1.040)" font-size="22.00" text-anchor="start">6</text>
<path d="M834.3 134.6H863.9" stroke="#00f" stroke-width="0.9" stroke-dasharray="1 2" fill="none"/>
<path d="M843.65 139.01L848.90 128.51L854.15 139.01Z" fill="#00f"/>
<rect x="869.4" y="116.0" width="15.4" height="2.0" fill="#000"/>
<text transform="translate(869.33 138.60) scale(1 1.000)" font-size="23.60" text-anchor="start" class="s">Δ</text>
<text transform="translate(884.23 146.00) scale(1 1.040)" font-size="19.00" text-anchor="start">Z</text>
<text transform="translate(902.62 138.60) scale(1 1.040)" font-size="24.40" text-anchor="start">=</text>
<text transform="translate(923.02 138.60) scale(1 1.040)" font-size="24.40" text-anchor="start">84 x10</text>
<rect x="997.9" y="125.7" width="10.1" height="1.5" fill="#000"/>
<text transform="translate(1008.52 131.60) scale(1 1.040)" font-size="22.00" text-anchor="start">6</text>
</svg></body></html>
